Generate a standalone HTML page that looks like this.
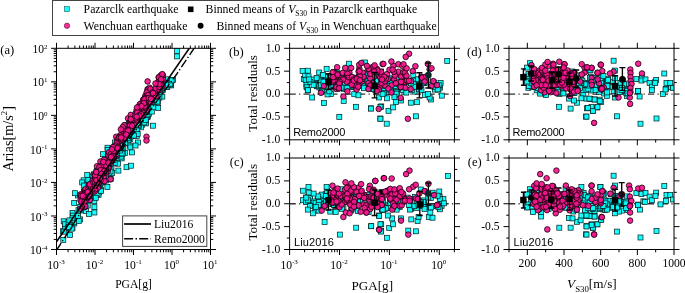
<!DOCTYPE html><html><head><meta charset="utf-8"><style>html,body{margin:0;padding:0;background:#fff}svg{display:block;will-change:transform}</style></head><body>
<svg width="685" height="293" viewBox="0 0 685 293">
<rect width="685" height="293" fill="#fff"/>
<rect x="52.5" y="0.5" width="386" height="35" fill="#fff" stroke="#444" stroke-width="1"/>
<rect x="64.5" y="6.7" width="4.9" height="4.9" fill="#19FFFF" stroke="#003b3b" stroke-width="0.5"/>
<circle cx="67.0" cy="25.8" r="2.7" fill="#FF2B9D" stroke="#30001a" stroke-width="0.5"/>
<text x="83.6" y="13.2" font-size="11.75" text-anchor="start" style="font-family:'Liberation Serif',serif;" >Pazarclk earthquake</text>
<text x="83.6" y="29.6" font-size="11.75" text-anchor="start" style="font-family:'Liberation Serif',serif;" >Wenchuan earthquake</text>
<rect x="187.9" y="6.5" width="5.6" height="5.6" fill="#000"/>
<circle cx="200.6" cy="25.8" r="2.95" fill="#000"/>
<text x="205.6" y="13.2" font-size="11.75" style="font-family:'Liberation Serif',serif;">Binned means of <tspan font-style="italic">V</tspan><tspan dy="3" font-size="7.6">S30</tspan><tspan dy="-3"> in Pazarclk earthquake</tspan></text>
<text x="216.5" y="29.6" font-size="11.75" style="font-family:'Liberation Serif',serif;">Binned means of <tspan font-style="italic">V</tspan><tspan dy="3" font-size="7.6">S30</tspan><tspan dy="-3"> in Wenchuan earthquake</tspan></text>
<clipPath id="ca"><rect x="56.5" y="48.3" width="154" height="201.2"/></clipPath>
<g clip-path="url(#ca)" fill="#00FFFF" fill-opacity="0.9" stroke="#001a1a" stroke-width="0.7"><rect x="61.2" y="218.8" width="5.0" height="5.0"/><rect x="70.0" y="225.6" width="5.0" height="5.0"/><rect x="88.6" y="180.2" width="5.0" height="5.0"/><rect x="83.5" y="208.4" width="5.0" height="5.0"/><rect x="62.8" y="224.8" width="5.0" height="5.0"/><rect x="76.0" y="207.7" width="5.0" height="5.0"/><rect x="75.4" y="193.0" width="5.0" height="5.0"/><rect x="67.6" y="232.4" width="5.0" height="5.0"/><rect x="86.0" y="183.3" width="5.0" height="5.0"/><rect x="64.0" y="226.1" width="5.0" height="5.0"/><rect x="75.6" y="215.6" width="5.0" height="5.0"/><rect x="79.0" y="202.0" width="5.0" height="5.0"/><rect x="72.5" y="190.7" width="5.0" height="5.0"/><rect x="80.8" y="193.8" width="5.0" height="5.0"/><rect x="87.6" y="190.7" width="5.0" height="5.0"/><rect x="94.0" y="169.2" width="5.0" height="5.0"/><rect x="71.0" y="218.9" width="5.0" height="5.0"/><rect x="83.0" y="189.8" width="5.0" height="5.0"/><rect x="83.4" y="179.8" width="5.0" height="5.0"/><rect x="71.8" y="220.9" width="5.0" height="5.0"/><rect x="60.8" y="237.4" width="5.0" height="5.0"/><rect x="98.4" y="187.0" width="5.0" height="5.0"/><rect x="70.0" y="210.6" width="5.0" height="5.0"/><rect x="71.7" y="215.3" width="5.0" height="5.0"/><rect x="94.4" y="187.0" width="5.0" height="5.0"/><rect x="81.9" y="199.7" width="5.0" height="5.0"/><rect x="78.0" y="208.0" width="5.0" height="5.0"/><rect x="88.1" y="184.3" width="5.0" height="5.0"/><rect x="60.5" y="228.7" width="5.0" height="5.0"/><rect x="85.7" y="188.8" width="5.0" height="5.0"/><rect x="71.7" y="200.5" width="5.0" height="5.0"/><rect x="62.8" y="225.3" width="5.0" height="5.0"/><rect x="82.8" y="185.9" width="5.0" height="5.0"/><rect x="93.4" y="172.0" width="5.0" height="5.0"/><rect x="67.6" y="220.8" width="5.0" height="5.0"/><rect x="86.4" y="211.4" width="5.0" height="5.0"/><rect x="70.5" y="213.1" width="5.0" height="5.0"/><rect x="88.6" y="194.6" width="5.0" height="5.0"/><rect x="87.2" y="192.8" width="5.0" height="5.0"/><rect x="69.2" y="226.2" width="5.0" height="5.0"/><rect x="89.8" y="178.9" width="5.0" height="5.0"/><rect x="81.1" y="177.8" width="5.0" height="5.0"/><rect x="86.4" y="198.0" width="5.0" height="5.0"/><rect x="89.6" y="180.5" width="5.0" height="5.0"/><rect x="77.7" y="216.9" width="5.0" height="5.0"/><rect x="87.2" y="183.7" width="5.0" height="5.0"/><rect x="91.0" y="173.3" width="5.0" height="5.0"/><rect x="62.6" y="221.7" width="5.0" height="5.0"/><rect x="91.9" y="184.6" width="5.0" height="5.0"/><rect x="76.3" y="218.6" width="5.0" height="5.0"/><rect x="77.7" y="204.5" width="5.0" height="5.0"/><rect x="65.5" y="225.2" width="5.0" height="5.0"/><rect x="87.0" y="197.5" width="5.0" height="5.0"/><rect x="71.5" y="219.7" width="5.0" height="5.0"/><rect x="93.2" y="186.1" width="5.0" height="5.0"/><rect x="69.9" y="215.8" width="5.0" height="5.0"/><rect x="79.4" y="192.8" width="5.0" height="5.0"/><rect x="75.5" y="213.3" width="5.0" height="5.0"/><rect x="82.0" y="193.5" width="5.0" height="5.0"/><rect x="67.4" y="222.5" width="5.0" height="5.0"/><rect x="66.0" y="219.5" width="5.0" height="5.0"/><rect x="87.6" y="188.3" width="5.0" height="5.0"/><rect x="84.7" y="172.6" width="5.0" height="5.0"/><rect x="79.6" y="192.6" width="5.0" height="5.0"/><rect x="96.5" y="190.0" width="5.0" height="5.0"/><rect x="66.9" y="217.9" width="5.0" height="5.0"/><rect x="89.9" y="174.6" width="5.0" height="5.0"/><rect x="66.4" y="224.3" width="5.0" height="5.0"/><rect x="94.3" y="168.5" width="5.0" height="5.0"/><rect x="83.9" y="200.4" width="5.0" height="5.0"/><rect x="82.7" y="198.5" width="5.0" height="5.0"/><rect x="97.2" y="181.8" width="5.0" height="5.0"/><rect x="88.3" y="182.2" width="5.0" height="5.0"/><rect x="91.8" y="198.7" width="5.0" height="5.0"/><rect x="61.7" y="229.2" width="5.0" height="5.0"/><rect x="105.6" y="158.1" width="5.0" height="5.0"/><rect x="87.5" y="187.0" width="5.0" height="5.0"/><rect x="96.1" y="184.4" width="5.0" height="5.0"/><rect x="95.8" y="174.6" width="5.0" height="5.0"/><rect x="139.5" y="122.5" width="5.0" height="5.0"/><rect x="91.4" y="188.8" width="5.0" height="5.0"/><rect x="103.5" y="178.0" width="5.0" height="5.0"/><rect x="115.5" y="155.7" width="5.0" height="5.0"/><rect x="138.2" y="119.5" width="5.0" height="5.0"/><rect x="144.4" y="102.3" width="5.0" height="5.0"/><rect x="128.7" y="131.7" width="5.0" height="5.0"/><rect x="97.3" y="182.0" width="5.0" height="5.0"/><rect x="118.0" y="146.2" width="5.0" height="5.0"/><rect x="129.0" y="133.7" width="5.0" height="5.0"/><rect x="85.0" y="188.5" width="5.0" height="5.0"/><rect x="126.0" y="129.7" width="5.0" height="5.0"/><rect x="104.9" y="155.2" width="5.0" height="5.0"/><rect x="122.5" y="150.4" width="5.0" height="5.0"/><rect x="126.0" y="134.4" width="5.0" height="5.0"/><rect x="125.1" y="129.9" width="5.0" height="5.0"/><rect x="114.4" y="137.9" width="5.0" height="5.0"/><rect x="118.1" y="143.1" width="5.0" height="5.0"/><rect x="97.2" y="188.1" width="5.0" height="5.0"/><rect x="115.1" y="153.1" width="5.0" height="5.0"/><rect x="89.4" y="179.8" width="5.0" height="5.0"/><rect x="115.5" y="161.2" width="5.0" height="5.0"/><rect x="119.2" y="155.9" width="5.0" height="5.0"/><rect x="134.0" y="130.2" width="5.0" height="5.0"/><rect x="109.0" y="165.0" width="5.0" height="5.0"/><rect x="85.2" y="203.0" width="5.0" height="5.0"/><rect x="117.4" y="150.5" width="5.0" height="5.0"/><rect x="96.7" y="182.7" width="5.0" height="5.0"/><rect x="129.4" y="121.0" width="5.0" height="5.0"/><rect x="109.7" y="170.4" width="5.0" height="5.0"/><rect x="107.4" y="162.3" width="5.0" height="5.0"/><rect x="143.5" y="120.9" width="5.0" height="5.0"/><rect x="105.0" y="145.2" width="5.0" height="5.0"/><rect x="106.0" y="168.6" width="5.0" height="5.0"/><rect x="106.3" y="170.6" width="5.0" height="5.0"/><rect x="113.1" y="148.8" width="5.0" height="5.0"/><rect x="89.0" y="191.1" width="5.0" height="5.0"/><rect x="118.9" y="150.2" width="5.0" height="5.0"/><rect x="143.3" y="114.9" width="5.0" height="5.0"/><rect x="118.1" y="139.6" width="5.0" height="5.0"/><rect x="130.5" y="125.3" width="5.0" height="5.0"/><rect x="145.3" y="114.0" width="5.0" height="5.0"/><rect x="138.6" y="124.8" width="5.0" height="5.0"/><rect x="130.8" y="126.9" width="5.0" height="5.0"/><rect x="135.9" y="123.4" width="5.0" height="5.0"/><rect x="136.4" y="123.2" width="5.0" height="5.0"/><rect x="100.2" y="180.0" width="5.0" height="5.0"/><rect x="112.2" y="143.7" width="5.0" height="5.0"/><rect x="102.7" y="155.0" width="5.0" height="5.0"/><rect x="99.5" y="172.8" width="5.0" height="5.0"/><rect x="117.9" y="134.8" width="5.0" height="5.0"/><rect x="102.1" y="162.5" width="5.0" height="5.0"/><rect x="122.6" y="138.7" width="5.0" height="5.0"/><rect x="120.8" y="144.9" width="5.0" height="5.0"/><rect x="87.6" y="179.3" width="5.0" height="5.0"/><rect x="112.2" y="160.4" width="5.0" height="5.0"/><rect x="105.2" y="147.4" width="5.0" height="5.0"/><rect x="129.0" y="133.6" width="5.0" height="5.0"/><rect x="85.8" y="177.4" width="5.0" height="5.0"/><rect x="91.5" y="171.8" width="5.0" height="5.0"/><rect x="116.5" y="152.7" width="5.0" height="5.0"/><rect x="108.0" y="155.6" width="5.0" height="5.0"/><rect x="124.4" y="128.1" width="5.0" height="5.0"/><rect x="103.3" y="162.1" width="5.0" height="5.0"/><rect x="95.8" y="181.3" width="5.0" height="5.0"/><rect x="143.5" y="111.8" width="5.0" height="5.0"/><rect x="98.1" y="173.4" width="5.0" height="5.0"/><rect x="93.3" y="190.2" width="5.0" height="5.0"/><rect x="99.5" y="165.2" width="5.0" height="5.0"/><rect x="103.7" y="161.2" width="5.0" height="5.0"/><rect x="96.2" y="171.8" width="5.0" height="5.0"/><rect x="118.8" y="154.1" width="5.0" height="5.0"/><rect x="144.6" y="114.8" width="5.0" height="5.0"/><rect x="92.3" y="193.8" width="5.0" height="5.0"/><rect x="109.2" y="157.2" width="5.0" height="5.0"/><rect x="125.5" y="132.3" width="5.0" height="5.0"/><rect x="141.1" y="119.3" width="5.0" height="5.0"/><rect x="147.7" y="104.2" width="5.0" height="5.0"/><rect x="92.8" y="188.9" width="5.0" height="5.0"/><rect x="118.2" y="150.9" width="5.0" height="5.0"/><rect x="139.8" y="114.4" width="5.0" height="5.0"/><rect x="85.6" y="191.1" width="5.0" height="5.0"/><rect x="120.4" y="140.2" width="5.0" height="5.0"/><rect x="96.0" y="192.4" width="5.0" height="5.0"/><rect x="135.4" y="140.0" width="5.0" height="5.0"/><rect x="143.9" y="111.0" width="5.0" height="5.0"/><rect x="117.3" y="145.8" width="5.0" height="5.0"/><rect x="79.7" y="179.9" width="5.0" height="5.0"/><rect x="86.8" y="192.1" width="5.0" height="5.0"/><rect x="109.3" y="157.3" width="5.0" height="5.0"/><rect x="137.3" y="116.3" width="5.0" height="5.0"/><rect x="98.8" y="179.8" width="5.0" height="5.0"/><rect x="123.6" y="122.4" width="5.0" height="5.0"/><rect x="108.3" y="156.8" width="5.0" height="5.0"/><rect x="99.7" y="172.6" width="5.0" height="5.0"/><rect x="126.3" y="121.3" width="5.0" height="5.0"/><rect x="103.5" y="173.5" width="5.0" height="5.0"/><rect x="108.0" y="168.9" width="5.0" height="5.0"/><rect x="130.1" y="114.5" width="5.0" height="5.0"/><rect x="112.5" y="140.0" width="5.0" height="5.0"/><rect x="134.4" y="128.0" width="5.0" height="5.0"/><rect x="115.8" y="147.6" width="5.0" height="5.0"/><rect x="91.0" y="173.1" width="5.0" height="5.0"/><rect x="110.7" y="152.6" width="5.0" height="5.0"/><rect x="139.7" y="117.2" width="5.0" height="5.0"/><rect x="118.8" y="142.2" width="5.0" height="5.0"/><rect x="146.3" y="111.6" width="5.0" height="5.0"/><rect x="82.9" y="199.3" width="5.0" height="5.0"/><rect x="106.9" y="176.9" width="5.0" height="5.0"/><rect x="134.2" y="133.5" width="5.0" height="5.0"/><rect x="127.8" y="136.5" width="5.0" height="5.0"/><rect x="120.3" y="151.1" width="5.0" height="5.0"/><rect x="127.3" y="143.1" width="5.0" height="5.0"/><rect x="140.4" y="119.6" width="5.0" height="5.0"/><rect x="125.0" y="123.4" width="5.0" height="5.0"/><rect x="119.1" y="150.9" width="5.0" height="5.0"/><rect x="119.0" y="143.9" width="5.0" height="5.0"/><rect x="127.9" y="144.9" width="5.0" height="5.0"/><rect x="103.5" y="166.7" width="5.0" height="5.0"/><rect x="126.5" y="137.0" width="5.0" height="5.0"/><rect x="122.7" y="140.8" width="5.0" height="5.0"/><rect x="135.2" y="131.5" width="5.0" height="5.0"/><rect x="113.8" y="152.5" width="5.0" height="5.0"/><rect x="83.7" y="192.3" width="5.0" height="5.0"/><rect x="117.6" y="148.0" width="5.0" height="5.0"/><rect x="138.5" y="117.5" width="5.0" height="5.0"/><rect x="124.1" y="137.2" width="5.0" height="5.0"/><rect x="124.1" y="135.7" width="5.0" height="5.0"/><rect x="108.1" y="161.6" width="5.0" height="5.0"/><rect x="108.2" y="176.4" width="5.0" height="5.0"/><rect x="128.5" y="125.8" width="5.0" height="5.0"/><rect x="87.4" y="189.6" width="5.0" height="5.0"/><rect x="139.2" y="117.5" width="5.0" height="5.0"/><rect x="140.4" y="119.5" width="5.0" height="5.0"/><rect x="144.8" y="105.0" width="5.0" height="5.0"/><rect x="90.1" y="179.0" width="5.0" height="5.0"/><rect x="89.7" y="185.5" width="5.0" height="5.0"/><rect x="141.5" y="117.4" width="5.0" height="5.0"/><rect x="108.3" y="158.4" width="5.0" height="5.0"/><rect x="99.2" y="167.6" width="5.0" height="5.0"/><rect x="105.9" y="154.5" width="5.0" height="5.0"/><rect x="125.9" y="137.8" width="5.0" height="5.0"/><rect x="94.8" y="191.5" width="5.0" height="5.0"/><rect x="114.4" y="152.8" width="5.0" height="5.0"/><rect x="125.5" y="135.5" width="5.0" height="5.0"/><rect x="129.8" y="131.5" width="5.0" height="5.0"/><rect x="81.8" y="189.0" width="5.0" height="5.0"/><rect x="135.5" y="122.3" width="5.0" height="5.0"/><rect x="110.1" y="153.7" width="5.0" height="5.0"/><rect x="111.0" y="157.5" width="5.0" height="5.0"/><rect x="118.8" y="143.2" width="5.0" height="5.0"/><rect x="98.8" y="161.7" width="5.0" height="5.0"/><rect x="141.4" y="120.0" width="5.0" height="5.0"/><rect x="98.5" y="188.5" width="5.0" height="5.0"/><rect x="117.2" y="143.5" width="5.0" height="5.0"/><rect x="93.8" y="183.6" width="5.0" height="5.0"/><rect x="122.7" y="140.2" width="5.0" height="5.0"/><rect x="142.2" y="117.4" width="5.0" height="5.0"/><rect x="139.4" y="111.6" width="5.0" height="5.0"/><rect x="93.3" y="195.3" width="5.0" height="5.0"/><rect x="122.3" y="134.3" width="5.0" height="5.0"/><rect x="141.9" y="120.0" width="5.0" height="5.0"/><rect x="95.4" y="178.3" width="5.0" height="5.0"/><rect x="108.7" y="154.7" width="5.0" height="5.0"/><rect x="128.5" y="128.2" width="5.0" height="5.0"/><rect x="131.5" y="133.1" width="5.0" height="5.0"/><rect x="151.9" y="96.1" width="5.0" height="5.0"/><rect x="158.2" y="89.0" width="5.0" height="5.0"/><rect x="159.1" y="87.2" width="5.0" height="5.0"/><rect x="148.1" y="97.7" width="5.0" height="5.0"/><rect x="159.8" y="94.1" width="5.0" height="5.0"/><rect x="156.9" y="95.1" width="5.0" height="5.0"/><rect x="160.3" y="87.4" width="5.0" height="5.0"/><rect x="155.2" y="100.1" width="5.0" height="5.0"/><rect x="148.1" y="101.1" width="5.0" height="5.0"/><rect x="151.9" y="99.5" width="5.0" height="5.0"/><rect x="168.7" y="82.9" width="5.0" height="5.0"/><rect x="144.7" y="114.6" width="5.0" height="5.0"/><rect x="141.2" y="105.6" width="5.0" height="5.0"/><rect x="136.1" y="108.2" width="5.0" height="5.0"/><rect x="164.6" y="76.8" width="5.0" height="5.0"/><rect x="170.4" y="77.5" width="5.0" height="5.0"/><rect x="145.2" y="107.4" width="5.0" height="5.0"/><rect x="146.4" y="106.9" width="5.0" height="5.0"/><rect x="144.8" y="112.9" width="5.0" height="5.0"/><rect x="156.6" y="89.0" width="5.0" height="5.0"/><rect x="153.7" y="98.1" width="5.0" height="5.0"/><rect x="164.8" y="84.5" width="5.0" height="5.0"/><rect x="145.0" y="111.9" width="5.0" height="5.0"/><rect x="166.4" y="80.4" width="5.0" height="5.0"/><rect x="152.4" y="96.4" width="5.0" height="5.0"/><rect x="164.2" y="84.1" width="5.0" height="5.0"/><rect x="163.4" y="81.2" width="5.0" height="5.0"/><rect x="168.0" y="82.0" width="5.0" height="5.0"/><rect x="155.7" y="105.5" width="5.0" height="5.0"/><rect x="157.0" y="89.1" width="5.0" height="5.0"/><rect x="154.5" y="86.5" width="5.0" height="5.0"/><rect x="143.8" y="109.7" width="5.0" height="5.0"/><rect x="154.3" y="97.9" width="5.0" height="5.0"/><rect x="168.4" y="80.4" width="5.0" height="5.0"/><rect x="167.8" y="81.3" width="5.0" height="5.0"/><rect x="138.2" y="116.4" width="5.0" height="5.0"/><rect x="158.7" y="86.4" width="5.0" height="5.0"/><rect x="149.3" y="109.1" width="5.0" height="5.0"/><rect x="141.6" y="110.0" width="5.0" height="5.0"/><rect x="143.2" y="117.3" width="5.0" height="5.0"/><rect x="163.3" y="82.2" width="5.0" height="5.0"/><rect x="169.2" y="77.9" width="5.0" height="5.0"/><rect x="155.1" y="98.2" width="5.0" height="5.0"/><rect x="150.8" y="104.8" width="5.0" height="5.0"/><rect x="154.9" y="99.1" width="5.0" height="5.0"/><rect x="81.5" y="183.1" width="5.0" height="5.0"/><rect x="81.5" y="189.5" width="5.0" height="5.0"/><rect x="115.9" y="168.1" width="5.0" height="5.0"/><rect x="104.9" y="184.5" width="5.0" height="5.0"/><rect x="124.0" y="164.7" width="5.0" height="5.0"/><rect x="128.4" y="163.2" width="5.0" height="5.0"/><rect x="150.5" y="123.2" width="5.0" height="5.0"/><rect x="129.4" y="149.9" width="5.0" height="5.0"/><rect x="133.0" y="143.0" width="5.0" height="5.0"/><rect x="174.5" y="48.4" width="5.0" height="5.0"/><rect x="174.5" y="53.9" width="5.0" height="5.0"/><rect x="91.9" y="204.7" width="5.0" height="5.0"/><rect x="91.9" y="210.0" width="5.0" height="5.0"/><rect x="100.5" y="151.7" width="5.0" height="5.0"/></g><g clip-path="url(#ca)" fill="#F8148F" fill-opacity="0.92" stroke="#120008" stroke-width="0.8"><circle cx="94.3" cy="188.5" r="2.8"/><circle cx="85.4" cy="189.2" r="2.8"/><circle cx="80.0" cy="195.7" r="2.8"/><circle cx="92.7" cy="188.5" r="2.8"/><circle cx="92.8" cy="180.8" r="2.8"/><circle cx="96.2" cy="183.0" r="2.8"/><circle cx="83.7" cy="192.8" r="2.8"/><circle cx="94.9" cy="191.4" r="2.8"/><circle cx="89.0" cy="191.2" r="2.8"/><circle cx="82.4" cy="194.3" r="2.8"/><circle cx="92.3" cy="187.3" r="2.8"/><circle cx="100.0" cy="180.0" r="2.8"/><circle cx="89.1" cy="186.7" r="2.8"/><circle cx="101.4" cy="176.0" r="2.8"/><circle cx="103.7" cy="181.3" r="2.8"/><circle cx="80.4" cy="208.6" r="2.8"/><circle cx="86.5" cy="194.8" r="2.8"/><circle cx="88.5" cy="188.7" r="2.8"/><circle cx="97.8" cy="181.7" r="2.8"/><circle cx="94.6" cy="174.5" r="2.8"/><circle cx="97.0" cy="166.3" r="2.8"/><circle cx="82.2" cy="197.4" r="2.8"/><circle cx="88.6" cy="185.7" r="2.8"/><circle cx="84.8" cy="207.1" r="2.8"/><circle cx="102.4" cy="172.5" r="2.8"/><circle cx="100.5" cy="168.9" r="2.8"/><circle cx="89.1" cy="184.5" r="2.8"/><circle cx="106.3" cy="168.3" r="2.8"/><circle cx="84.1" cy="193.8" r="2.8"/><circle cx="80.5" cy="200.3" r="2.8"/><circle cx="91.2" cy="187.5" r="2.8"/><circle cx="100.1" cy="175.6" r="2.8"/><circle cx="108.4" cy="162.1" r="2.8"/><circle cx="95.3" cy="182.8" r="2.8"/><circle cx="84.1" cy="205.7" r="2.8"/><circle cx="97.9" cy="187.8" r="2.8"/><circle cx="80.5" cy="194.4" r="2.8"/><circle cx="104.5" cy="181.1" r="2.8"/><circle cx="89.7" cy="191.0" r="2.8"/><circle cx="83.1" cy="206.9" r="2.8"/><circle cx="84.5" cy="193.8" r="2.8"/><circle cx="104.9" cy="170.0" r="2.8"/><circle cx="107.2" cy="165.1" r="2.8"/><circle cx="85.5" cy="197.0" r="2.8"/><circle cx="109.9" cy="163.2" r="2.8"/><circle cx="105.8" cy="170.0" r="2.8"/><circle cx="89.9" cy="184.4" r="2.8"/><circle cx="81.5" cy="201.6" r="2.8"/><circle cx="84.5" cy="201.9" r="2.8"/><circle cx="93.1" cy="189.2" r="2.8"/><circle cx="86.2" cy="193.6" r="2.8"/><circle cx="85.5" cy="194.9" r="2.8"/><circle cx="88.2" cy="191.7" r="2.8"/><circle cx="106.3" cy="159.5" r="2.8"/><circle cx="81.1" cy="195.7" r="2.8"/><circle cx="107.7" cy="171.4" r="2.8"/><circle cx="93.5" cy="182.6" r="2.8"/><circle cx="102.1" cy="172.7" r="2.8"/><circle cx="95.4" cy="177.9" r="2.8"/><circle cx="108.4" cy="168.6" r="2.8"/><circle cx="85.4" cy="206.3" r="2.8"/><circle cx="87.7" cy="192.1" r="2.8"/><circle cx="95.2" cy="185.1" r="2.8"/><circle cx="95.2" cy="178.0" r="2.8"/><circle cx="89.9" cy="199.9" r="2.8"/><circle cx="89.2" cy="196.3" r="2.8"/><circle cx="82.7" cy="195.9" r="2.8"/><circle cx="95.1" cy="189.5" r="2.8"/><circle cx="104.9" cy="170.1" r="2.8"/><circle cx="106.0" cy="168.4" r="2.8"/><circle cx="117.8" cy="145.7" r="2.8"/><circle cx="148.9" cy="92.7" r="2.8"/><circle cx="148.2" cy="94.5" r="2.8"/><circle cx="112.6" cy="156.9" r="2.8"/><circle cx="101.4" cy="173.0" r="2.8"/><circle cx="141.0" cy="104.3" r="2.8"/><circle cx="146.7" cy="110.0" r="2.8"/><circle cx="130.7" cy="123.5" r="2.8"/><circle cx="148.0" cy="94.7" r="2.8"/><circle cx="121.3" cy="135.2" r="2.8"/><circle cx="123.8" cy="137.4" r="2.8"/><circle cx="99.1" cy="182.1" r="2.8"/><circle cx="115.3" cy="149.8" r="2.8"/><circle cx="145.9" cy="105.4" r="2.8"/><circle cx="100.7" cy="165.9" r="2.8"/><circle cx="102.6" cy="169.4" r="2.8"/><circle cx="96.8" cy="177.3" r="2.8"/><circle cx="122.3" cy="136.7" r="2.8"/><circle cx="128.2" cy="130.1" r="2.8"/><circle cx="124.3" cy="125.2" r="2.8"/><circle cx="143.3" cy="115.8" r="2.8"/><circle cx="132.4" cy="118.2" r="2.8"/><circle cx="130.0" cy="126.8" r="2.8"/><circle cx="128.1" cy="131.6" r="2.8"/><circle cx="122.8" cy="139.4" r="2.8"/><circle cx="99.1" cy="177.9" r="2.8"/><circle cx="100.4" cy="161.5" r="2.8"/><circle cx="130.4" cy="120.2" r="2.8"/><circle cx="106.7" cy="169.0" r="2.8"/><circle cx="117.8" cy="139.9" r="2.8"/><circle cx="130.6" cy="120.0" r="2.8"/><circle cx="128.0" cy="118.4" r="2.8"/><circle cx="108.4" cy="167.9" r="2.8"/><circle cx="109.7" cy="161.7" r="2.8"/><circle cx="102.7" cy="166.1" r="2.8"/><circle cx="131.4" cy="122.7" r="2.8"/><circle cx="134.6" cy="118.2" r="2.8"/><circle cx="102.3" cy="165.5" r="2.8"/><circle cx="109.9" cy="157.3" r="2.8"/><circle cx="103.2" cy="171.9" r="2.8"/><circle cx="128.7" cy="129.5" r="2.8"/><circle cx="111.3" cy="162.4" r="2.8"/><circle cx="142.8" cy="105.7" r="2.8"/><circle cx="109.6" cy="156.7" r="2.8"/><circle cx="130.4" cy="126.3" r="2.8"/><circle cx="130.0" cy="122.6" r="2.8"/><circle cx="146.8" cy="92.9" r="2.8"/><circle cx="134.8" cy="123.1" r="2.8"/><circle cx="146.3" cy="98.1" r="2.8"/><circle cx="127.1" cy="129.9" r="2.8"/><circle cx="95.2" cy="185.6" r="2.8"/><circle cx="113.0" cy="147.5" r="2.8"/><circle cx="135.7" cy="119.5" r="2.8"/><circle cx="113.8" cy="153.4" r="2.8"/><circle cx="131.2" cy="123.1" r="2.8"/><circle cx="101.5" cy="175.1" r="2.8"/><circle cx="130.6" cy="121.2" r="2.8"/><circle cx="116.2" cy="136.8" r="2.8"/><circle cx="147.0" cy="97.4" r="2.8"/><circle cx="98.9" cy="171.4" r="2.8"/><circle cx="114.8" cy="153.5" r="2.8"/><circle cx="137.2" cy="115.6" r="2.8"/><circle cx="116.6" cy="143.8" r="2.8"/><circle cx="120.4" cy="139.4" r="2.8"/><circle cx="113.4" cy="158.6" r="2.8"/><circle cx="100.4" cy="180.8" r="2.8"/><circle cx="112.6" cy="155.3" r="2.8"/><circle cx="143.2" cy="107.0" r="2.8"/><circle cx="137.2" cy="113.2" r="2.8"/><circle cx="112.0" cy="154.0" r="2.8"/><circle cx="131.8" cy="125.1" r="2.8"/><circle cx="138.7" cy="111.6" r="2.8"/><circle cx="138.8" cy="113.2" r="2.8"/><circle cx="98.0" cy="171.6" r="2.8"/><circle cx="104.0" cy="159.8" r="2.8"/><circle cx="147.6" cy="89.2" r="2.8"/><circle cx="110.4" cy="155.4" r="2.8"/><circle cx="137.8" cy="119.3" r="2.8"/><circle cx="129.7" cy="130.7" r="2.8"/><circle cx="143.0" cy="100.5" r="2.8"/><circle cx="99.3" cy="167.3" r="2.8"/><circle cx="146.4" cy="104.0" r="2.8"/><circle cx="143.2" cy="107.2" r="2.8"/><circle cx="108.1" cy="154.6" r="2.8"/><circle cx="134.1" cy="123.7" r="2.8"/><circle cx="95.3" cy="182.8" r="2.8"/><circle cx="142.6" cy="112.2" r="2.8"/><circle cx="117.8" cy="145.4" r="2.8"/><circle cx="135.7" cy="120.6" r="2.8"/><circle cx="138.7" cy="113.5" r="2.8"/><circle cx="96.5" cy="174.8" r="2.8"/><circle cx="143.5" cy="103.3" r="2.8"/><circle cx="100.8" cy="170.0" r="2.8"/><circle cx="103.5" cy="174.5" r="2.8"/><circle cx="120.1" cy="135.4" r="2.8"/><circle cx="108.9" cy="152.3" r="2.8"/><circle cx="130.6" cy="127.1" r="2.8"/><circle cx="105.5" cy="173.1" r="2.8"/><circle cx="129.3" cy="132.3" r="2.8"/><circle cx="136.9" cy="119.7" r="2.8"/><circle cx="148.0" cy="89.5" r="2.8"/><circle cx="117.0" cy="142.3" r="2.8"/><circle cx="110.7" cy="154.2" r="2.8"/><circle cx="126.8" cy="129.8" r="2.8"/><circle cx="130.8" cy="114.9" r="2.8"/><circle cx="145.8" cy="100.8" r="2.8"/><circle cx="127.2" cy="130.4" r="2.8"/><circle cx="119.1" cy="137.3" r="2.8"/><circle cx="111.4" cy="156.4" r="2.8"/><circle cx="134.9" cy="123.1" r="2.8"/><circle cx="130.1" cy="125.3" r="2.8"/><circle cx="98.9" cy="182.4" r="2.8"/><circle cx="111.5" cy="160.7" r="2.8"/><circle cx="104.2" cy="171.1" r="2.8"/><circle cx="122.2" cy="138.1" r="2.8"/><circle cx="116.0" cy="145.6" r="2.8"/><circle cx="103.7" cy="176.4" r="2.8"/><circle cx="124.1" cy="131.7" r="2.8"/><circle cx="131.3" cy="120.4" r="2.8"/><circle cx="113.8" cy="154.7" r="2.8"/><circle cx="140.9" cy="105.2" r="2.8"/><circle cx="100.6" cy="176.5" r="2.8"/><circle cx="98.2" cy="183.5" r="2.8"/><circle cx="133.9" cy="119.8" r="2.8"/><circle cx="126.0" cy="131.5" r="2.8"/><circle cx="136.3" cy="119.7" r="2.8"/><circle cx="146.4" cy="103.7" r="2.8"/><circle cx="123.1" cy="128.8" r="2.8"/><circle cx="139.9" cy="104.1" r="2.8"/><circle cx="130.6" cy="129.9" r="2.8"/><circle cx="123.3" cy="136.6" r="2.8"/><circle cx="122.7" cy="127.1" r="2.8"/><circle cx="149.6" cy="87.7" r="2.8"/><circle cx="114.0" cy="151.0" r="2.8"/><circle cx="118.4" cy="138.6" r="2.8"/><circle cx="121.1" cy="140.2" r="2.8"/><circle cx="130.2" cy="125.3" r="2.8"/><circle cx="98.4" cy="180.1" r="2.8"/><circle cx="130.8" cy="119.1" r="2.8"/><circle cx="97.1" cy="182.7" r="2.8"/><circle cx="115.9" cy="156.5" r="2.8"/><circle cx="119.3" cy="137.7" r="2.8"/><circle cx="126.1" cy="136.4" r="2.8"/><circle cx="126.4" cy="134.5" r="2.8"/><circle cx="128.2" cy="130.6" r="2.8"/><circle cx="96.3" cy="180.0" r="2.8"/><circle cx="113.1" cy="147.1" r="2.8"/><circle cx="135.6" cy="113.3" r="2.8"/><circle cx="117.9" cy="147.0" r="2.8"/><circle cx="140.4" cy="113.9" r="2.8"/><circle cx="124.9" cy="137.8" r="2.8"/><circle cx="126.3" cy="134.6" r="2.8"/><circle cx="132.2" cy="125.8" r="2.8"/><circle cx="149.1" cy="93.4" r="2.8"/><circle cx="95.2" cy="175.2" r="2.8"/><circle cx="101.5" cy="173.9" r="2.8"/><circle cx="99.9" cy="178.0" r="2.8"/><circle cx="106.3" cy="165.7" r="2.8"/><circle cx="96.1" cy="172.1" r="2.8"/><circle cx="149.3" cy="92.5" r="2.8"/><circle cx="103.3" cy="162.0" r="2.8"/><circle cx="121.1" cy="138.9" r="2.8"/><circle cx="143.5" cy="99.4" r="2.8"/><circle cx="121.1" cy="137.5" r="2.8"/><circle cx="108.6" cy="162.8" r="2.8"/><circle cx="111.1" cy="157.1" r="2.8"/><circle cx="118.2" cy="149.1" r="2.8"/><circle cx="111.9" cy="149.4" r="2.8"/><circle cx="120.9" cy="129.4" r="2.8"/><circle cx="117.7" cy="148.2" r="2.8"/><circle cx="137.3" cy="120.5" r="2.8"/><circle cx="159.5" cy="88.0" r="2.8"/><circle cx="162.1" cy="76.9" r="2.8"/><circle cx="150.8" cy="96.0" r="2.8"/><circle cx="137.6" cy="114.3" r="2.8"/><circle cx="160.4" cy="80.3" r="2.8"/><circle cx="145.2" cy="104.4" r="2.8"/><circle cx="145.7" cy="98.2" r="2.8"/><circle cx="142.2" cy="115.8" r="2.8"/><circle cx="161.0" cy="75.2" r="2.8"/><circle cx="154.4" cy="93.7" r="2.8"/><circle cx="143.4" cy="101.7" r="2.8"/><circle cx="145.3" cy="95.9" r="2.8"/><circle cx="146.8" cy="92.3" r="2.8"/><circle cx="145.7" cy="97.5" r="2.8"/><circle cx="153.8" cy="96.8" r="2.8"/><circle cx="161.6" cy="78.5" r="2.8"/><circle cx="136.2" cy="118.3" r="2.8"/><circle cx="158.7" cy="77.3" r="2.8"/><circle cx="158.8" cy="85.5" r="2.8"/><circle cx="141.1" cy="108.8" r="2.8"/><circle cx="162.4" cy="85.1" r="2.8"/><circle cx="159.5" cy="80.5" r="2.8"/><circle cx="155.2" cy="92.8" r="2.8"/><circle cx="138.0" cy="113.0" r="2.8"/><circle cx="147.5" cy="100.8" r="2.8"/><circle cx="156.2" cy="96.3" r="2.8"/><circle cx="150.5" cy="89.1" r="2.8"/><circle cx="136.6" cy="110.0" r="2.8"/><circle cx="156.4" cy="90.0" r="2.8"/><circle cx="146.5" cy="102.1" r="2.8"/><circle cx="141.2" cy="107.8" r="2.8"/><circle cx="144.7" cy="103.9" r="2.8"/><circle cx="137.9" cy="111.9" r="2.8"/><circle cx="145.1" cy="104.6" r="2.8"/><circle cx="135.4" cy="115.9" r="2.8"/><circle cx="163.0" cy="78.9" r="2.8"/><circle cx="138.8" cy="106.7" r="2.8"/><circle cx="144.5" cy="99.0" r="2.8"/><circle cx="143.4" cy="105.2" r="2.8"/><circle cx="147.9" cy="95.2" r="2.8"/><circle cx="144.5" cy="106.4" r="2.8"/><circle cx="159.8" cy="78.5" r="2.8"/><circle cx="140.2" cy="107.2" r="2.8"/><circle cx="162.9" cy="75.2" r="2.8"/><circle cx="146.0" cy="98.0" r="2.8"/><circle cx="162.5" cy="85.7" r="2.8"/><circle cx="144.4" cy="99.2" r="2.8"/><circle cx="137.3" cy="112.4" r="2.8"/><circle cx="158.3" cy="81.7" r="2.8"/><circle cx="139.4" cy="115.1" r="2.8"/><circle cx="155.8" cy="88.4" r="2.8"/><circle cx="159.7" cy="90.0" r="2.8"/><circle cx="141.1" cy="114.4" r="2.8"/><circle cx="143.9" cy="103.1" r="2.8"/><circle cx="150.8" cy="102.1" r="2.8"/><circle cx="159.3" cy="86.8" r="2.8"/><circle cx="158.9" cy="77.4" r="2.8"/><circle cx="148.6" cy="98.2" r="2.8"/><circle cx="150.9" cy="98.9" r="2.8"/><circle cx="157.5" cy="83.9" r="2.8"/><circle cx="139.3" cy="115.8" r="2.8"/><circle cx="161.1" cy="79.3" r="2.8"/><circle cx="159.2" cy="84.1" r="2.8"/><circle cx="141.5" cy="106.2" r="2.8"/><circle cx="152.6" cy="92.3" r="2.8"/><circle cx="155.5" cy="83.5" r="2.8"/><circle cx="153.1" cy="93.2" r="2.8"/><circle cx="137.0" cy="107.5" r="2.8"/><circle cx="136.7" cy="116.8" r="2.8"/><circle cx="110.6" cy="179.2" r="2.8"/><circle cx="146.5" cy="136.7" r="2.8"/><circle cx="146.5" cy="140.5" r="2.8"/><circle cx="162.3" cy="74.1" r="2.8"/><circle cx="147.6" cy="81.4" r="2.8"/></g>
<g clip-path="url(#ca)">
<line x1="56.50" y1="241.80" x2="189.80" y2="47.50" stroke="#000" stroke-width="1.6" />
<polyline fill="none" stroke="#000" stroke-width="1.4" stroke-dasharray="8.8 2.3 1.4 2.3" stroke-dashoffset="1.2" points="57.0,249.5 68.3,232 77.8,217 101.7,180 124.1,146 151.9,108 176.8,74 194.6,47.5"/>
</g>
<rect x="122.6" y="215.9" width="84.2" height="30.5" fill="#fff" stroke="#444" stroke-width="1"/>
<line x1="124.10" y1="224.00" x2="151.00" y2="224.00" stroke="#000" stroke-width="1.7" />
<line x1="124.10" y1="238.80" x2="151.00" y2="238.80" stroke="#000" stroke-width="1.4" stroke-dasharray="9 2.4 1.5 2.2"/>
<text x="154.0" y="227.8" font-size="11.6" text-anchor="start" style="font-family:'Liberation Serif',serif;" >Liu2016</text>
<text x="154.0" y="242.8" font-size="11.6" text-anchor="start" style="font-family:'Liberation Serif',serif;" >Remo2000</text>
<rect x="56.5" y="48.3" width="154.0" height="201.2" fill="none" stroke="#000" stroke-width="1"/>
<line x1="56.50" y1="48.30" x2="56.50" y2="42.80" stroke="#000" stroke-width="1" />
<line x1="56.50" y1="249.50" x2="56.50" y2="255.00" stroke="#000" stroke-width="1" />
<line x1="68.09" y1="48.30" x2="68.09" y2="45.50" stroke="#000" stroke-width="1" />
<line x1="68.09" y1="249.50" x2="68.09" y2="252.30" stroke="#000" stroke-width="1" />
<line x1="74.87" y1="48.30" x2="74.87" y2="45.50" stroke="#000" stroke-width="1" />
<line x1="74.87" y1="249.50" x2="74.87" y2="252.30" stroke="#000" stroke-width="1" />
<line x1="79.68" y1="48.30" x2="79.68" y2="45.50" stroke="#000" stroke-width="1" />
<line x1="79.68" y1="249.50" x2="79.68" y2="252.30" stroke="#000" stroke-width="1" />
<line x1="83.41" y1="48.30" x2="83.41" y2="45.50" stroke="#000" stroke-width="1" />
<line x1="83.41" y1="249.50" x2="83.41" y2="252.30" stroke="#000" stroke-width="1" />
<line x1="86.46" y1="48.30" x2="86.46" y2="45.50" stroke="#000" stroke-width="1" />
<line x1="86.46" y1="249.50" x2="86.46" y2="252.30" stroke="#000" stroke-width="1" />
<line x1="89.04" y1="48.30" x2="89.04" y2="45.50" stroke="#000" stroke-width="1" />
<line x1="89.04" y1="249.50" x2="89.04" y2="252.30" stroke="#000" stroke-width="1" />
<line x1="91.27" y1="48.30" x2="91.27" y2="45.50" stroke="#000" stroke-width="1" />
<line x1="91.27" y1="249.50" x2="91.27" y2="252.30" stroke="#000" stroke-width="1" />
<line x1="93.24" y1="48.30" x2="93.24" y2="45.50" stroke="#000" stroke-width="1" />
<line x1="93.24" y1="249.50" x2="93.24" y2="252.30" stroke="#000" stroke-width="1" />
<line x1="95.00" y1="48.30" x2="95.00" y2="42.80" stroke="#000" stroke-width="1" />
<line x1="95.00" y1="249.50" x2="95.00" y2="255.00" stroke="#000" stroke-width="1" />
<line x1="106.59" y1="48.30" x2="106.59" y2="45.50" stroke="#000" stroke-width="1" />
<line x1="106.59" y1="249.50" x2="106.59" y2="252.30" stroke="#000" stroke-width="1" />
<line x1="113.37" y1="48.30" x2="113.37" y2="45.50" stroke="#000" stroke-width="1" />
<line x1="113.37" y1="249.50" x2="113.37" y2="252.30" stroke="#000" stroke-width="1" />
<line x1="118.18" y1="48.30" x2="118.18" y2="45.50" stroke="#000" stroke-width="1" />
<line x1="118.18" y1="249.50" x2="118.18" y2="252.30" stroke="#000" stroke-width="1" />
<line x1="121.91" y1="48.30" x2="121.91" y2="45.50" stroke="#000" stroke-width="1" />
<line x1="121.91" y1="249.50" x2="121.91" y2="252.30" stroke="#000" stroke-width="1" />
<line x1="124.96" y1="48.30" x2="124.96" y2="45.50" stroke="#000" stroke-width="1" />
<line x1="124.96" y1="249.50" x2="124.96" y2="252.30" stroke="#000" stroke-width="1" />
<line x1="127.54" y1="48.30" x2="127.54" y2="45.50" stroke="#000" stroke-width="1" />
<line x1="127.54" y1="249.50" x2="127.54" y2="252.30" stroke="#000" stroke-width="1" />
<line x1="129.77" y1="48.30" x2="129.77" y2="45.50" stroke="#000" stroke-width="1" />
<line x1="129.77" y1="249.50" x2="129.77" y2="252.30" stroke="#000" stroke-width="1" />
<line x1="131.74" y1="48.30" x2="131.74" y2="45.50" stroke="#000" stroke-width="1" />
<line x1="131.74" y1="249.50" x2="131.74" y2="252.30" stroke="#000" stroke-width="1" />
<line x1="133.50" y1="48.30" x2="133.50" y2="42.80" stroke="#000" stroke-width="1" />
<line x1="133.50" y1="249.50" x2="133.50" y2="255.00" stroke="#000" stroke-width="1" />
<line x1="145.09" y1="48.30" x2="145.09" y2="45.50" stroke="#000" stroke-width="1" />
<line x1="145.09" y1="249.50" x2="145.09" y2="252.30" stroke="#000" stroke-width="1" />
<line x1="151.87" y1="48.30" x2="151.87" y2="45.50" stroke="#000" stroke-width="1" />
<line x1="151.87" y1="249.50" x2="151.87" y2="252.30" stroke="#000" stroke-width="1" />
<line x1="156.68" y1="48.30" x2="156.68" y2="45.50" stroke="#000" stroke-width="1" />
<line x1="156.68" y1="249.50" x2="156.68" y2="252.30" stroke="#000" stroke-width="1" />
<line x1="160.41" y1="48.30" x2="160.41" y2="45.50" stroke="#000" stroke-width="1" />
<line x1="160.41" y1="249.50" x2="160.41" y2="252.30" stroke="#000" stroke-width="1" />
<line x1="163.46" y1="48.30" x2="163.46" y2="45.50" stroke="#000" stroke-width="1" />
<line x1="163.46" y1="249.50" x2="163.46" y2="252.30" stroke="#000" stroke-width="1" />
<line x1="166.04" y1="48.30" x2="166.04" y2="45.50" stroke="#000" stroke-width="1" />
<line x1="166.04" y1="249.50" x2="166.04" y2="252.30" stroke="#000" stroke-width="1" />
<line x1="168.27" y1="48.30" x2="168.27" y2="45.50" stroke="#000" stroke-width="1" />
<line x1="168.27" y1="249.50" x2="168.27" y2="252.30" stroke="#000" stroke-width="1" />
<line x1="170.24" y1="48.30" x2="170.24" y2="45.50" stroke="#000" stroke-width="1" />
<line x1="170.24" y1="249.50" x2="170.24" y2="252.30" stroke="#000" stroke-width="1" />
<line x1="172.00" y1="48.30" x2="172.00" y2="42.80" stroke="#000" stroke-width="1" />
<line x1="172.00" y1="249.50" x2="172.00" y2="255.00" stroke="#000" stroke-width="1" />
<line x1="183.59" y1="48.30" x2="183.59" y2="45.50" stroke="#000" stroke-width="1" />
<line x1="183.59" y1="249.50" x2="183.59" y2="252.30" stroke="#000" stroke-width="1" />
<line x1="190.37" y1="48.30" x2="190.37" y2="45.50" stroke="#000" stroke-width="1" />
<line x1="190.37" y1="249.50" x2="190.37" y2="252.30" stroke="#000" stroke-width="1" />
<line x1="195.18" y1="48.30" x2="195.18" y2="45.50" stroke="#000" stroke-width="1" />
<line x1="195.18" y1="249.50" x2="195.18" y2="252.30" stroke="#000" stroke-width="1" />
<line x1="198.91" y1="48.30" x2="198.91" y2="45.50" stroke="#000" stroke-width="1" />
<line x1="198.91" y1="249.50" x2="198.91" y2="252.30" stroke="#000" stroke-width="1" />
<line x1="201.96" y1="48.30" x2="201.96" y2="45.50" stroke="#000" stroke-width="1" />
<line x1="201.96" y1="249.50" x2="201.96" y2="252.30" stroke="#000" stroke-width="1" />
<line x1="204.54" y1="48.30" x2="204.54" y2="45.50" stroke="#000" stroke-width="1" />
<line x1="204.54" y1="249.50" x2="204.54" y2="252.30" stroke="#000" stroke-width="1" />
<line x1="206.77" y1="48.30" x2="206.77" y2="45.50" stroke="#000" stroke-width="1" />
<line x1="206.77" y1="249.50" x2="206.77" y2="252.30" stroke="#000" stroke-width="1" />
<line x1="208.74" y1="48.30" x2="208.74" y2="45.50" stroke="#000" stroke-width="1" />
<line x1="208.74" y1="249.50" x2="208.74" y2="252.30" stroke="#000" stroke-width="1" />
<line x1="210.50" y1="48.30" x2="210.50" y2="42.80" stroke="#000" stroke-width="1" />
<line x1="210.50" y1="249.50" x2="210.50" y2="255.00" stroke="#000" stroke-width="1" />
<line x1="56.50" y1="249.50" x2="51.00" y2="249.50" stroke="#000" stroke-width="1" />
<line x1="210.50" y1="249.50" x2="216.00" y2="249.50" stroke="#000" stroke-width="1" />
<line x1="56.50" y1="239.41" x2="53.70" y2="239.41" stroke="#000" stroke-width="1" />
<line x1="210.50" y1="239.41" x2="213.30" y2="239.41" stroke="#000" stroke-width="1" />
<line x1="56.50" y1="233.50" x2="53.70" y2="233.50" stroke="#000" stroke-width="1" />
<line x1="210.50" y1="233.50" x2="213.30" y2="233.50" stroke="#000" stroke-width="1" />
<line x1="56.50" y1="229.31" x2="53.70" y2="229.31" stroke="#000" stroke-width="1" />
<line x1="210.50" y1="229.31" x2="213.30" y2="229.31" stroke="#000" stroke-width="1" />
<line x1="56.50" y1="226.06" x2="53.70" y2="226.06" stroke="#000" stroke-width="1" />
<line x1="210.50" y1="226.06" x2="213.30" y2="226.06" stroke="#000" stroke-width="1" />
<line x1="56.50" y1="223.41" x2="53.70" y2="223.41" stroke="#000" stroke-width="1" />
<line x1="210.50" y1="223.41" x2="213.30" y2="223.41" stroke="#000" stroke-width="1" />
<line x1="56.50" y1="221.16" x2="53.70" y2="221.16" stroke="#000" stroke-width="1" />
<line x1="210.50" y1="221.16" x2="213.30" y2="221.16" stroke="#000" stroke-width="1" />
<line x1="56.50" y1="219.22" x2="53.70" y2="219.22" stroke="#000" stroke-width="1" />
<line x1="210.50" y1="219.22" x2="213.30" y2="219.22" stroke="#000" stroke-width="1" />
<line x1="56.50" y1="217.50" x2="53.70" y2="217.50" stroke="#000" stroke-width="1" />
<line x1="210.50" y1="217.50" x2="213.30" y2="217.50" stroke="#000" stroke-width="1" />
<line x1="56.50" y1="215.97" x2="51.00" y2="215.97" stroke="#000" stroke-width="1" />
<line x1="210.50" y1="215.97" x2="216.00" y2="215.97" stroke="#000" stroke-width="1" />
<line x1="56.50" y1="205.87" x2="53.70" y2="205.87" stroke="#000" stroke-width="1" />
<line x1="210.50" y1="205.87" x2="213.30" y2="205.87" stroke="#000" stroke-width="1" />
<line x1="56.50" y1="199.97" x2="53.70" y2="199.97" stroke="#000" stroke-width="1" />
<line x1="210.50" y1="199.97" x2="213.30" y2="199.97" stroke="#000" stroke-width="1" />
<line x1="56.50" y1="195.78" x2="53.70" y2="195.78" stroke="#000" stroke-width="1" />
<line x1="210.50" y1="195.78" x2="213.30" y2="195.78" stroke="#000" stroke-width="1" />
<line x1="56.50" y1="192.53" x2="53.70" y2="192.53" stroke="#000" stroke-width="1" />
<line x1="210.50" y1="192.53" x2="213.30" y2="192.53" stroke="#000" stroke-width="1" />
<line x1="56.50" y1="189.87" x2="53.70" y2="189.87" stroke="#000" stroke-width="1" />
<line x1="210.50" y1="189.87" x2="213.30" y2="189.87" stroke="#000" stroke-width="1" />
<line x1="56.50" y1="187.63" x2="53.70" y2="187.63" stroke="#000" stroke-width="1" />
<line x1="210.50" y1="187.63" x2="213.30" y2="187.63" stroke="#000" stroke-width="1" />
<line x1="56.50" y1="185.68" x2="53.70" y2="185.68" stroke="#000" stroke-width="1" />
<line x1="210.50" y1="185.68" x2="213.30" y2="185.68" stroke="#000" stroke-width="1" />
<line x1="56.50" y1="183.97" x2="53.70" y2="183.97" stroke="#000" stroke-width="1" />
<line x1="210.50" y1="183.97" x2="213.30" y2="183.97" stroke="#000" stroke-width="1" />
<line x1="56.50" y1="182.43" x2="51.00" y2="182.43" stroke="#000" stroke-width="1" />
<line x1="210.50" y1="182.43" x2="216.00" y2="182.43" stroke="#000" stroke-width="1" />
<line x1="56.50" y1="172.34" x2="53.70" y2="172.34" stroke="#000" stroke-width="1" />
<line x1="210.50" y1="172.34" x2="213.30" y2="172.34" stroke="#000" stroke-width="1" />
<line x1="56.50" y1="166.43" x2="53.70" y2="166.43" stroke="#000" stroke-width="1" />
<line x1="210.50" y1="166.43" x2="213.30" y2="166.43" stroke="#000" stroke-width="1" />
<line x1="56.50" y1="162.24" x2="53.70" y2="162.24" stroke="#000" stroke-width="1" />
<line x1="210.50" y1="162.24" x2="213.30" y2="162.24" stroke="#000" stroke-width="1" />
<line x1="56.50" y1="158.99" x2="53.70" y2="158.99" stroke="#000" stroke-width="1" />
<line x1="210.50" y1="158.99" x2="213.30" y2="158.99" stroke="#000" stroke-width="1" />
<line x1="56.50" y1="156.34" x2="53.70" y2="156.34" stroke="#000" stroke-width="1" />
<line x1="210.50" y1="156.34" x2="213.30" y2="156.34" stroke="#000" stroke-width="1" />
<line x1="56.50" y1="154.09" x2="53.70" y2="154.09" stroke="#000" stroke-width="1" />
<line x1="210.50" y1="154.09" x2="213.30" y2="154.09" stroke="#000" stroke-width="1" />
<line x1="56.50" y1="152.15" x2="53.70" y2="152.15" stroke="#000" stroke-width="1" />
<line x1="210.50" y1="152.15" x2="213.30" y2="152.15" stroke="#000" stroke-width="1" />
<line x1="56.50" y1="150.43" x2="53.70" y2="150.43" stroke="#000" stroke-width="1" />
<line x1="210.50" y1="150.43" x2="213.30" y2="150.43" stroke="#000" stroke-width="1" />
<line x1="56.50" y1="148.90" x2="51.00" y2="148.90" stroke="#000" stroke-width="1" />
<line x1="210.50" y1="148.90" x2="216.00" y2="148.90" stroke="#000" stroke-width="1" />
<line x1="56.50" y1="138.81" x2="53.70" y2="138.81" stroke="#000" stroke-width="1" />
<line x1="210.50" y1="138.81" x2="213.30" y2="138.81" stroke="#000" stroke-width="1" />
<line x1="56.50" y1="132.90" x2="53.70" y2="132.90" stroke="#000" stroke-width="1" />
<line x1="210.50" y1="132.90" x2="213.30" y2="132.90" stroke="#000" stroke-width="1" />
<line x1="56.50" y1="128.71" x2="53.70" y2="128.71" stroke="#000" stroke-width="1" />
<line x1="210.50" y1="128.71" x2="213.30" y2="128.71" stroke="#000" stroke-width="1" />
<line x1="56.50" y1="125.46" x2="53.70" y2="125.46" stroke="#000" stroke-width="1" />
<line x1="210.50" y1="125.46" x2="213.30" y2="125.46" stroke="#000" stroke-width="1" />
<line x1="56.50" y1="122.81" x2="53.70" y2="122.81" stroke="#000" stroke-width="1" />
<line x1="210.50" y1="122.81" x2="213.30" y2="122.81" stroke="#000" stroke-width="1" />
<line x1="56.50" y1="120.56" x2="53.70" y2="120.56" stroke="#000" stroke-width="1" />
<line x1="210.50" y1="120.56" x2="213.30" y2="120.56" stroke="#000" stroke-width="1" />
<line x1="56.50" y1="118.62" x2="53.70" y2="118.62" stroke="#000" stroke-width="1" />
<line x1="210.50" y1="118.62" x2="213.30" y2="118.62" stroke="#000" stroke-width="1" />
<line x1="56.50" y1="116.90" x2="53.70" y2="116.90" stroke="#000" stroke-width="1" />
<line x1="210.50" y1="116.90" x2="213.30" y2="116.90" stroke="#000" stroke-width="1" />
<line x1="56.50" y1="115.37" x2="51.00" y2="115.37" stroke="#000" stroke-width="1" />
<line x1="210.50" y1="115.37" x2="216.00" y2="115.37" stroke="#000" stroke-width="1" />
<line x1="56.50" y1="105.27" x2="53.70" y2="105.27" stroke="#000" stroke-width="1" />
<line x1="210.50" y1="105.27" x2="213.30" y2="105.27" stroke="#000" stroke-width="1" />
<line x1="56.50" y1="99.37" x2="53.70" y2="99.37" stroke="#000" stroke-width="1" />
<line x1="210.50" y1="99.37" x2="213.30" y2="99.37" stroke="#000" stroke-width="1" />
<line x1="56.50" y1="95.18" x2="53.70" y2="95.18" stroke="#000" stroke-width="1" />
<line x1="210.50" y1="95.18" x2="213.30" y2="95.18" stroke="#000" stroke-width="1" />
<line x1="56.50" y1="91.93" x2="53.70" y2="91.93" stroke="#000" stroke-width="1" />
<line x1="210.50" y1="91.93" x2="213.30" y2="91.93" stroke="#000" stroke-width="1" />
<line x1="56.50" y1="89.27" x2="53.70" y2="89.27" stroke="#000" stroke-width="1" />
<line x1="210.50" y1="89.27" x2="213.30" y2="89.27" stroke="#000" stroke-width="1" />
<line x1="56.50" y1="87.03" x2="53.70" y2="87.03" stroke="#000" stroke-width="1" />
<line x1="210.50" y1="87.03" x2="213.30" y2="87.03" stroke="#000" stroke-width="1" />
<line x1="56.50" y1="85.08" x2="53.70" y2="85.08" stroke="#000" stroke-width="1" />
<line x1="210.50" y1="85.08" x2="213.30" y2="85.08" stroke="#000" stroke-width="1" />
<line x1="56.50" y1="83.37" x2="53.70" y2="83.37" stroke="#000" stroke-width="1" />
<line x1="210.50" y1="83.37" x2="213.30" y2="83.37" stroke="#000" stroke-width="1" />
<line x1="56.50" y1="81.83" x2="51.00" y2="81.83" stroke="#000" stroke-width="1" />
<line x1="210.50" y1="81.83" x2="216.00" y2="81.83" stroke="#000" stroke-width="1" />
<line x1="56.50" y1="71.74" x2="53.70" y2="71.74" stroke="#000" stroke-width="1" />
<line x1="210.50" y1="71.74" x2="213.30" y2="71.74" stroke="#000" stroke-width="1" />
<line x1="56.50" y1="65.83" x2="53.70" y2="65.83" stroke="#000" stroke-width="1" />
<line x1="210.50" y1="65.83" x2="213.30" y2="65.83" stroke="#000" stroke-width="1" />
<line x1="56.50" y1="61.64" x2="53.70" y2="61.64" stroke="#000" stroke-width="1" />
<line x1="210.50" y1="61.64" x2="213.30" y2="61.64" stroke="#000" stroke-width="1" />
<line x1="56.50" y1="58.39" x2="53.70" y2="58.39" stroke="#000" stroke-width="1" />
<line x1="210.50" y1="58.39" x2="213.30" y2="58.39" stroke="#000" stroke-width="1" />
<line x1="56.50" y1="55.74" x2="53.70" y2="55.74" stroke="#000" stroke-width="1" />
<line x1="210.50" y1="55.74" x2="213.30" y2="55.74" stroke="#000" stroke-width="1" />
<line x1="56.50" y1="53.49" x2="53.70" y2="53.49" stroke="#000" stroke-width="1" />
<line x1="210.50" y1="53.49" x2="213.30" y2="53.49" stroke="#000" stroke-width="1" />
<line x1="56.50" y1="51.55" x2="53.70" y2="51.55" stroke="#000" stroke-width="1" />
<line x1="210.50" y1="51.55" x2="213.30" y2="51.55" stroke="#000" stroke-width="1" />
<line x1="56.50" y1="49.83" x2="53.70" y2="49.83" stroke="#000" stroke-width="1" />
<line x1="210.50" y1="49.83" x2="213.30" y2="49.83" stroke="#000" stroke-width="1" />
<line x1="56.50" y1="48.30" x2="51.00" y2="48.30" stroke="#000" stroke-width="1" />
<line x1="210.50" y1="48.30" x2="216.00" y2="48.30" stroke="#000" stroke-width="1" />
<text x="47.5" y="254.1" font-size="11.6" text-anchor="end" style="font-family:'Liberation Serif',serif;">10<tspan dy="-4.4" font-size="7.0">-4</tspan></text>
<text x="47.5" y="220.6" font-size="11.6" text-anchor="end" style="font-family:'Liberation Serif',serif;">10<tspan dy="-4.4" font-size="7.0">-3</tspan></text>
<text x="47.5" y="187.0" font-size="11.6" text-anchor="end" style="font-family:'Liberation Serif',serif;">10<tspan dy="-4.4" font-size="7.0">-2</tspan></text>
<text x="47.5" y="153.5" font-size="11.6" text-anchor="end" style="font-family:'Liberation Serif',serif;">10<tspan dy="-4.4" font-size="7.0">-1</tspan></text>
<text x="47.5" y="120.0" font-size="11.6" text-anchor="end" style="font-family:'Liberation Serif',serif;">10<tspan dy="-4.4" font-size="7.0">0</tspan></text>
<text x="47.5" y="86.4" font-size="11.6" text-anchor="end" style="font-family:'Liberation Serif',serif;">10<tspan dy="-4.4" font-size="7.0">1</tspan></text>
<text x="47.5" y="52.9" font-size="11.6" text-anchor="end" style="font-family:'Liberation Serif',serif;">10<tspan dy="-4.4" font-size="7.0">2</tspan></text>
<text x="56.0" y="268.7" font-size="11.6" text-anchor="middle" style="font-family:'Liberation Serif',serif;">10<tspan dy="-4.4" font-size="7.0">-3</tspan></text>
<text x="94.5" y="268.7" font-size="11.6" text-anchor="middle" style="font-family:'Liberation Serif',serif;">10<tspan dy="-4.4" font-size="7.0">-2</tspan></text>
<text x="133.0" y="268.7" font-size="11.6" text-anchor="middle" style="font-family:'Liberation Serif',serif;">10<tspan dy="-4.4" font-size="7.0">-1</tspan></text>
<text x="171.5" y="268.7" font-size="11.6" text-anchor="middle" style="font-family:'Liberation Serif',serif;">10<tspan dy="-4.4" font-size="7.0">0</tspan></text>
<text x="210.0" y="268.7" font-size="11.6" text-anchor="middle" style="font-family:'Liberation Serif',serif;">10<tspan dy="-4.4" font-size="7.0">1</tspan></text>
<text x="133.5" y="287.7" font-size="11.6" text-anchor="middle" style="font-family:'Liberation Serif',serif;" >PGA[g]</text>
<text transform="translate(12.6,138.8) rotate(-90)" font-size="14.3" text-anchor="middle" style="font-family:'Liberation Serif',serif;">Arias[m/s<tspan dy="-6" font-size="8.6">2</tspan><tspan dy="6">]</tspan></text>
<text x="0.2" y="54.1" font-size="12.6" text-anchor="start" style="font-family:'Liberation Serif',serif;" >(a)</text>
<clipPath id="cb"><rect x="289.6" y="48.3" width="164.89999999999998" height="91.50000000000001"/></clipPath>
<line x1="289.60" y1="94.05" x2="454.50" y2="94.05" stroke="#333" stroke-width="1.3" stroke-dasharray="6.2 3.3 1.2 3.2"/>
<g clip-path="url(#cb)" fill="#00FFFF" fill-opacity="0.9" stroke="#001a1a" stroke-width="0.7"><rect x="304.0" y="83.9" width="5.0" height="5.0"/><rect x="314.0" y="77.5" width="5.0" height="5.0"/><rect x="316.7" y="70.0" width="5.0" height="5.0"/><rect x="301.3" y="76.6" width="5.0" height="5.0"/><rect x="304.5" y="78.7" width="5.0" height="5.0"/><rect x="325.6" y="74.3" width="5.0" height="5.0"/><rect x="302.4" y="72.5" width="5.0" height="5.0"/><rect x="304.0" y="81.7" width="5.0" height="5.0"/><rect x="326.1" y="86.9" width="5.0" height="5.0"/><rect x="317.3" y="80.1" width="5.0" height="5.0"/><rect x="310.5" y="77.0" width="5.0" height="5.0"/><rect x="314.3" y="83.8" width="5.0" height="5.0"/><rect x="318.4" y="85.8" width="5.0" height="5.0"/><rect x="307.9" y="79.7" width="5.0" height="5.0"/><rect x="304.2" y="84.8" width="5.0" height="5.0"/><rect x="321.8" y="87.8" width="5.0" height="5.0"/><rect x="318.6" y="80.3" width="5.0" height="5.0"/><rect x="314.3" y="76.6" width="5.0" height="5.0"/><rect x="322.6" y="83.6" width="5.0" height="5.0"/><rect x="315.3" y="83.0" width="5.0" height="5.0"/><rect x="327.0" y="88.1" width="5.0" height="5.0"/><rect x="306.0" y="73.8" width="5.0" height="5.0"/><rect x="389.8" y="76.6" width="5.0" height="5.0"/><rect x="372.7" y="83.8" width="5.0" height="5.0"/><rect x="343.3" y="84.2" width="5.0" height="5.0"/><rect x="316.9" y="84.9" width="5.0" height="5.0"/><rect x="328.6" y="84.8" width="5.0" height="5.0"/><rect x="397.2" y="82.7" width="5.0" height="5.0"/><rect x="353.2" y="82.5" width="5.0" height="5.0"/><rect x="372.2" y="72.5" width="5.0" height="5.0"/><rect x="320.0" y="80.5" width="5.0" height="5.0"/><rect x="318.3" y="77.0" width="5.0" height="5.0"/><rect x="384.9" y="82.3" width="5.0" height="5.0"/><rect x="363.7" y="78.7" width="5.0" height="5.0"/><rect x="340.8" y="85.2" width="5.0" height="5.0"/><rect x="341.5" y="86.4" width="5.0" height="5.0"/><rect x="322.8" y="83.4" width="5.0" height="5.0"/><rect x="329.7" y="83.4" width="5.0" height="5.0"/><rect x="317.5" y="82.1" width="5.0" height="5.0"/><rect x="384.3" y="78.8" width="5.0" height="5.0"/><rect x="353.7" y="80.5" width="5.0" height="5.0"/><rect x="325.9" y="78.5" width="5.0" height="5.0"/><rect x="376.1" y="83.8" width="5.0" height="5.0"/><rect x="331.5" y="81.6" width="5.0" height="5.0"/><rect x="320.6" y="85.0" width="5.0" height="5.0"/><rect x="364.6" y="73.5" width="5.0" height="5.0"/><rect x="389.0" y="86.8" width="5.0" height="5.0"/><rect x="317.7" y="76.9" width="5.0" height="5.0"/><rect x="381.5" y="77.1" width="5.0" height="5.0"/><rect x="331.1" y="80.3" width="5.0" height="5.0"/><rect x="323.1" y="78.1" width="5.0" height="5.0"/><rect x="317.0" y="83.2" width="5.0" height="5.0"/><rect x="339.5" y="78.1" width="5.0" height="5.0"/><rect x="375.1" y="75.1" width="5.0" height="5.0"/><rect x="355.9" y="76.4" width="5.0" height="5.0"/><rect x="385.4" y="89.4" width="5.0" height="5.0"/><rect x="333.3" y="81.8" width="5.0" height="5.0"/><rect x="341.3" y="74.5" width="5.0" height="5.0"/><rect x="336.7" y="81.6" width="5.0" height="5.0"/><rect x="395.7" y="72.2" width="5.0" height="5.0"/><rect x="392.7" y="92.2" width="5.0" height="5.0"/><rect x="343.4" y="72.4" width="5.0" height="5.0"/><rect x="351.3" y="84.4" width="5.0" height="5.0"/><rect x="341.3" y="84.8" width="5.0" height="5.0"/><rect x="376.7" y="72.8" width="5.0" height="5.0"/><rect x="318.8" y="83.3" width="5.0" height="5.0"/><rect x="321.0" y="87.5" width="5.0" height="5.0"/><rect x="348.6" y="84.3" width="5.0" height="5.0"/><rect x="335.6" y="83.1" width="5.0" height="5.0"/><rect x="384.8" y="87.2" width="5.0" height="5.0"/><rect x="376.3" y="82.5" width="5.0" height="5.0"/><rect x="360.3" y="83.5" width="5.0" height="5.0"/><rect x="369.7" y="80.7" width="5.0" height="5.0"/><rect x="372.3" y="85.3" width="5.0" height="5.0"/><rect x="379.5" y="75.9" width="5.0" height="5.0"/><rect x="391.6" y="86.3" width="5.0" height="5.0"/><rect x="327.8" y="78.5" width="5.0" height="5.0"/><rect x="366.8" y="75.0" width="5.0" height="5.0"/><rect x="327.3" y="83.7" width="5.0" height="5.0"/><rect x="351.8" y="91.7" width="5.0" height="5.0"/><rect x="380.0" y="87.3" width="5.0" height="5.0"/><rect x="388.9" y="78.4" width="5.0" height="5.0"/><rect x="377.8" y="85.7" width="5.0" height="5.0"/><rect x="318.4" y="78.8" width="5.0" height="5.0"/><rect x="345.0" y="80.8" width="5.0" height="5.0"/><rect x="328.9" y="82.0" width="5.0" height="5.0"/><rect x="397.4" y="82.6" width="5.0" height="5.0"/><rect x="327.3" y="75.3" width="5.0" height="5.0"/><rect x="335.5" y="77.3" width="5.0" height="5.0"/><rect x="344.8" y="72.7" width="5.0" height="5.0"/><rect x="320.5" y="72.4" width="5.0" height="5.0"/><rect x="386.9" y="75.8" width="5.0" height="5.0"/><rect x="367.7" y="86.5" width="5.0" height="5.0"/><rect x="328.6" y="91.5" width="5.0" height="5.0"/><rect x="356.4" y="81.3" width="5.0" height="5.0"/><rect x="322.0" y="88.1" width="5.0" height="5.0"/><rect x="365.6" y="79.9" width="5.0" height="5.0"/><rect x="334.5" y="70.0" width="5.0" height="5.0"/><rect x="318.7" y="82.4" width="5.0" height="5.0"/><rect x="324.9" y="84.2" width="5.0" height="5.0"/><rect x="361.0" y="78.9" width="5.0" height="5.0"/><rect x="367.7" y="83.3" width="5.0" height="5.0"/><rect x="342.1" y="84.9" width="5.0" height="5.0"/><rect x="368.3" y="76.3" width="5.0" height="5.0"/><rect x="344.4" y="72.6" width="5.0" height="5.0"/><rect x="326.2" y="80.2" width="5.0" height="5.0"/><rect x="341.3" y="80.2" width="5.0" height="5.0"/><rect x="347.9" y="79.4" width="5.0" height="5.0"/><rect x="390.3" y="87.4" width="5.0" height="5.0"/><rect x="325.0" y="91.9" width="5.0" height="5.0"/><rect x="322.6" y="79.0" width="5.0" height="5.0"/><rect x="361.5" y="85.7" width="5.0" height="5.0"/><rect x="394.5" y="87.1" width="5.0" height="5.0"/><rect x="389.9" y="85.8" width="5.0" height="5.0"/><rect x="372.9" y="87.8" width="5.0" height="5.0"/><rect x="321.0" y="79.2" width="5.0" height="5.0"/><rect x="381.6" y="85.9" width="5.0" height="5.0"/><rect x="371.5" y="86.3" width="5.0" height="5.0"/><rect x="327.3" y="77.8" width="5.0" height="5.0"/><rect x="353.6" y="85.1" width="5.0" height="5.0"/><rect x="319.5" y="89.1" width="5.0" height="5.0"/><rect x="381.3" y="83.7" width="5.0" height="5.0"/><rect x="374.4" y="78.1" width="5.0" height="5.0"/><rect x="381.5" y="90.8" width="5.0" height="5.0"/><rect x="377.9" y="74.0" width="5.0" height="5.0"/><rect x="337.4" y="84.5" width="5.0" height="5.0"/><rect x="380.3" y="81.4" width="5.0" height="5.0"/><rect x="335.9" y="74.3" width="5.0" height="5.0"/><rect x="326.8" y="88.8" width="5.0" height="5.0"/><rect x="347.5" y="83.6" width="5.0" height="5.0"/><rect x="356.3" y="74.5" width="5.0" height="5.0"/><rect x="338.9" y="85.1" width="5.0" height="5.0"/><rect x="365.2" y="78.9" width="5.0" height="5.0"/><rect x="364.9" y="70.1" width="5.0" height="5.0"/><rect x="335.2" y="77.4" width="5.0" height="5.0"/><rect x="366.6" y="83.1" width="5.0" height="5.0"/><rect x="344.8" y="85.3" width="5.0" height="5.0"/><rect x="412.4" y="82.3" width="5.0" height="5.0"/><rect x="398.9" y="77.0" width="5.0" height="5.0"/><rect x="394.1" y="82.8" width="5.0" height="5.0"/><rect x="412.1" y="89.1" width="5.0" height="5.0"/><rect x="421.7" y="80.6" width="5.0" height="5.0"/><rect x="418.4" y="76.2" width="5.0" height="5.0"/><rect x="437.5" y="85.2" width="5.0" height="5.0"/><rect x="438.1" y="80.5" width="5.0" height="5.0"/><rect x="439.3" y="93.1" width="5.0" height="5.0"/><rect x="432.5" y="87.1" width="5.0" height="5.0"/><rect x="416.4" y="86.8" width="5.0" height="5.0"/><rect x="418.7" y="82.6" width="5.0" height="5.0"/><rect x="412.4" y="81.3" width="5.0" height="5.0"/><rect x="412.5" y="83.5" width="5.0" height="5.0"/><rect x="394.6" y="89.3" width="5.0" height="5.0"/><rect x="432.4" y="84.7" width="5.0" height="5.0"/><rect x="404.8" y="79.4" width="5.0" height="5.0"/><rect x="394.0" y="89.2" width="5.0" height="5.0"/><rect x="415.8" y="82.7" width="5.0" height="5.0"/><rect x="428.4" y="81.0" width="5.0" height="5.0"/><rect x="414.3" y="76.8" width="5.0" height="5.0"/><rect x="410.7" y="78.1" width="5.0" height="5.0"/><rect x="425.4" y="77.7" width="5.0" height="5.0"/><rect x="400.6" y="87.6" width="5.0" height="5.0"/><rect x="393.1" y="84.9" width="5.0" height="5.0"/><rect x="422.1" y="80.2" width="5.0" height="5.0"/><rect x="419.0" y="87.8" width="5.0" height="5.0"/><rect x="435.8" y="84.1" width="5.0" height="5.0"/><rect x="413.3" y="83.7" width="5.0" height="5.0"/><rect x="431.8" y="80.1" width="5.0" height="5.0"/><rect x="393.4" y="84.7" width="5.0" height="5.0"/><rect x="393.9" y="91.2" width="5.0" height="5.0"/><rect x="422.4" y="92.5" width="5.0" height="5.0"/><rect x="403.8" y="90.1" width="5.0" height="5.0"/><rect x="395.9" y="74.5" width="5.0" height="5.0"/><rect x="398.9" y="84.9" width="5.0" height="5.0"/><rect x="411.2" y="81.7" width="5.0" height="5.0"/><rect x="409.4" y="87.3" width="5.0" height="5.0"/><rect x="420.7" y="80.7" width="5.0" height="5.0"/><rect x="436.9" y="82.8" width="5.0" height="5.0"/><rect x="410.8" y="72.5" width="5.0" height="5.0"/><rect x="401.7" y="84.2" width="5.0" height="5.0"/><rect x="421.4" y="78.8" width="5.0" height="5.0"/><rect x="392.6" y="83.6" width="5.0" height="5.0"/><rect x="411.7" y="84.3" width="5.0" height="5.0"/><rect x="408.4" y="80.8" width="5.0" height="5.0"/><rect x="300.1" y="68.5" width="5.0" height="5.0"/><rect x="305.6" y="68.2" width="5.0" height="5.0"/><rect x="324.1" y="66.6" width="5.0" height="5.0"/><rect x="346.4" y="61.2" width="5.0" height="5.0"/><rect x="362.5" y="60.0" width="5.0" height="5.0"/><rect x="303.1" y="77.3" width="5.0" height="5.0"/><rect x="306.7" y="76.9" width="5.0" height="5.0"/><rect x="314.1" y="75.4" width="5.0" height="5.0"/><rect x="311.1" y="82.7" width="5.0" height="5.0"/><rect x="305.3" y="87.9" width="5.0" height="5.0"/><rect x="309.7" y="95.0" width="5.0" height="5.0"/><rect x="321.4" y="100.6" width="5.0" height="5.0"/><rect x="341.2" y="98.4" width="5.0" height="5.0"/><rect x="336.8" y="114.4" width="5.0" height="5.0"/><rect x="353.4" y="104.3" width="5.0" height="5.0"/><rect x="368.4" y="105.8" width="5.0" height="5.0"/><rect x="377.9" y="116.0" width="5.0" height="5.0"/><rect x="376.5" y="95.0" width="5.0" height="5.0"/><rect x="355.9" y="92.8" width="5.0" height="5.0"/><rect x="305.3" y="87.7" width="5.0" height="5.0"/><rect x="378.7" y="103.9" width="5.0" height="5.0"/><rect x="368.4" y="106.1" width="5.0" height="5.0"/><rect x="377.9" y="116.3" width="5.0" height="5.0"/><rect x="384.2" y="121.2" width="5.0" height="5.0"/><rect x="386.0" y="108.3" width="5.0" height="5.0"/><rect x="390.4" y="104.9" width="5.0" height="5.0"/><rect x="393.3" y="99.5" width="5.0" height="5.0"/><rect x="398.5" y="98.0" width="5.0" height="5.0"/><rect x="384.5" y="95.8" width="5.0" height="5.0"/><rect x="380.1" y="91.7" width="5.0" height="5.0"/><rect x="408.3" y="100.2" width="5.0" height="5.0"/><rect x="414.6" y="99.7" width="5.0" height="5.0"/><rect x="413.5" y="113.8" width="5.0" height="5.0"/><rect x="428.6" y="97.0" width="5.0" height="5.0"/><rect x="427.1" y="95.0" width="5.0" height="5.0"/><rect x="425.6" y="91.4" width="5.0" height="5.0"/><rect x="435.9" y="87.0" width="5.0" height="5.0"/><rect x="391.9" y="94.3" width="5.0" height="5.0"/><rect x="377.9" y="104.6" width="5.0" height="5.0"/><rect x="444.7" y="58.5" width="5.0" height="5.0"/><rect x="435.2" y="86.9" width="5.0" height="5.0"/></g><path d="M334.0 70.0V88.0M331.0 70.0h6M331.0 88.0h6" stroke="#000" stroke-width="1.35" fill="none"/><path d="M381.0 69.5V86.0M378.0 69.5h6M378.0 86.0h6" stroke="#000" stroke-width="1.35" fill="none"/><circle cx="334.0" cy="79.0" r="3.3" fill="#000"/><circle cx="381.0" cy="77.0" r="3.3" fill="#000"/><g clip-path="url(#cb)" fill="#F8148F" fill-opacity="0.92" stroke="#120008" stroke-width="0.8"><circle cx="331.4" cy="82.2" r="2.8"/><circle cx="337.7" cy="74.0" r="2.8"/><circle cx="338.9" cy="77.4" r="2.8"/><circle cx="336.2" cy="88.9" r="2.8"/><circle cx="329.7" cy="81.0" r="2.8"/><circle cx="338.4" cy="80.9" r="2.8"/><circle cx="337.6" cy="74.7" r="2.8"/><circle cx="340.4" cy="80.5" r="2.8"/><circle cx="338.7" cy="88.6" r="2.8"/><circle cx="333.3" cy="80.4" r="2.8"/><circle cx="329.0" cy="80.9" r="2.8"/><circle cx="340.4" cy="80.5" r="2.8"/><circle cx="342.7" cy="72.9" r="2.8"/><circle cx="368.5" cy="83.0" r="2.8"/><circle cx="373.2" cy="83.3" r="2.8"/><circle cx="394.2" cy="79.2" r="2.8"/><circle cx="399.2" cy="85.1" r="2.8"/><circle cx="347.0" cy="76.0" r="2.8"/><circle cx="380.4" cy="77.2" r="2.8"/><circle cx="381.3" cy="81.2" r="2.8"/><circle cx="346.9" cy="77.8" r="2.8"/><circle cx="396.0" cy="83.4" r="2.8"/><circle cx="375.8" cy="69.5" r="2.8"/><circle cx="405.2" cy="87.7" r="2.8"/><circle cx="349.4" cy="72.7" r="2.8"/><circle cx="373.8" cy="76.9" r="2.8"/><circle cx="359.3" cy="68.6" r="2.8"/><circle cx="382.3" cy="82.1" r="2.8"/><circle cx="379.8" cy="86.7" r="2.8"/><circle cx="372.9" cy="85.3" r="2.8"/><circle cx="359.4" cy="83.7" r="2.8"/><circle cx="372.3" cy="67.4" r="2.8"/><circle cx="362.8" cy="72.7" r="2.8"/><circle cx="400.1" cy="74.9" r="2.8"/><circle cx="369.2" cy="71.6" r="2.8"/><circle cx="370.2" cy="85.6" r="2.8"/><circle cx="354.6" cy="79.3" r="2.8"/><circle cx="354.3" cy="77.8" r="2.8"/><circle cx="404.7" cy="81.3" r="2.8"/><circle cx="358.6" cy="71.5" r="2.8"/><circle cx="398.5" cy="71.8" r="2.8"/><circle cx="378.8" cy="72.0" r="2.8"/><circle cx="406.6" cy="81.4" r="2.8"/><circle cx="347.8" cy="80.3" r="2.8"/><circle cx="403.8" cy="81.9" r="2.8"/><circle cx="391.6" cy="85.3" r="2.8"/><circle cx="376.9" cy="68.8" r="2.8"/><circle cx="387.0" cy="74.2" r="2.8"/><circle cx="388.0" cy="79.0" r="2.8"/><circle cx="368.3" cy="68.8" r="2.8"/><circle cx="381.7" cy="74.4" r="2.8"/><circle cx="352.5" cy="84.9" r="2.8"/><circle cx="337.5" cy="85.5" r="2.8"/><circle cx="384.7" cy="85.3" r="2.8"/><circle cx="370.2" cy="78.3" r="2.8"/><circle cx="401.2" cy="76.6" r="2.8"/><circle cx="355.0" cy="85.3" r="2.8"/><circle cx="394.9" cy="75.5" r="2.8"/><circle cx="407.0" cy="80.3" r="2.8"/><circle cx="400.7" cy="87.0" r="2.8"/><circle cx="405.4" cy="75.5" r="2.8"/><circle cx="347.5" cy="73.8" r="2.8"/><circle cx="347.9" cy="77.9" r="2.8"/><circle cx="352.4" cy="82.1" r="2.8"/><circle cx="362.0" cy="81.3" r="2.8"/><circle cx="344.3" cy="79.1" r="2.8"/><circle cx="346.8" cy="81.8" r="2.8"/><circle cx="403.2" cy="72.2" r="2.8"/><circle cx="362.0" cy="79.1" r="2.8"/><circle cx="381.1" cy="71.7" r="2.8"/><circle cx="368.7" cy="68.9" r="2.8"/><circle cx="389.5" cy="69.8" r="2.8"/><circle cx="394.0" cy="71.8" r="2.8"/><circle cx="363.6" cy="76.8" r="2.8"/><circle cx="374.5" cy="71.0" r="2.8"/><circle cx="343.0" cy="79.6" r="2.8"/><circle cx="356.6" cy="89.5" r="2.8"/><circle cx="352.0" cy="77.0" r="2.8"/><circle cx="358.2" cy="86.7" r="2.8"/><circle cx="359.4" cy="80.0" r="2.8"/><circle cx="377.4" cy="70.4" r="2.8"/><circle cx="360.0" cy="76.3" r="2.8"/><circle cx="359.5" cy="71.3" r="2.8"/><circle cx="395.9" cy="83.2" r="2.8"/><circle cx="336.4" cy="87.0" r="2.8"/><circle cx="340.1" cy="81.9" r="2.8"/><circle cx="398.3" cy="64.2" r="2.8"/><circle cx="381.6" cy="83.3" r="2.8"/><circle cx="388.4" cy="88.6" r="2.8"/><circle cx="405.0" cy="72.6" r="2.8"/><circle cx="351.7" cy="84.7" r="2.8"/><circle cx="402.2" cy="65.8" r="2.8"/><circle cx="353.5" cy="79.7" r="2.8"/><circle cx="373.4" cy="66.7" r="2.8"/><circle cx="385.0" cy="81.3" r="2.8"/><circle cx="393.4" cy="65.8" r="2.8"/><circle cx="353.9" cy="80.7" r="2.8"/><circle cx="370.3" cy="73.9" r="2.8"/><circle cx="339.3" cy="83.6" r="2.8"/><circle cx="356.7" cy="78.8" r="2.8"/><circle cx="406.6" cy="75.8" r="2.8"/><circle cx="401.2" cy="82.2" r="2.8"/><circle cx="377.9" cy="89.2" r="2.8"/><circle cx="392.6" cy="69.6" r="2.8"/><circle cx="401.0" cy="81.8" r="2.8"/><circle cx="359.9" cy="80.3" r="2.8"/><circle cx="406.6" cy="68.3" r="2.8"/><circle cx="368.3" cy="89.0" r="2.8"/><circle cx="347.4" cy="91.3" r="2.8"/><circle cx="374.2" cy="71.5" r="2.8"/><circle cx="378.7" cy="89.8" r="2.8"/><circle cx="385.9" cy="78.4" r="2.8"/><circle cx="384.3" cy="76.9" r="2.8"/><circle cx="339.0" cy="88.2" r="2.8"/><circle cx="382.0" cy="79.5" r="2.8"/><circle cx="429.6" cy="69.3" r="2.8"/><circle cx="410.7" cy="89.1" r="2.8"/><circle cx="412.7" cy="71.1" r="2.8"/><circle cx="421.6" cy="77.2" r="2.8"/><circle cx="421.6" cy="76.7" r="2.8"/><circle cx="431.5" cy="86.2" r="2.8"/><circle cx="431.5" cy="68.3" r="2.8"/><circle cx="422.1" cy="77.8" r="2.8"/><circle cx="426.2" cy="76.6" r="2.8"/><circle cx="424.7" cy="81.6" r="2.8"/><circle cx="411.2" cy="81.2" r="2.8"/><circle cx="337.1" cy="67.2" r="2.8"/><circle cx="345.2" cy="67.9" r="2.8"/><circle cx="351.1" cy="67.9" r="2.8"/><circle cx="359.2" cy="64.7" r="2.8"/><circle cx="361.4" cy="62.9" r="2.8"/><circle cx="366.9" cy="65.9" r="2.8"/><circle cx="374.6" cy="65.4" r="2.8"/><circle cx="382.6" cy="64.0" r="2.8"/><circle cx="332.7" cy="72.3" r="2.8"/><circle cx="333.0" cy="77.2" r="2.8"/><circle cx="323.9" cy="86.0" r="2.8"/><circle cx="409.1" cy="53.7" r="2.8"/><circle cx="405.7" cy="56.9" r="2.8"/><circle cx="427.8" cy="63.9" r="2.8"/><circle cx="391.4" cy="61.5" r="2.8"/><circle cx="383.4" cy="63.9" r="2.8"/><circle cx="403.5" cy="64.2" r="2.8"/><circle cx="415.4" cy="66.2" r="2.8"/><circle cx="433.3" cy="81.1" r="2.8"/><circle cx="437.0" cy="85.2" r="2.8"/><circle cx="409.0" cy="80.8" r="2.8"/><circle cx="321.0" cy="92.8" r="2.8"/><circle cx="343.4" cy="96.5" r="2.8"/><circle cx="378.7" cy="108.9" r="2.8"/><circle cx="400.7" cy="98.0" r="2.8"/><circle cx="407.9" cy="118.8" r="2.8"/><circle cx="391.4" cy="92.4" r="2.8"/><circle cx="376.7" cy="91.0" r="2.8"/></g><path d="M328.4 73.7V89.6M325.4 73.7h6M325.4 89.6h6" stroke="#000" stroke-width="1.35" fill="none"/><path d="M374.6 72.5V97.8M371.6 72.5h6M371.6 97.8h6" stroke="#000" stroke-width="1.35" fill="none"/><path d="M419.4 72.7V97.8M416.4 72.7h6M416.4 97.8h6" stroke="#000" stroke-width="1.35" fill="none"/><path d="M428.4 63.0V88.0M425.4 63.0h6M425.4 88.0h6" stroke="#000" stroke-width="1.35" fill="none"/><rect x="325.2" y="78.8" width="6.4" height="6.4" fill="#000"/><rect x="371.4" y="82.8" width="6.4" height="6.4" fill="#000"/><rect x="416.2" y="83.3" width="6.4" height="6.4" fill="#000"/><circle cx="428.4" cy="75.0" r="3.3" fill="#062a2a"/>
<rect x="289.6" y="48.3" width="164.89999999999998" height="91.50000000000001" fill="none" stroke="#000" stroke-width="1"/>
<line x1="289.60" y1="48.30" x2="284.10" y2="48.30" stroke="#000" stroke-width="1" />
<line x1="454.50" y1="48.30" x2="460.00" y2="48.30" stroke="#000" stroke-width="1" />
<line x1="289.60" y1="59.74" x2="286.80" y2="59.74" stroke="#000" stroke-width="1" />
<line x1="454.50" y1="59.74" x2="457.30" y2="59.74" stroke="#000" stroke-width="1" />
<line x1="289.60" y1="71.17" x2="284.10" y2="71.17" stroke="#000" stroke-width="1" />
<line x1="454.50" y1="71.17" x2="460.00" y2="71.17" stroke="#000" stroke-width="1" />
<line x1="289.60" y1="82.61" x2="286.80" y2="82.61" stroke="#000" stroke-width="1" />
<line x1="454.50" y1="82.61" x2="457.30" y2="82.61" stroke="#000" stroke-width="1" />
<line x1="289.60" y1="94.05" x2="284.10" y2="94.05" stroke="#000" stroke-width="1" />
<line x1="454.50" y1="94.05" x2="460.00" y2="94.05" stroke="#000" stroke-width="1" />
<line x1="289.60" y1="105.49" x2="286.80" y2="105.49" stroke="#000" stroke-width="1" />
<line x1="454.50" y1="105.49" x2="457.30" y2="105.49" stroke="#000" stroke-width="1" />
<line x1="289.60" y1="116.93" x2="284.10" y2="116.93" stroke="#000" stroke-width="1" />
<line x1="454.50" y1="116.93" x2="460.00" y2="116.93" stroke="#000" stroke-width="1" />
<line x1="289.60" y1="128.36" x2="286.80" y2="128.36" stroke="#000" stroke-width="1" />
<line x1="454.50" y1="128.36" x2="457.30" y2="128.36" stroke="#000" stroke-width="1" />
<line x1="289.60" y1="139.80" x2="284.10" y2="139.80" stroke="#000" stroke-width="1" />
<line x1="454.50" y1="139.80" x2="460.00" y2="139.80" stroke="#000" stroke-width="1" />
<line x1="289.60" y1="48.30" x2="289.60" y2="42.80" stroke="#000" stroke-width="1" />
<line x1="289.60" y1="139.80" x2="289.60" y2="145.30" stroke="#000" stroke-width="1" />
<line x1="304.62" y1="48.30" x2="304.62" y2="45.50" stroke="#000" stroke-width="1" />
<line x1="304.62" y1="139.80" x2="304.62" y2="142.60" stroke="#000" stroke-width="1" />
<line x1="313.41" y1="48.30" x2="313.41" y2="45.50" stroke="#000" stroke-width="1" />
<line x1="313.41" y1="139.80" x2="313.41" y2="142.60" stroke="#000" stroke-width="1" />
<line x1="319.64" y1="48.30" x2="319.64" y2="45.50" stroke="#000" stroke-width="1" />
<line x1="319.64" y1="139.80" x2="319.64" y2="142.60" stroke="#000" stroke-width="1" />
<line x1="324.48" y1="48.30" x2="324.48" y2="45.50" stroke="#000" stroke-width="1" />
<line x1="324.48" y1="139.80" x2="324.48" y2="142.60" stroke="#000" stroke-width="1" />
<line x1="328.43" y1="48.30" x2="328.43" y2="45.50" stroke="#000" stroke-width="1" />
<line x1="328.43" y1="139.80" x2="328.43" y2="142.60" stroke="#000" stroke-width="1" />
<line x1="331.77" y1="48.30" x2="331.77" y2="45.50" stroke="#000" stroke-width="1" />
<line x1="331.77" y1="139.80" x2="331.77" y2="142.60" stroke="#000" stroke-width="1" />
<line x1="334.66" y1="48.30" x2="334.66" y2="45.50" stroke="#000" stroke-width="1" />
<line x1="334.66" y1="139.80" x2="334.66" y2="142.60" stroke="#000" stroke-width="1" />
<line x1="337.22" y1="48.30" x2="337.22" y2="45.50" stroke="#000" stroke-width="1" />
<line x1="337.22" y1="139.80" x2="337.22" y2="142.60" stroke="#000" stroke-width="1" />
<line x1="339.50" y1="48.30" x2="339.50" y2="42.80" stroke="#000" stroke-width="1" />
<line x1="339.50" y1="139.80" x2="339.50" y2="145.30" stroke="#000" stroke-width="1" />
<line x1="354.52" y1="48.30" x2="354.52" y2="45.50" stroke="#000" stroke-width="1" />
<line x1="354.52" y1="139.80" x2="354.52" y2="142.60" stroke="#000" stroke-width="1" />
<line x1="363.31" y1="48.30" x2="363.31" y2="45.50" stroke="#000" stroke-width="1" />
<line x1="363.31" y1="139.80" x2="363.31" y2="142.60" stroke="#000" stroke-width="1" />
<line x1="369.54" y1="48.30" x2="369.54" y2="45.50" stroke="#000" stroke-width="1" />
<line x1="369.54" y1="139.80" x2="369.54" y2="142.60" stroke="#000" stroke-width="1" />
<line x1="374.38" y1="48.30" x2="374.38" y2="45.50" stroke="#000" stroke-width="1" />
<line x1="374.38" y1="139.80" x2="374.38" y2="142.60" stroke="#000" stroke-width="1" />
<line x1="378.33" y1="48.30" x2="378.33" y2="45.50" stroke="#000" stroke-width="1" />
<line x1="378.33" y1="139.80" x2="378.33" y2="142.60" stroke="#000" stroke-width="1" />
<line x1="381.67" y1="48.30" x2="381.67" y2="45.50" stroke="#000" stroke-width="1" />
<line x1="381.67" y1="139.80" x2="381.67" y2="142.60" stroke="#000" stroke-width="1" />
<line x1="384.56" y1="48.30" x2="384.56" y2="45.50" stroke="#000" stroke-width="1" />
<line x1="384.56" y1="139.80" x2="384.56" y2="142.60" stroke="#000" stroke-width="1" />
<line x1="387.12" y1="48.30" x2="387.12" y2="45.50" stroke="#000" stroke-width="1" />
<line x1="387.12" y1="139.80" x2="387.12" y2="142.60" stroke="#000" stroke-width="1" />
<line x1="389.40" y1="48.30" x2="389.40" y2="42.80" stroke="#000" stroke-width="1" />
<line x1="389.40" y1="139.80" x2="389.40" y2="145.30" stroke="#000" stroke-width="1" />
<line x1="404.42" y1="48.30" x2="404.42" y2="45.50" stroke="#000" stroke-width="1" />
<line x1="404.42" y1="139.80" x2="404.42" y2="142.60" stroke="#000" stroke-width="1" />
<line x1="413.21" y1="48.30" x2="413.21" y2="45.50" stroke="#000" stroke-width="1" />
<line x1="413.21" y1="139.80" x2="413.21" y2="142.60" stroke="#000" stroke-width="1" />
<line x1="419.44" y1="48.30" x2="419.44" y2="45.50" stroke="#000" stroke-width="1" />
<line x1="419.44" y1="139.80" x2="419.44" y2="142.60" stroke="#000" stroke-width="1" />
<line x1="424.28" y1="48.30" x2="424.28" y2="45.50" stroke="#000" stroke-width="1" />
<line x1="424.28" y1="139.80" x2="424.28" y2="142.60" stroke="#000" stroke-width="1" />
<line x1="428.23" y1="48.30" x2="428.23" y2="45.50" stroke="#000" stroke-width="1" />
<line x1="428.23" y1="139.80" x2="428.23" y2="142.60" stroke="#000" stroke-width="1" />
<line x1="431.57" y1="48.30" x2="431.57" y2="45.50" stroke="#000" stroke-width="1" />
<line x1="431.57" y1="139.80" x2="431.57" y2="142.60" stroke="#000" stroke-width="1" />
<line x1="434.46" y1="48.30" x2="434.46" y2="45.50" stroke="#000" stroke-width="1" />
<line x1="434.46" y1="139.80" x2="434.46" y2="142.60" stroke="#000" stroke-width="1" />
<line x1="437.02" y1="48.30" x2="437.02" y2="45.50" stroke="#000" stroke-width="1" />
<line x1="437.02" y1="139.80" x2="437.02" y2="142.60" stroke="#000" stroke-width="1" />
<line x1="439.30" y1="48.30" x2="439.30" y2="42.80" stroke="#000" stroke-width="1" />
<line x1="439.30" y1="139.80" x2="439.30" y2="145.30" stroke="#000" stroke-width="1" />
<line x1="454.32" y1="48.30" x2="454.32" y2="45.50" stroke="#000" stroke-width="1" />
<line x1="454.32" y1="139.80" x2="454.32" y2="142.60" stroke="#000" stroke-width="1" />
<text x="293.2" y="135.9" font-size="11.0" text-anchor="start" style="font-family:'Liberation Sans',sans-serif;" letter-spacing="-0.24">Remo2000</text>
<text x="243.8" y="56.0" font-size="12.6" text-anchor="end" style="font-family:'Liberation Serif',serif;" >(b)</text>
<text x="280.2" y="51.6" font-size="11.6" text-anchor="end" style="font-family:'Liberation Serif',serif;" >1.0</text>
<text x="280.2" y="74.5" font-size="11.6" text-anchor="end" style="font-family:'Liberation Serif',serif;" >0.5</text>
<text x="280.2" y="97.4" font-size="11.6" text-anchor="end" style="font-family:'Liberation Serif',serif;" >0.0</text>
<text x="280.2" y="120.2" font-size="11.6" text-anchor="end" style="font-family:'Liberation Serif',serif;" >-0.5</text>
<text x="280.2" y="143.1" font-size="11.6" text-anchor="end" style="font-family:'Liberation Serif',serif;" >-1.0</text>
<clipPath id="cc"><rect x="289.6" y="158.0" width="164.89999999999998" height="91.5"/></clipPath>
<line x1="289.60" y1="203.75" x2="454.50" y2="203.75" stroke="#333" stroke-width="1.3" stroke-dasharray="6.2 3.3 1.2 3.2"/>
<g clip-path="url(#cc)" fill="#00FFFF" fill-opacity="0.9" stroke="#001a1a" stroke-width="0.7"><rect x="307.3" y="195.4" width="5.0" height="5.0"/><rect x="326.1" y="195.4" width="5.0" height="5.0"/><rect x="305.6" y="197.0" width="5.0" height="5.0"/><rect x="305.3" y="194.7" width="5.0" height="5.0"/><rect x="309.9" y="202.5" width="5.0" height="5.0"/><rect x="306.7" y="190.2" width="5.0" height="5.0"/><rect x="318.6" y="202.8" width="5.0" height="5.0"/><rect x="303.6" y="195.2" width="5.0" height="5.0"/><rect x="324.7" y="195.7" width="5.0" height="5.0"/><rect x="323.7" y="191.5" width="5.0" height="5.0"/><rect x="300.6" y="197.7" width="5.0" height="5.0"/><rect x="315.1" y="197.2" width="5.0" height="5.0"/><rect x="303.4" y="199.5" width="5.0" height="5.0"/><rect x="307.5" y="195.7" width="5.0" height="5.0"/><rect x="311.8" y="199.0" width="5.0" height="5.0"/><rect x="312.7" y="208.0" width="5.0" height="5.0"/><rect x="313.1" y="200.6" width="5.0" height="5.0"/><rect x="325.5" y="195.5" width="5.0" height="5.0"/><rect x="307.5" y="203.5" width="5.0" height="5.0"/><rect x="305.6" y="197.8" width="5.0" height="5.0"/><rect x="318.6" y="201.6" width="5.0" height="5.0"/><rect x="326.1" y="201.7" width="5.0" height="5.0"/><rect x="325.4" y="196.5" width="5.0" height="5.0"/><rect x="324.3" y="188.5" width="5.0" height="5.0"/><rect x="359.5" y="193.2" width="5.0" height="5.0"/><rect x="361.3" y="199.0" width="5.0" height="5.0"/><rect x="389.8" y="200.1" width="5.0" height="5.0"/><rect x="338.7" y="200.1" width="5.0" height="5.0"/><rect x="333.7" y="191.0" width="5.0" height="5.0"/><rect x="393.2" y="197.0" width="5.0" height="5.0"/><rect x="392.8" y="200.3" width="5.0" height="5.0"/><rect x="354.5" y="203.4" width="5.0" height="5.0"/><rect x="381.2" y="202.0" width="5.0" height="5.0"/><rect x="376.4" y="202.8" width="5.0" height="5.0"/><rect x="393.3" y="204.2" width="5.0" height="5.0"/><rect x="322.2" y="202.8" width="5.0" height="5.0"/><rect x="389.1" y="194.3" width="5.0" height="5.0"/><rect x="356.5" y="198.8" width="5.0" height="5.0"/><rect x="352.3" y="194.8" width="5.0" height="5.0"/><rect x="371.8" y="189.8" width="5.0" height="5.0"/><rect x="366.1" y="209.4" width="5.0" height="5.0"/><rect x="351.3" y="192.7" width="5.0" height="5.0"/><rect x="339.4" y="186.8" width="5.0" height="5.0"/><rect x="390.8" y="195.5" width="5.0" height="5.0"/><rect x="382.6" y="206.4" width="5.0" height="5.0"/><rect x="323.9" y="198.3" width="5.0" height="5.0"/><rect x="348.7" y="200.6" width="5.0" height="5.0"/><rect x="378.1" y="197.1" width="5.0" height="5.0"/><rect x="387.6" y="198.1" width="5.0" height="5.0"/><rect x="394.4" y="205.1" width="5.0" height="5.0"/><rect x="335.2" y="202.6" width="5.0" height="5.0"/><rect x="388.6" y="198.1" width="5.0" height="5.0"/><rect x="372.5" y="203.1" width="5.0" height="5.0"/><rect x="321.1" y="204.1" width="5.0" height="5.0"/><rect x="332.8" y="197.4" width="5.0" height="5.0"/><rect x="331.0" y="199.9" width="5.0" height="5.0"/><rect x="321.8" y="199.8" width="5.0" height="5.0"/><rect x="371.9" y="195.0" width="5.0" height="5.0"/><rect x="340.9" y="204.5" width="5.0" height="5.0"/><rect x="372.2" y="197.6" width="5.0" height="5.0"/><rect x="322.2" y="195.3" width="5.0" height="5.0"/><rect x="386.9" y="189.8" width="5.0" height="5.0"/><rect x="372.5" y="191.9" width="5.0" height="5.0"/><rect x="379.6" y="206.4" width="5.0" height="5.0"/><rect x="365.2" y="192.6" width="5.0" height="5.0"/><rect x="353.0" y="200.7" width="5.0" height="5.0"/><rect x="331.3" y="196.6" width="5.0" height="5.0"/><rect x="392.8" y="201.2" width="5.0" height="5.0"/><rect x="327.4" y="201.6" width="5.0" height="5.0"/><rect x="358.3" y="194.5" width="5.0" height="5.0"/><rect x="325.5" y="197.0" width="5.0" height="5.0"/><rect x="324.4" y="199.0" width="5.0" height="5.0"/><rect x="372.6" y="199.1" width="5.0" height="5.0"/><rect x="388.4" y="198.4" width="5.0" height="5.0"/><rect x="353.3" y="196.9" width="5.0" height="5.0"/><rect x="380.7" y="201.8" width="5.0" height="5.0"/><rect x="386.0" y="205.3" width="5.0" height="5.0"/><rect x="359.4" y="201.3" width="5.0" height="5.0"/><rect x="379.1" y="194.7" width="5.0" height="5.0"/><rect x="339.5" y="200.6" width="5.0" height="5.0"/><rect x="327.8" y="198.8" width="5.0" height="5.0"/><rect x="331.0" y="200.9" width="5.0" height="5.0"/><rect x="316.1" y="208.1" width="5.0" height="5.0"/><rect x="321.3" y="197.4" width="5.0" height="5.0"/><rect x="377.1" y="198.4" width="5.0" height="5.0"/><rect x="389.6" y="193.9" width="5.0" height="5.0"/><rect x="320.2" y="197.0" width="5.0" height="5.0"/><rect x="374.6" y="195.5" width="5.0" height="5.0"/><rect x="379.3" y="206.8" width="5.0" height="5.0"/><rect x="371.4" y="200.1" width="5.0" height="5.0"/><rect x="356.4" y="195.5" width="5.0" height="5.0"/><rect x="355.3" y="208.5" width="5.0" height="5.0"/><rect x="372.5" y="191.6" width="5.0" height="5.0"/><rect x="335.6" y="203.0" width="5.0" height="5.0"/><rect x="377.2" y="203.8" width="5.0" height="5.0"/><rect x="331.3" y="201.5" width="5.0" height="5.0"/><rect x="318.4" y="197.1" width="5.0" height="5.0"/><rect x="392.1" y="197.8" width="5.0" height="5.0"/><rect x="322.9" y="196.7" width="5.0" height="5.0"/><rect x="331.6" y="202.6" width="5.0" height="5.0"/><rect x="320.1" y="195.8" width="5.0" height="5.0"/><rect x="316.3" y="199.3" width="5.0" height="5.0"/><rect x="325.7" y="195.5" width="5.0" height="5.0"/><rect x="391.1" y="189.0" width="5.0" height="5.0"/><rect x="372.5" y="197.2" width="5.0" height="5.0"/><rect x="348.7" y="194.6" width="5.0" height="5.0"/><rect x="316.0" y="202.7" width="5.0" height="5.0"/><rect x="383.4" y="205.8" width="5.0" height="5.0"/><rect x="355.3" y="198.9" width="5.0" height="5.0"/><rect x="385.5" y="188.4" width="5.0" height="5.0"/><rect x="356.8" y="197.5" width="5.0" height="5.0"/><rect x="321.9" y="193.7" width="5.0" height="5.0"/><rect x="321.5" y="202.0" width="5.0" height="5.0"/><rect x="380.3" y="207.3" width="5.0" height="5.0"/><rect x="333.7" y="200.2" width="5.0" height="5.0"/><rect x="327.8" y="209.1" width="5.0" height="5.0"/><rect x="349.1" y="206.4" width="5.0" height="5.0"/><rect x="336.9" y="202.1" width="5.0" height="5.0"/><rect x="338.2" y="194.0" width="5.0" height="5.0"/><rect x="380.6" y="199.6" width="5.0" height="5.0"/><rect x="354.0" y="191.5" width="5.0" height="5.0"/><rect x="397.2" y="204.5" width="5.0" height="5.0"/><rect x="323.6" y="199.7" width="5.0" height="5.0"/><rect x="339.6" y="206.3" width="5.0" height="5.0"/><rect x="387.8" y="200.7" width="5.0" height="5.0"/><rect x="351.2" y="189.1" width="5.0" height="5.0"/><rect x="378.6" y="202.6" width="5.0" height="5.0"/><rect x="351.0" y="204.1" width="5.0" height="5.0"/><rect x="348.8" y="207.9" width="5.0" height="5.0"/><rect x="388.2" y="194.2" width="5.0" height="5.0"/><rect x="341.2" y="194.5" width="5.0" height="5.0"/><rect x="360.3" y="199.6" width="5.0" height="5.0"/><rect x="361.8" y="193.8" width="5.0" height="5.0"/><rect x="319.1" y="192.1" width="5.0" height="5.0"/><rect x="323.6" y="193.5" width="5.0" height="5.0"/><rect x="334.9" y="195.9" width="5.0" height="5.0"/><rect x="315.7" y="193.9" width="5.0" height="5.0"/><rect x="371.5" y="196.8" width="5.0" height="5.0"/><rect x="362.9" y="199.1" width="5.0" height="5.0"/><rect x="423.7" y="203.5" width="5.0" height="5.0"/><rect x="428.3" y="195.6" width="5.0" height="5.0"/><rect x="419.7" y="203.3" width="5.0" height="5.0"/><rect x="436.9" y="205.0" width="5.0" height="5.0"/><rect x="437.1" y="194.5" width="5.0" height="5.0"/><rect x="438.0" y="203.0" width="5.0" height="5.0"/><rect x="422.1" y="202.9" width="5.0" height="5.0"/><rect x="405.0" y="195.1" width="5.0" height="5.0"/><rect x="394.8" y="196.0" width="5.0" height="5.0"/><rect x="421.5" y="199.3" width="5.0" height="5.0"/><rect x="418.3" y="187.0" width="5.0" height="5.0"/><rect x="392.6" y="196.3" width="5.0" height="5.0"/><rect x="399.6" y="199.6" width="5.0" height="5.0"/><rect x="440.9" y="196.3" width="5.0" height="5.0"/><rect x="430.1" y="190.2" width="5.0" height="5.0"/><rect x="437.7" y="196.5" width="5.0" height="5.0"/><rect x="408.7" y="206.4" width="5.0" height="5.0"/><rect x="414.1" y="205.4" width="5.0" height="5.0"/><rect x="421.7" y="197.9" width="5.0" height="5.0"/><rect x="412.6" y="194.4" width="5.0" height="5.0"/><rect x="394.1" y="198.5" width="5.0" height="5.0"/><rect x="416.0" y="198.6" width="5.0" height="5.0"/><rect x="425.8" y="195.0" width="5.0" height="5.0"/><rect x="410.4" y="196.8" width="5.0" height="5.0"/><rect x="438.7" y="201.8" width="5.0" height="5.0"/><rect x="439.1" y="203.4" width="5.0" height="5.0"/><rect x="393.9" y="203.6" width="5.0" height="5.0"/><rect x="413.3" y="199.2" width="5.0" height="5.0"/><rect x="422.7" y="204.5" width="5.0" height="5.0"/><rect x="412.9" y="198.4" width="5.0" height="5.0"/><rect x="441.4" y="200.8" width="5.0" height="5.0"/><rect x="407.6" y="207.1" width="5.0" height="5.0"/><rect x="437.4" y="206.8" width="5.0" height="5.0"/><rect x="409.7" y="199.5" width="5.0" height="5.0"/><rect x="436.8" y="189.0" width="5.0" height="5.0"/><rect x="397.5" y="200.1" width="5.0" height="5.0"/><rect x="435.1" y="193.2" width="5.0" height="5.0"/><rect x="434.6" y="203.7" width="5.0" height="5.0"/><rect x="420.7" y="199.6" width="5.0" height="5.0"/><rect x="407.7" y="197.8" width="5.0" height="5.0"/><rect x="412.0" y="203.7" width="5.0" height="5.0"/><rect x="398.9" y="199.5" width="5.0" height="5.0"/><rect x="406.5" y="202.4" width="5.0" height="5.0"/><rect x="418.3" y="202.8" width="5.0" height="5.0"/><rect x="418.6" y="200.2" width="5.0" height="5.0"/><rect x="416.0" y="202.6" width="5.0" height="5.0"/><rect x="306.0" y="184.5" width="5.0" height="5.0"/><rect x="324.1" y="184.5" width="5.0" height="5.0"/><rect x="300.4" y="188.2" width="5.0" height="5.0"/><rect x="303.8" y="195.1" width="5.0" height="5.0"/><rect x="311.1" y="191.1" width="5.0" height="5.0"/><rect x="305.3" y="207.1" width="5.0" height="5.0"/><rect x="310.4" y="210.8" width="5.0" height="5.0"/><rect x="322.1" y="219.6" width="5.0" height="5.0"/><rect x="337.3" y="232.1" width="5.0" height="5.0"/><rect x="353.7" y="225.2" width="5.0" height="5.0"/><rect x="368.7" y="223.7" width="5.0" height="5.0"/><rect x="378.7" y="221.8" width="5.0" height="5.0"/><rect x="378.7" y="228.4" width="5.0" height="5.0"/><rect x="376.5" y="213.0" width="5.0" height="5.0"/><rect x="380.1" y="207.1" width="5.0" height="5.0"/><rect x="333.2" y="209.6" width="5.0" height="5.0"/><rect x="313.3" y="204.6" width="5.0" height="5.0"/><rect x="368.7" y="223.7" width="5.0" height="5.0"/><rect x="377.9" y="221.8" width="5.0" height="5.0"/><rect x="378.4" y="229.1" width="5.0" height="5.0"/><rect x="384.5" y="235.3" width="5.0" height="5.0"/><rect x="386.7" y="225.5" width="5.0" height="5.0"/><rect x="390.4" y="221.8" width="5.0" height="5.0"/><rect x="389.7" y="215.9" width="5.0" height="5.0"/><rect x="385.3" y="213.0" width="5.0" height="5.0"/><rect x="376.7" y="213.4" width="5.0" height="5.0"/><rect x="380.1" y="207.1" width="5.0" height="5.0"/><rect x="398.5" y="215.9" width="5.0" height="5.0"/><rect x="408.8" y="216.9" width="5.0" height="5.0"/><rect x="415.1" y="218.4" width="5.0" height="5.0"/><rect x="405.8" y="228.1" width="5.0" height="5.0"/><rect x="413.5" y="228.8" width="5.0" height="5.0"/><rect x="426.4" y="214.5" width="5.0" height="5.0"/><rect x="430.0" y="215.2" width="5.0" height="5.0"/><rect x="427.8" y="210.0" width="5.0" height="5.0"/><rect x="422.0" y="206.4" width="5.0" height="5.0"/><rect x="428.6" y="204.9" width="5.0" height="5.0"/><rect x="435.9" y="204.6" width="5.0" height="5.0"/><rect x="416.1" y="214.5" width="5.0" height="5.0"/><rect x="394.1" y="207.1" width="5.0" height="5.0"/><rect x="445.5" y="173.5" width="5.0" height="5.0"/></g><path d="M335.5 189.0V208.0M332.5 189.0h6M332.5 208.0h6" stroke="#000" stroke-width="1.35" fill="none"/><path d="M381.5 190.0V203.0M378.5 190.0h6M378.5 203.0h6" stroke="#000" stroke-width="1.35" fill="none"/><circle cx="335.5" cy="199.0" r="3.3" fill="#000"/><circle cx="381.5" cy="193.0" r="3.3" fill="#000"/><g clip-path="url(#cc)" fill="#F8148F" fill-opacity="0.92" stroke="#120008" stroke-width="0.8"><circle cx="330.4" cy="193.0" r="2.8"/><circle cx="332.5" cy="185.7" r="2.8"/><circle cx="331.7" cy="198.5" r="2.8"/><circle cx="337.7" cy="202.2" r="2.8"/><circle cx="331.9" cy="203.0" r="2.8"/><circle cx="335.5" cy="190.2" r="2.8"/><circle cx="333.9" cy="195.4" r="2.8"/><circle cx="339.5" cy="207.2" r="2.8"/><circle cx="333.5" cy="195.9" r="2.8"/><circle cx="332.8" cy="198.5" r="2.8"/><circle cx="333.5" cy="195.6" r="2.8"/><circle cx="332.3" cy="202.3" r="2.8"/><circle cx="337.9" cy="202.1" r="2.8"/><circle cx="336.3" cy="199.4" r="2.8"/><circle cx="355.3" cy="199.0" r="2.8"/><circle cx="343.7" cy="194.2" r="2.8"/><circle cx="363.6" cy="194.7" r="2.8"/><circle cx="364.6" cy="195.1" r="2.8"/><circle cx="363.5" cy="204.4" r="2.8"/><circle cx="402.4" cy="197.4" r="2.8"/><circle cx="352.9" cy="202.6" r="2.8"/><circle cx="340.0" cy="195.4" r="2.8"/><circle cx="337.0" cy="194.9" r="2.8"/><circle cx="369.8" cy="185.8" r="2.8"/><circle cx="354.8" cy="201.8" r="2.8"/><circle cx="370.2" cy="209.0" r="2.8"/><circle cx="384.5" cy="195.7" r="2.8"/><circle cx="358.6" cy="205.4" r="2.8"/><circle cx="345.0" cy="202.0" r="2.8"/><circle cx="399.9" cy="193.1" r="2.8"/><circle cx="349.0" cy="201.5" r="2.8"/><circle cx="357.8" cy="191.9" r="2.8"/><circle cx="337.6" cy="195.3" r="2.8"/><circle cx="378.8" cy="204.1" r="2.8"/><circle cx="352.7" cy="198.0" r="2.8"/><circle cx="388.3" cy="190.3" r="2.8"/><circle cx="366.0" cy="205.3" r="2.8"/><circle cx="393.9" cy="190.7" r="2.8"/><circle cx="359.5" cy="196.1" r="2.8"/><circle cx="390.6" cy="195.1" r="2.8"/><circle cx="341.0" cy="196.1" r="2.8"/><circle cx="360.8" cy="192.1" r="2.8"/><circle cx="358.5" cy="187.6" r="2.8"/><circle cx="364.6" cy="207.8" r="2.8"/><circle cx="351.2" cy="191.6" r="2.8"/><circle cx="356.5" cy="191.9" r="2.8"/><circle cx="404.1" cy="197.6" r="2.8"/><circle cx="341.7" cy="204.5" r="2.8"/><circle cx="370.7" cy="205.2" r="2.8"/><circle cx="399.4" cy="205.8" r="2.8"/><circle cx="368.4" cy="199.5" r="2.8"/><circle cx="367.2" cy="197.3" r="2.8"/><circle cx="372.5" cy="205.4" r="2.8"/><circle cx="345.4" cy="196.9" r="2.8"/><circle cx="350.0" cy="198.3" r="2.8"/><circle cx="385.1" cy="191.6" r="2.8"/><circle cx="377.9" cy="197.7" r="2.8"/><circle cx="352.0" cy="208.6" r="2.8"/><circle cx="369.7" cy="196.7" r="2.8"/><circle cx="405.0" cy="199.4" r="2.8"/><circle cx="350.3" cy="204.9" r="2.8"/><circle cx="392.0" cy="199.3" r="2.8"/><circle cx="401.7" cy="205.3" r="2.8"/><circle cx="373.9" cy="198.5" r="2.8"/><circle cx="347.3" cy="192.1" r="2.8"/><circle cx="369.1" cy="189.1" r="2.8"/><circle cx="390.9" cy="199.9" r="2.8"/><circle cx="382.2" cy="196.8" r="2.8"/><circle cx="395.0" cy="191.3" r="2.8"/><circle cx="371.2" cy="196.5" r="2.8"/><circle cx="336.5" cy="193.2" r="2.8"/><circle cx="338.3" cy="201.0" r="2.8"/><circle cx="391.9" cy="194.4" r="2.8"/><circle cx="373.6" cy="189.7" r="2.8"/><circle cx="399.7" cy="196.2" r="2.8"/><circle cx="395.2" cy="193.4" r="2.8"/><circle cx="381.0" cy="205.2" r="2.8"/><circle cx="377.5" cy="193.9" r="2.8"/><circle cx="390.3" cy="188.9" r="2.8"/><circle cx="348.0" cy="196.2" r="2.8"/><circle cx="361.9" cy="195.0" r="2.8"/><circle cx="380.9" cy="198.0" r="2.8"/><circle cx="372.6" cy="197.7" r="2.8"/><circle cx="347.6" cy="190.4" r="2.8"/><circle cx="358.7" cy="196.0" r="2.8"/><circle cx="345.5" cy="195.7" r="2.8"/><circle cx="394.5" cy="189.4" r="2.8"/><circle cx="348.7" cy="193.0" r="2.8"/><circle cx="381.4" cy="197.4" r="2.8"/><circle cx="347.8" cy="187.0" r="2.8"/><circle cx="344.9" cy="189.9" r="2.8"/><circle cx="338.9" cy="193.5" r="2.8"/><circle cx="361.2" cy="195.6" r="2.8"/><circle cx="394.6" cy="199.1" r="2.8"/><circle cx="399.7" cy="188.2" r="2.8"/><circle cx="373.6" cy="197.8" r="2.8"/><circle cx="396.5" cy="199.7" r="2.8"/><circle cx="381.8" cy="205.0" r="2.8"/><circle cx="403.1" cy="193.6" r="2.8"/><circle cx="350.6" cy="190.7" r="2.8"/><circle cx="353.9" cy="187.1" r="2.8"/><circle cx="354.9" cy="199.2" r="2.8"/><circle cx="393.3" cy="203.5" r="2.8"/><circle cx="401.5" cy="192.0" r="2.8"/><circle cx="390.3" cy="198.6" r="2.8"/><circle cx="403.3" cy="201.1" r="2.8"/><circle cx="336.5" cy="201.6" r="2.8"/><circle cx="347.3" cy="193.8" r="2.8"/><circle cx="346.7" cy="200.0" r="2.8"/><circle cx="359.1" cy="196.0" r="2.8"/><circle cx="361.7" cy="190.9" r="2.8"/><circle cx="364.1" cy="197.9" r="2.8"/><circle cx="347.0" cy="198.5" r="2.8"/><circle cx="372.7" cy="190.9" r="2.8"/><circle cx="382.0" cy="199.1" r="2.8"/><circle cx="393.0" cy="208.1" r="2.8"/><circle cx="346.6" cy="187.9" r="2.8"/><circle cx="405.0" cy="200.7" r="2.8"/><circle cx="354.1" cy="201.9" r="2.8"/><circle cx="415.9" cy="198.4" r="2.8"/><circle cx="409.8" cy="198.6" r="2.8"/><circle cx="413.2" cy="186.7" r="2.8"/><circle cx="425.3" cy="191.4" r="2.8"/><circle cx="417.9" cy="199.1" r="2.8"/><circle cx="419.3" cy="193.5" r="2.8"/><circle cx="409.1" cy="189.3" r="2.8"/><circle cx="345.5" cy="182.3" r="2.8"/><circle cx="351.4" cy="183.4" r="2.8"/><circle cx="361.1" cy="184.1" r="2.8"/><circle cx="375.3" cy="180.9" r="2.8"/><circle cx="383.7" cy="178.2" r="2.8"/><circle cx="337.6" cy="188.5" r="2.8"/><circle cx="333.5" cy="192.6" r="2.8"/><circle cx="409.5" cy="170.6" r="2.8"/><circle cx="406.1" cy="174.1" r="2.8"/><circle cx="384.1" cy="178.2" r="2.8"/><circle cx="391.7" cy="178.5" r="2.8"/><circle cx="375.3" cy="180.9" r="2.8"/><circle cx="428.4" cy="183.8" r="2.8"/><circle cx="415.7" cy="184.8" r="2.8"/><circle cx="434.0" cy="195.1" r="2.8"/><circle cx="424.5" cy="191.1" r="2.8"/><circle cx="437.7" cy="204.6" r="2.8"/><circle cx="409.8" cy="201.0" r="2.8"/><circle cx="321.7" cy="210.6" r="2.8"/><circle cx="343.4" cy="217.0" r="2.8"/><circle cx="345.9" cy="212.5" r="2.8"/><circle cx="349.6" cy="213.3" r="2.8"/><circle cx="360.6" cy="211.8" r="2.8"/><circle cx="366.2" cy="212.5" r="2.8"/><circle cx="379.0" cy="229.4" r="2.8"/><circle cx="324.6" cy="205.9" r="2.8"/><circle cx="354.0" cy="206.7" r="2.8"/><circle cx="366.5" cy="212.5" r="2.8"/><circle cx="379.2" cy="229.9" r="2.8"/><circle cx="401.0" cy="220.6" r="2.8"/><circle cx="408.3" cy="234.6" r="2.8"/><circle cx="392.2" cy="209.6" r="2.8"/><circle cx="394.4" cy="205.9" r="2.8"/><circle cx="437.0" cy="205.2" r="2.8"/><circle cx="371.6" cy="206.7" r="2.8"/><circle cx="377.5" cy="207.1" r="2.8"/></g><path d="M328.4 190.0V210.0M325.4 190.0h6M325.4 210.0h6" stroke="#000" stroke-width="1.35" fill="none"/><path d="M374.6 190.0V215.5M371.6 190.0h6M371.6 215.5h6" stroke="#000" stroke-width="1.35" fill="none"/><path d="M419.8 191.5V215.5M416.8 191.5h6M416.8 215.5h6" stroke="#000" stroke-width="1.35" fill="none"/><path d="M428.4 183.0V205.0M425.4 183.0h6M425.4 205.0h6" stroke="#000" stroke-width="1.35" fill="none"/><rect x="325.2" y="197.0" width="6.4" height="6.4" fill="#000"/><rect x="371.6" y="199.5" width="6.4" height="6.4" fill="#000"/><rect x="416.8" y="201.2" width="6.4" height="6.4" fill="#000"/><circle cx="428.2" cy="193.6" r="3.3" fill="#062a2a"/>
<rect x="289.6" y="158.0" width="164.89999999999998" height="91.5" fill="none" stroke="#000" stroke-width="1"/>
<line x1="289.60" y1="158.00" x2="284.10" y2="158.00" stroke="#000" stroke-width="1" />
<line x1="454.50" y1="158.00" x2="460.00" y2="158.00" stroke="#000" stroke-width="1" />
<line x1="289.60" y1="169.44" x2="286.80" y2="169.44" stroke="#000" stroke-width="1" />
<line x1="454.50" y1="169.44" x2="457.30" y2="169.44" stroke="#000" stroke-width="1" />
<line x1="289.60" y1="180.88" x2="284.10" y2="180.88" stroke="#000" stroke-width="1" />
<line x1="454.50" y1="180.88" x2="460.00" y2="180.88" stroke="#000" stroke-width="1" />
<line x1="289.60" y1="192.31" x2="286.80" y2="192.31" stroke="#000" stroke-width="1" />
<line x1="454.50" y1="192.31" x2="457.30" y2="192.31" stroke="#000" stroke-width="1" />
<line x1="289.60" y1="203.75" x2="284.10" y2="203.75" stroke="#000" stroke-width="1" />
<line x1="454.50" y1="203.75" x2="460.00" y2="203.75" stroke="#000" stroke-width="1" />
<line x1="289.60" y1="215.19" x2="286.80" y2="215.19" stroke="#000" stroke-width="1" />
<line x1="454.50" y1="215.19" x2="457.30" y2="215.19" stroke="#000" stroke-width="1" />
<line x1="289.60" y1="226.62" x2="284.10" y2="226.62" stroke="#000" stroke-width="1" />
<line x1="454.50" y1="226.62" x2="460.00" y2="226.62" stroke="#000" stroke-width="1" />
<line x1="289.60" y1="238.06" x2="286.80" y2="238.06" stroke="#000" stroke-width="1" />
<line x1="454.50" y1="238.06" x2="457.30" y2="238.06" stroke="#000" stroke-width="1" />
<line x1="289.60" y1="249.50" x2="284.10" y2="249.50" stroke="#000" stroke-width="1" />
<line x1="454.50" y1="249.50" x2="460.00" y2="249.50" stroke="#000" stroke-width="1" />
<line x1="289.60" y1="158.00" x2="289.60" y2="152.50" stroke="#000" stroke-width="1" />
<line x1="289.60" y1="249.50" x2="289.60" y2="255.00" stroke="#000" stroke-width="1" />
<line x1="304.62" y1="158.00" x2="304.62" y2="155.20" stroke="#000" stroke-width="1" />
<line x1="304.62" y1="249.50" x2="304.62" y2="252.30" stroke="#000" stroke-width="1" />
<line x1="313.41" y1="158.00" x2="313.41" y2="155.20" stroke="#000" stroke-width="1" />
<line x1="313.41" y1="249.50" x2="313.41" y2="252.30" stroke="#000" stroke-width="1" />
<line x1="319.64" y1="158.00" x2="319.64" y2="155.20" stroke="#000" stroke-width="1" />
<line x1="319.64" y1="249.50" x2="319.64" y2="252.30" stroke="#000" stroke-width="1" />
<line x1="324.48" y1="158.00" x2="324.48" y2="155.20" stroke="#000" stroke-width="1" />
<line x1="324.48" y1="249.50" x2="324.48" y2="252.30" stroke="#000" stroke-width="1" />
<line x1="328.43" y1="158.00" x2="328.43" y2="155.20" stroke="#000" stroke-width="1" />
<line x1="328.43" y1="249.50" x2="328.43" y2="252.30" stroke="#000" stroke-width="1" />
<line x1="331.77" y1="158.00" x2="331.77" y2="155.20" stroke="#000" stroke-width="1" />
<line x1="331.77" y1="249.50" x2="331.77" y2="252.30" stroke="#000" stroke-width="1" />
<line x1="334.66" y1="158.00" x2="334.66" y2="155.20" stroke="#000" stroke-width="1" />
<line x1="334.66" y1="249.50" x2="334.66" y2="252.30" stroke="#000" stroke-width="1" />
<line x1="337.22" y1="158.00" x2="337.22" y2="155.20" stroke="#000" stroke-width="1" />
<line x1="337.22" y1="249.50" x2="337.22" y2="252.30" stroke="#000" stroke-width="1" />
<line x1="339.50" y1="158.00" x2="339.50" y2="152.50" stroke="#000" stroke-width="1" />
<line x1="339.50" y1="249.50" x2="339.50" y2="255.00" stroke="#000" stroke-width="1" />
<line x1="354.52" y1="158.00" x2="354.52" y2="155.20" stroke="#000" stroke-width="1" />
<line x1="354.52" y1="249.50" x2="354.52" y2="252.30" stroke="#000" stroke-width="1" />
<line x1="363.31" y1="158.00" x2="363.31" y2="155.20" stroke="#000" stroke-width="1" />
<line x1="363.31" y1="249.50" x2="363.31" y2="252.30" stroke="#000" stroke-width="1" />
<line x1="369.54" y1="158.00" x2="369.54" y2="155.20" stroke="#000" stroke-width="1" />
<line x1="369.54" y1="249.50" x2="369.54" y2="252.30" stroke="#000" stroke-width="1" />
<line x1="374.38" y1="158.00" x2="374.38" y2="155.20" stroke="#000" stroke-width="1" />
<line x1="374.38" y1="249.50" x2="374.38" y2="252.30" stroke="#000" stroke-width="1" />
<line x1="378.33" y1="158.00" x2="378.33" y2="155.20" stroke="#000" stroke-width="1" />
<line x1="378.33" y1="249.50" x2="378.33" y2="252.30" stroke="#000" stroke-width="1" />
<line x1="381.67" y1="158.00" x2="381.67" y2="155.20" stroke="#000" stroke-width="1" />
<line x1="381.67" y1="249.50" x2="381.67" y2="252.30" stroke="#000" stroke-width="1" />
<line x1="384.56" y1="158.00" x2="384.56" y2="155.20" stroke="#000" stroke-width="1" />
<line x1="384.56" y1="249.50" x2="384.56" y2="252.30" stroke="#000" stroke-width="1" />
<line x1="387.12" y1="158.00" x2="387.12" y2="155.20" stroke="#000" stroke-width="1" />
<line x1="387.12" y1="249.50" x2="387.12" y2="252.30" stroke="#000" stroke-width="1" />
<line x1="389.40" y1="158.00" x2="389.40" y2="152.50" stroke="#000" stroke-width="1" />
<line x1="389.40" y1="249.50" x2="389.40" y2="255.00" stroke="#000" stroke-width="1" />
<line x1="404.42" y1="158.00" x2="404.42" y2="155.20" stroke="#000" stroke-width="1" />
<line x1="404.42" y1="249.50" x2="404.42" y2="252.30" stroke="#000" stroke-width="1" />
<line x1="413.21" y1="158.00" x2="413.21" y2="155.20" stroke="#000" stroke-width="1" />
<line x1="413.21" y1="249.50" x2="413.21" y2="252.30" stroke="#000" stroke-width="1" />
<line x1="419.44" y1="158.00" x2="419.44" y2="155.20" stroke="#000" stroke-width="1" />
<line x1="419.44" y1="249.50" x2="419.44" y2="252.30" stroke="#000" stroke-width="1" />
<line x1="424.28" y1="158.00" x2="424.28" y2="155.20" stroke="#000" stroke-width="1" />
<line x1="424.28" y1="249.50" x2="424.28" y2="252.30" stroke="#000" stroke-width="1" />
<line x1="428.23" y1="158.00" x2="428.23" y2="155.20" stroke="#000" stroke-width="1" />
<line x1="428.23" y1="249.50" x2="428.23" y2="252.30" stroke="#000" stroke-width="1" />
<line x1="431.57" y1="158.00" x2="431.57" y2="155.20" stroke="#000" stroke-width="1" />
<line x1="431.57" y1="249.50" x2="431.57" y2="252.30" stroke="#000" stroke-width="1" />
<line x1="434.46" y1="158.00" x2="434.46" y2="155.20" stroke="#000" stroke-width="1" />
<line x1="434.46" y1="249.50" x2="434.46" y2="252.30" stroke="#000" stroke-width="1" />
<line x1="437.02" y1="158.00" x2="437.02" y2="155.20" stroke="#000" stroke-width="1" />
<line x1="437.02" y1="249.50" x2="437.02" y2="252.30" stroke="#000" stroke-width="1" />
<line x1="439.30" y1="158.00" x2="439.30" y2="152.50" stroke="#000" stroke-width="1" />
<line x1="439.30" y1="249.50" x2="439.30" y2="255.00" stroke="#000" stroke-width="1" />
<line x1="454.32" y1="158.00" x2="454.32" y2="155.20" stroke="#000" stroke-width="1" />
<line x1="454.32" y1="249.50" x2="454.32" y2="252.30" stroke="#000" stroke-width="1" />
<text x="294.0" y="245.6" font-size="11.0" text-anchor="start" style="font-family:'Liberation Sans',sans-serif;" letter-spacing="0.14">Liu2016</text>
<text x="243.8" y="165.7" font-size="12.6" text-anchor="end" style="font-family:'Liberation Serif',serif;" >(c)</text>
<text x="280.2" y="161.3" font-size="11.6" text-anchor="end" style="font-family:'Liberation Serif',serif;" >1.0</text>
<text x="280.2" y="184.2" font-size="11.6" text-anchor="end" style="font-family:'Liberation Serif',serif;" >0.5</text>
<text x="280.2" y="207.1" font-size="11.6" text-anchor="end" style="font-family:'Liberation Serif',serif;" >0.0</text>
<text x="280.2" y="229.9" font-size="11.6" text-anchor="end" style="font-family:'Liberation Serif',serif;" >-0.5</text>
<text x="280.2" y="252.8" font-size="11.6" text-anchor="end" style="font-family:'Liberation Serif',serif;" >-1.0</text>
<clipPath id="cd"><rect x="509.0" y="48.3" width="165.0" height="91.50000000000001"/></clipPath>
<line x1="509.00" y1="94.05" x2="674.00" y2="94.05" stroke="#333" stroke-width="1.3" stroke-dasharray="6.2 3.3 1.2 3.2"/>
<g clip-path="url(#cd)" fill="#00FFFF" fill-opacity="0.9" stroke="#001a1a" stroke-width="0.7"><rect x="540.1" y="73.9" width="5.0" height="5.0"/><rect x="539.9" y="87.2" width="5.0" height="5.0"/><rect x="539.1" y="70.7" width="5.0" height="5.0"/><rect x="529.2" y="81.1" width="5.0" height="5.0"/><rect x="525.9" y="85.3" width="5.0" height="5.0"/><rect x="541.5" y="81.0" width="5.0" height="5.0"/><rect x="535.5" y="77.2" width="5.0" height="5.0"/><rect x="524.5" y="74.0" width="5.0" height="5.0"/><rect x="540.9" y="77.6" width="5.0" height="5.0"/><rect x="542.2" y="86.0" width="5.0" height="5.0"/><rect x="529.7" y="84.5" width="5.0" height="5.0"/><rect x="539.1" y="78.0" width="5.0" height="5.0"/><rect x="526.0" y="71.4" width="5.0" height="5.0"/><rect x="532.4" y="83.3" width="5.0" height="5.0"/><rect x="539.2" y="70.9" width="5.0" height="5.0"/><rect x="531.9" y="76.0" width="5.0" height="5.0"/><rect x="533.8" y="74.9" width="5.0" height="5.0"/><rect x="526.6" y="83.4" width="5.0" height="5.0"/><rect x="539.2" y="81.0" width="5.0" height="5.0"/><rect x="533.5" y="82.1" width="5.0" height="5.0"/><rect x="529.0" y="80.7" width="5.0" height="5.0"/><rect x="538.5" y="75.5" width="5.0" height="5.0"/><rect x="542.1" y="82.9" width="5.0" height="5.0"/><rect x="534.2" y="87.8" width="5.0" height="5.0"/><rect x="537.8" y="79.3" width="5.0" height="5.0"/><rect x="542.4" y="83.5" width="5.0" height="5.0"/><rect x="525.0" y="78.1" width="5.0" height="5.0"/><rect x="535.3" y="85.6" width="5.0" height="5.0"/><rect x="541.0" y="79.7" width="5.0" height="5.0"/><rect x="597.9" y="83.5" width="5.0" height="5.0"/><rect x="596.5" y="75.6" width="5.0" height="5.0"/><rect x="576.5" y="83.1" width="5.0" height="5.0"/><rect x="549.7" y="86.0" width="5.0" height="5.0"/><rect x="588.9" y="87.6" width="5.0" height="5.0"/><rect x="548.0" y="86.5" width="5.0" height="5.0"/><rect x="558.3" y="84.9" width="5.0" height="5.0"/><rect x="580.8" y="91.6" width="5.0" height="5.0"/><rect x="565.1" y="82.3" width="5.0" height="5.0"/><rect x="567.5" y="73.3" width="5.0" height="5.0"/><rect x="557.2" y="88.1" width="5.0" height="5.0"/><rect x="539.9" y="83.0" width="5.0" height="5.0"/><rect x="560.9" y="85.8" width="5.0" height="5.0"/><rect x="591.2" y="80.2" width="5.0" height="5.0"/><rect x="591.5" y="84.3" width="5.0" height="5.0"/><rect x="542.8" y="91.1" width="5.0" height="5.0"/><rect x="573.4" y="83.3" width="5.0" height="5.0"/><rect x="560.5" y="74.0" width="5.0" height="5.0"/><rect x="563.4" y="78.2" width="5.0" height="5.0"/><rect x="601.7" y="91.0" width="5.0" height="5.0"/><rect x="590.1" y="75.6" width="5.0" height="5.0"/><rect x="570.5" y="73.1" width="5.0" height="5.0"/><rect x="570.5" y="85.9" width="5.0" height="5.0"/><rect x="597.1" y="83.0" width="5.0" height="5.0"/><rect x="561.9" y="76.2" width="5.0" height="5.0"/><rect x="588.3" y="74.3" width="5.0" height="5.0"/><rect x="584.9" y="81.2" width="5.0" height="5.0"/><rect x="585.4" y="80.9" width="5.0" height="5.0"/><rect x="567.1" y="77.6" width="5.0" height="5.0"/><rect x="582.0" y="80.3" width="5.0" height="5.0"/><rect x="591.9" y="77.6" width="5.0" height="5.0"/><rect x="556.7" y="91.3" width="5.0" height="5.0"/><rect x="587.1" y="67.8" width="5.0" height="5.0"/><rect x="568.8" y="81.8" width="5.0" height="5.0"/><rect x="572.2" y="75.2" width="5.0" height="5.0"/><rect x="567.7" y="85.2" width="5.0" height="5.0"/><rect x="561.9" y="79.3" width="5.0" height="5.0"/><rect x="586.4" y="84.1" width="5.0" height="5.0"/><rect x="563.0" y="84.0" width="5.0" height="5.0"/><rect x="549.3" y="81.3" width="5.0" height="5.0"/><rect x="588.7" y="88.0" width="5.0" height="5.0"/><rect x="563.5" y="72.5" width="5.0" height="5.0"/><rect x="575.1" y="87.1" width="5.0" height="5.0"/><rect x="601.4" y="81.4" width="5.0" height="5.0"/><rect x="579.6" y="83.9" width="5.0" height="5.0"/><rect x="571.6" y="90.5" width="5.0" height="5.0"/><rect x="555.9" y="87.2" width="5.0" height="5.0"/><rect x="583.6" y="68.3" width="5.0" height="5.0"/><rect x="599.9" y="76.9" width="5.0" height="5.0"/><rect x="583.5" y="87.6" width="5.0" height="5.0"/><rect x="587.5" y="75.2" width="5.0" height="5.0"/><rect x="558.2" y="79.4" width="5.0" height="5.0"/><rect x="557.9" y="90.8" width="5.0" height="5.0"/><rect x="560.7" y="85.9" width="5.0" height="5.0"/><rect x="568.6" y="75.3" width="5.0" height="5.0"/><rect x="595.6" y="85.1" width="5.0" height="5.0"/><rect x="567.8" y="84.9" width="5.0" height="5.0"/><rect x="549.0" y="80.5" width="5.0" height="5.0"/><rect x="572.2" y="80.6" width="5.0" height="5.0"/><rect x="554.4" y="81.2" width="5.0" height="5.0"/><rect x="578.8" y="72.6" width="5.0" height="5.0"/><rect x="559.5" y="81.4" width="5.0" height="5.0"/><rect x="599.3" y="76.8" width="5.0" height="5.0"/><rect x="565.9" y="83.3" width="5.0" height="5.0"/><rect x="575.4" y="84.0" width="5.0" height="5.0"/><rect x="575.5" y="76.0" width="5.0" height="5.0"/><rect x="564.4" y="84.5" width="5.0" height="5.0"/><rect x="601.1" y="84.8" width="5.0" height="5.0"/><rect x="540.3" y="79.4" width="5.0" height="5.0"/><rect x="585.8" y="86.3" width="5.0" height="5.0"/><rect x="554.7" y="78.5" width="5.0" height="5.0"/><rect x="541.5" y="78.0" width="5.0" height="5.0"/><rect x="549.2" y="80.6" width="5.0" height="5.0"/><rect x="586.3" y="81.6" width="5.0" height="5.0"/><rect x="596.6" y="89.3" width="5.0" height="5.0"/><rect x="587.9" y="67.8" width="5.0" height="5.0"/><rect x="556.0" y="78.6" width="5.0" height="5.0"/><rect x="569.8" y="69.0" width="5.0" height="5.0"/><rect x="545.2" y="76.7" width="5.0" height="5.0"/><rect x="564.8" y="82.3" width="5.0" height="5.0"/><rect x="554.3" y="80.2" width="5.0" height="5.0"/><rect x="539.6" y="85.2" width="5.0" height="5.0"/><rect x="556.4" y="82.2" width="5.0" height="5.0"/><rect x="597.8" y="75.6" width="5.0" height="5.0"/><rect x="572.0" y="90.3" width="5.0" height="5.0"/><rect x="555.3" y="89.5" width="5.0" height="5.0"/><rect x="544.9" y="80.2" width="5.0" height="5.0"/><rect x="595.9" y="72.8" width="5.0" height="5.0"/><rect x="543.4" y="92.5" width="5.0" height="5.0"/><rect x="540.0" y="81.1" width="5.0" height="5.0"/><rect x="544.8" y="79.2" width="5.0" height="5.0"/><rect x="586.4" y="83.0" width="5.0" height="5.0"/><rect x="598.2" y="75.1" width="5.0" height="5.0"/><rect x="543.7" y="77.0" width="5.0" height="5.0"/><rect x="579.0" y="87.6" width="5.0" height="5.0"/><rect x="579.9" y="78.2" width="5.0" height="5.0"/><rect x="571.7" y="72.4" width="5.0" height="5.0"/><rect x="537.8" y="78.9" width="5.0" height="5.0"/><rect x="582.5" y="81.8" width="5.0" height="5.0"/><rect x="565.5" y="79.6" width="5.0" height="5.0"/><rect x="598.1" y="77.3" width="5.0" height="5.0"/><rect x="602.3" y="85.5" width="5.0" height="5.0"/><rect x="578.9" y="80.3" width="5.0" height="5.0"/><rect x="545.0" y="72.3" width="5.0" height="5.0"/><rect x="558.1" y="81.3" width="5.0" height="5.0"/><rect x="578.4" y="80.8" width="5.0" height="5.0"/><rect x="594.1" y="82.7" width="5.0" height="5.0"/><rect x="564.9" y="70.1" width="5.0" height="5.0"/><rect x="561.0" y="75.5" width="5.0" height="5.0"/><rect x="576.9" y="83.7" width="5.0" height="5.0"/><rect x="593.1" y="87.4" width="5.0" height="5.0"/><rect x="550.2" y="81.7" width="5.0" height="5.0"/><rect x="576.2" y="81.9" width="5.0" height="5.0"/><rect x="577.5" y="85.4" width="5.0" height="5.0"/><rect x="568.4" y="86.6" width="5.0" height="5.0"/><rect x="560.9" y="90.9" width="5.0" height="5.0"/><rect x="599.1" y="85.1" width="5.0" height="5.0"/><rect x="590.6" y="78.4" width="5.0" height="5.0"/><rect x="547.6" y="82.6" width="5.0" height="5.0"/><rect x="600.4" y="82.1" width="5.0" height="5.0"/><rect x="622.1" y="88.5" width="5.0" height="5.0"/><rect x="617.0" y="84.6" width="5.0" height="5.0"/><rect x="604.6" y="79.7" width="5.0" height="5.0"/><rect x="622.8" y="86.4" width="5.0" height="5.0"/><rect x="622.1" y="83.0" width="5.0" height="5.0"/><rect x="610.4" y="79.2" width="5.0" height="5.0"/><rect x="605.3" y="76.7" width="5.0" height="5.0"/><rect x="620.6" y="84.5" width="5.0" height="5.0"/><rect x="597.6" y="83.4" width="5.0" height="5.0"/><rect x="624.1" y="81.1" width="5.0" height="5.0"/><rect x="624.5" y="93.4" width="5.0" height="5.0"/><rect x="599.8" y="84.7" width="5.0" height="5.0"/><rect x="623.9" y="90.9" width="5.0" height="5.0"/><rect x="605.4" y="77.4" width="5.0" height="5.0"/><rect x="620.3" y="78.4" width="5.0" height="5.0"/><rect x="621.7" y="81.8" width="5.0" height="5.0"/><rect x="602.5" y="88.1" width="5.0" height="5.0"/><rect x="607.1" y="84.0" width="5.0" height="5.0"/><rect x="624.3" y="88.3" width="5.0" height="5.0"/><rect x="619.5" y="85.5" width="5.0" height="5.0"/><rect x="617.2" y="89.6" width="5.0" height="5.0"/><rect x="604.1" y="84.0" width="5.0" height="5.0"/><rect x="618.0" y="80.4" width="5.0" height="5.0"/><rect x="598.6" y="85.6" width="5.0" height="5.0"/><rect x="604.9" y="83.4" width="5.0" height="5.0"/><rect x="604.5" y="93.3" width="5.0" height="5.0"/><rect x="599.1" y="81.6" width="5.0" height="5.0"/><rect x="610.6" y="83.8" width="5.0" height="5.0"/><rect x="598.4" y="80.7" width="5.0" height="5.0"/><rect x="625.1" y="90.8" width="5.0" height="5.0"/><rect x="611.2" y="88.4" width="5.0" height="5.0"/><rect x="619.1" y="87.5" width="5.0" height="5.0"/><rect x="612.3" y="75.8" width="5.0" height="5.0"/><rect x="600.9" y="73.6" width="5.0" height="5.0"/><rect x="610.1" y="84.7" width="5.0" height="5.0"/><rect x="639.4" y="74.5" width="5.0" height="5.0"/><rect x="652.8" y="79.5" width="5.0" height="5.0"/><rect x="668.2" y="84.7" width="5.0" height="5.0"/><rect x="660.3" y="91.4" width="5.0" height="5.0"/><rect x="527.5" y="60.7" width="5.0" height="5.0"/><rect x="524.5" y="65.1" width="5.0" height="5.0"/><rect x="524.5" y="79.1" width="5.0" height="5.0"/><rect x="531.1" y="83.5" width="5.0" height="5.0"/><rect x="611.1" y="58.2" width="5.0" height="5.0"/><rect x="661.8" y="71.0" width="5.0" height="5.0"/><rect x="612.6" y="68.1" width="5.0" height="5.0"/><rect x="633.9" y="76.6" width="5.0" height="5.0"/><rect x="639.0" y="78.0" width="5.0" height="5.0"/><rect x="643.0" y="76.9" width="5.0" height="5.0"/><rect x="647.1" y="80.5" width="5.0" height="5.0"/><rect x="649.3" y="84.2" width="5.0" height="5.0"/><rect x="653.7" y="77.6" width="5.0" height="5.0"/><rect x="652.7" y="80.5" width="5.0" height="5.0"/><rect x="663.6" y="86.4" width="5.0" height="5.0"/><rect x="664.0" y="80.5" width="5.0" height="5.0"/><rect x="667.7" y="80.5" width="5.0" height="5.0"/><rect x="670.6" y="85.4" width="5.0" height="5.0"/><rect x="635.7" y="88.3" width="5.0" height="5.0"/><rect x="556.5" y="104.3" width="5.0" height="5.0"/><rect x="568.1" y="106.1" width="5.0" height="5.0"/><rect x="583.6" y="114.1" width="5.0" height="5.0"/><rect x="590.3" y="108.3" width="5.0" height="5.0"/><rect x="584.4" y="105.8" width="5.0" height="5.0"/><rect x="589.1" y="104.6" width="5.0" height="5.0"/><rect x="594.7" y="105.0" width="5.0" height="5.0"/><rect x="574.5" y="100.2" width="5.0" height="5.0"/><rect x="571.5" y="98.0" width="5.0" height="5.0"/><rect x="566.4" y="96.1" width="5.0" height="5.0"/><rect x="578.9" y="95.8" width="5.0" height="5.0"/><rect x="584.0" y="96.1" width="5.0" height="5.0"/><rect x="587.7" y="96.5" width="5.0" height="5.0"/><rect x="592.1" y="97.0" width="5.0" height="5.0"/><rect x="597.2" y="97.2" width="5.0" height="5.0"/><rect x="598.7" y="99.5" width="5.0" height="5.0"/><rect x="537.7" y="91.1" width="5.0" height="5.0"/><rect x="614.5" y="113.8" width="5.0" height="5.0"/><rect x="638.0" y="121.2" width="5.0" height="5.0"/><rect x="654.0" y="116.0" width="5.0" height="5.0"/><rect x="584.0" y="114.1" width="5.0" height="5.0"/><rect x="590.6" y="108.3" width="5.0" height="5.0"/><rect x="595.0" y="104.6" width="5.0" height="5.0"/><rect x="585.4" y="105.3" width="5.0" height="5.0"/><rect x="597.2" y="98.7" width="5.0" height="5.0"/><rect x="592.0" y="97.0" width="5.0" height="5.0"/><rect x="586.9" y="96.1" width="5.0" height="5.0"/><rect x="637.1" y="94.0" width="5.0" height="5.0"/><rect x="635.4" y="88.4" width="5.0" height="5.0"/><rect x="649.3" y="87.7" width="5.0" height="5.0"/><rect x="663.0" y="87.0" width="5.0" height="5.0"/><rect x="612.6" y="95.0" width="5.0" height="5.0"/><rect x="604.5" y="89.9" width="5.0" height="5.0"/></g><g clip-path="url(#cd)" fill="#F8148F" fill-opacity="0.92" stroke="#120008" stroke-width="0.8"><circle cx="535.9" cy="77.2" r="2.8"/><circle cx="533.7" cy="78.4" r="2.8"/><circle cx="536.4" cy="75.1" r="2.8"/><circle cx="538.6" cy="76.5" r="2.8"/><circle cx="534.3" cy="69.2" r="2.8"/><circle cx="544.6" cy="92.3" r="2.8"/><circle cx="538.1" cy="74.1" r="2.8"/><circle cx="539.5" cy="70.5" r="2.8"/><circle cx="536.8" cy="73.4" r="2.8"/><circle cx="543.9" cy="76.4" r="2.8"/><circle cx="543.3" cy="82.5" r="2.8"/><circle cx="538.8" cy="81.0" r="2.8"/><circle cx="533.0" cy="73.3" r="2.8"/><circle cx="540.9" cy="76.3" r="2.8"/><circle cx="537.0" cy="84.4" r="2.8"/><circle cx="534.7" cy="82.7" r="2.8"/><circle cx="538.6" cy="72.9" r="2.8"/><circle cx="541.7" cy="76.9" r="2.8"/><circle cx="540.9" cy="90.2" r="2.8"/><circle cx="534.2" cy="86.8" r="2.8"/><circle cx="544.0" cy="83.4" r="2.8"/><circle cx="538.8" cy="77.6" r="2.8"/><circle cx="543.9" cy="84.1" r="2.8"/><circle cx="538.0" cy="80.2" r="2.8"/><circle cx="543.9" cy="73.8" r="2.8"/><circle cx="543.1" cy="70.7" r="2.8"/><circle cx="533.4" cy="81.1" r="2.8"/><circle cx="543.6" cy="80.1" r="2.8"/><circle cx="541.2" cy="85.7" r="2.8"/><circle cx="540.0" cy="74.2" r="2.8"/><circle cx="567.3" cy="80.4" r="2.8"/><circle cx="561.5" cy="86.5" r="2.8"/><circle cx="562.1" cy="85.3" r="2.8"/><circle cx="560.7" cy="83.0" r="2.8"/><circle cx="556.5" cy="74.6" r="2.8"/><circle cx="561.9" cy="78.6" r="2.8"/><circle cx="559.6" cy="77.3" r="2.8"/><circle cx="550.9" cy="87.1" r="2.8"/><circle cx="572.2" cy="73.1" r="2.8"/><circle cx="553.0" cy="73.8" r="2.8"/><circle cx="543.8" cy="87.7" r="2.8"/><circle cx="563.8" cy="81.5" r="2.8"/><circle cx="572.5" cy="74.5" r="2.8"/><circle cx="544.3" cy="78.6" r="2.8"/><circle cx="541.1" cy="78.5" r="2.8"/><circle cx="552.1" cy="78.8" r="2.8"/><circle cx="550.3" cy="83.0" r="2.8"/><circle cx="545.9" cy="80.0" r="2.8"/><circle cx="550.6" cy="76.3" r="2.8"/><circle cx="556.1" cy="74.1" r="2.8"/><circle cx="548.4" cy="65.8" r="2.8"/><circle cx="560.2" cy="74.6" r="2.8"/><circle cx="555.5" cy="85.3" r="2.8"/><circle cx="555.0" cy="79.1" r="2.8"/><circle cx="544.2" cy="73.1" r="2.8"/><circle cx="568.7" cy="75.9" r="2.8"/><circle cx="563.6" cy="71.7" r="2.8"/><circle cx="561.1" cy="79.5" r="2.8"/><circle cx="551.8" cy="91.2" r="2.8"/><circle cx="577.9" cy="89.9" r="2.8"/><circle cx="567.8" cy="85.7" r="2.8"/><circle cx="571.6" cy="82.9" r="2.8"/><circle cx="561.2" cy="76.0" r="2.8"/><circle cx="563.5" cy="69.1" r="2.8"/><circle cx="566.3" cy="77.6" r="2.8"/><circle cx="550.7" cy="74.5" r="2.8"/><circle cx="549.7" cy="83.2" r="2.8"/><circle cx="569.2" cy="78.7" r="2.8"/><circle cx="552.0" cy="73.7" r="2.8"/><circle cx="541.1" cy="80.7" r="2.8"/><circle cx="557.5" cy="71.4" r="2.8"/><circle cx="572.7" cy="85.3" r="2.8"/><circle cx="556.1" cy="81.6" r="2.8"/><circle cx="561.4" cy="76.9" r="2.8"/><circle cx="574.3" cy="72.4" r="2.8"/><circle cx="545.7" cy="77.7" r="2.8"/><circle cx="547.0" cy="79.1" r="2.8"/><circle cx="540.7" cy="82.8" r="2.8"/><circle cx="553.5" cy="82.4" r="2.8"/><circle cx="544.9" cy="79.8" r="2.8"/><circle cx="561.8" cy="73.0" r="2.8"/><circle cx="552.7" cy="79.7" r="2.8"/><circle cx="543.4" cy="74.4" r="2.8"/><circle cx="567.6" cy="70.5" r="2.8"/><circle cx="568.7" cy="83.7" r="2.8"/><circle cx="574.5" cy="73.1" r="2.8"/><circle cx="553.5" cy="69.5" r="2.8"/><circle cx="560.7" cy="78.2" r="2.8"/><circle cx="564.3" cy="64.4" r="2.8"/><circle cx="573.3" cy="77.1" r="2.8"/><circle cx="575.9" cy="80.6" r="2.8"/><circle cx="552.7" cy="74.7" r="2.8"/><circle cx="548.2" cy="79.2" r="2.8"/><circle cx="550.5" cy="92.2" r="2.8"/><circle cx="550.0" cy="87.3" r="2.8"/><circle cx="569.4" cy="83.9" r="2.8"/><circle cx="563.6" cy="81.6" r="2.8"/><circle cx="544.6" cy="74.0" r="2.8"/><circle cx="563.8" cy="76.6" r="2.8"/><circle cx="565.1" cy="75.6" r="2.8"/><circle cx="558.7" cy="77.7" r="2.8"/><circle cx="568.0" cy="78.3" r="2.8"/><circle cx="542.7" cy="72.0" r="2.8"/><circle cx="566.2" cy="88.5" r="2.8"/><circle cx="542.2" cy="70.4" r="2.8"/><circle cx="572.5" cy="80.0" r="2.8"/><circle cx="560.3" cy="84.6" r="2.8"/><circle cx="572.0" cy="77.3" r="2.8"/><circle cx="545.6" cy="73.0" r="2.8"/><circle cx="547.6" cy="77.7" r="2.8"/><circle cx="571.7" cy="90.7" r="2.8"/><circle cx="543.4" cy="81.8" r="2.8"/><circle cx="552.2" cy="75.5" r="2.8"/><circle cx="569.7" cy="81.5" r="2.8"/><circle cx="572.5" cy="76.2" r="2.8"/><circle cx="545.3" cy="64.7" r="2.8"/><circle cx="542.5" cy="79.2" r="2.8"/><circle cx="563.9" cy="84.6" r="2.8"/><circle cx="548.3" cy="85.4" r="2.8"/><circle cx="551.2" cy="77.1" r="2.8"/><circle cx="542.0" cy="67.9" r="2.8"/><circle cx="553.5" cy="85.7" r="2.8"/><circle cx="570.9" cy="76.4" r="2.8"/><circle cx="561.9" cy="82.5" r="2.8"/><circle cx="541.1" cy="85.2" r="2.8"/><circle cx="542.8" cy="79.8" r="2.8"/><circle cx="573.9" cy="77.1" r="2.8"/><circle cx="564.0" cy="73.2" r="2.8"/><circle cx="546.7" cy="74.5" r="2.8"/><circle cx="563.5" cy="77.7" r="2.8"/><circle cx="570.3" cy="74.3" r="2.8"/><circle cx="571.4" cy="79.9" r="2.8"/><circle cx="564.6" cy="64.2" r="2.8"/><circle cx="545.4" cy="70.6" r="2.8"/><circle cx="572.3" cy="77.2" r="2.8"/><circle cx="565.5" cy="72.7" r="2.8"/><circle cx="571.3" cy="73.8" r="2.8"/><circle cx="558.0" cy="69.7" r="2.8"/><circle cx="573.0" cy="82.0" r="2.8"/><circle cx="570.5" cy="88.5" r="2.8"/><circle cx="552.6" cy="70.6" r="2.8"/><circle cx="545.8" cy="85.2" r="2.8"/><circle cx="563.6" cy="67.5" r="2.8"/><circle cx="547.8" cy="78.3" r="2.8"/><circle cx="553.1" cy="63.8" r="2.8"/><circle cx="548.6" cy="80.7" r="2.8"/><circle cx="584.5" cy="72.6" r="2.8"/><circle cx="581.8" cy="74.5" r="2.8"/><circle cx="603.8" cy="87.4" r="2.8"/><circle cx="599.0" cy="83.3" r="2.8"/><circle cx="597.6" cy="79.3" r="2.8"/><circle cx="580.2" cy="81.6" r="2.8"/><circle cx="584.6" cy="67.5" r="2.8"/><circle cx="531.4" cy="65.1" r="2.8"/><circle cx="547.6" cy="62.0" r="2.8"/><circle cx="559.3" cy="61.7" r="2.8"/><circle cx="553.5" cy="64.7" r="2.8"/><circle cx="581.7" cy="64.2" r="2.8"/><circle cx="586.9" cy="67.6" r="2.8"/><circle cx="591.6" cy="67.9" r="2.8"/><circle cx="600.7" cy="64.7" r="2.8"/><circle cx="597.5" cy="72.8" r="2.8"/><circle cx="601.9" cy="88.5" r="2.8"/><circle cx="536.6" cy="85.2" r="2.8"/><circle cx="600.9" cy="64.7" r="2.8"/><circle cx="638.2" cy="63.7" r="2.8"/><circle cx="642.0" cy="73.5" r="2.8"/><circle cx="591.6" cy="67.9" r="2.8"/><circle cx="587.2" cy="67.3" r="2.8"/><circle cx="602.3" cy="71.0" r="2.8"/><circle cx="613.6" cy="71.7" r="2.8"/><circle cx="610.0" cy="73.5" r="2.8"/><circle cx="597.5" cy="72.8" r="2.8"/><circle cx="601.9" cy="88.5" r="2.8"/><circle cx="630.3" cy="69.5" r="2.8"/><circle cx="630.5" cy="73.0" r="2.8"/><circle cx="630.5" cy="77.0" r="2.8"/><circle cx="630.7" cy="81.0" r="2.8"/><circle cx="631.5" cy="84.0" r="2.8"/><circle cx="630.5" cy="88.0" r="2.8"/><circle cx="630.5" cy="92.0" r="2.8"/><circle cx="591.6" cy="78.0" r="2.8"/><circle cx="591.6" cy="82.0" r="2.8"/><circle cx="591.6" cy="85.0" r="2.8"/><circle cx="594.1" cy="122.9" r="2.8"/><circle cx="570.1" cy="96.1" r="2.8"/><circle cx="556.4" cy="93.1" r="2.8"/><circle cx="549.1" cy="90.9" r="2.8"/><circle cx="574.0" cy="91.7" r="2.8"/><circle cx="577.7" cy="90.9" r="2.8"/><circle cx="601.2" cy="89.5" r="2.8"/><circle cx="630.1" cy="103.9" r="2.8"/><circle cx="629.8" cy="97.5" r="2.8"/><circle cx="629.8" cy="93.1" r="2.8"/><circle cx="618.5" cy="97.5" r="2.8"/><circle cx="601.9" cy="88.7" r="2.8"/></g><path d="M523.4 68.8V85.2M520.9 68.8h5M520.9 85.2h5" stroke="#000" stroke-width="1.35" fill="none"/><path d="M552.0 72.0V88.0M549.0 72.0h6M549.0 88.0h6" stroke="#000" stroke-width="1.35" fill="none"/><path d="M569.6 73.0V96.0M566.6 73.0h6M566.6 96.0h6" stroke="#000" stroke-width="1.35" fill="none"/><path d="M615.1 75.7V96.1M612.1 75.7h6M612.1 96.1h6" stroke="#000" stroke-width="1.35" fill="none"/><path d="M531.1 66.0V81.0M528.1 66.0h6M528.1 81.0h6" stroke="#000" stroke-width="1.35" fill="none"/><path d="M558.6 67.0V82.0M555.6 67.0h6M555.6 82.0h6" stroke="#000" stroke-width="1.35" fill="none"/><path d="M576.2 70.0V87.0M573.2 70.0h6M573.2 87.0h6" stroke="#000" stroke-width="1.35" fill="none"/><path d="M622.4 67.6V90.4M619.4 67.6h6M619.4 90.4h6" stroke="#000" stroke-width="1.35" fill="none"/><rect x="520.2" y="74.0" width="6.4" height="6.4" fill="#000"/><rect x="548.8" y="76.9" width="6.4" height="6.4" fill="#000"/><rect x="566.4" y="78.4" width="6.4" height="6.4" fill="#000"/><rect x="611.9" y="82.8" width="6.4" height="6.4" fill="#000"/><circle cx="531.1" cy="73.5" r="3.3" fill="#000"/><circle cx="558.6" cy="74.2" r="3.3" fill="#000"/><circle cx="576.2" cy="78.6" r="3.3" fill="#000"/><circle cx="622.4" cy="79.4" r="3.3" fill="#000"/>
<rect x="509.0" y="48.3" width="165.0" height="91.50000000000001" fill="none" stroke="#000" stroke-width="1"/>
<line x1="509.00" y1="48.30" x2="503.50" y2="48.30" stroke="#000" stroke-width="1" />
<line x1="674.00" y1="48.30" x2="679.50" y2="48.30" stroke="#000" stroke-width="1" />
<line x1="509.00" y1="59.74" x2="506.20" y2="59.74" stroke="#000" stroke-width="1" />
<line x1="674.00" y1="59.74" x2="676.80" y2="59.74" stroke="#000" stroke-width="1" />
<line x1="509.00" y1="71.17" x2="503.50" y2="71.17" stroke="#000" stroke-width="1" />
<line x1="674.00" y1="71.17" x2="679.50" y2="71.17" stroke="#000" stroke-width="1" />
<line x1="509.00" y1="82.61" x2="506.20" y2="82.61" stroke="#000" stroke-width="1" />
<line x1="674.00" y1="82.61" x2="676.80" y2="82.61" stroke="#000" stroke-width="1" />
<line x1="509.00" y1="94.05" x2="503.50" y2="94.05" stroke="#000" stroke-width="1" />
<line x1="674.00" y1="94.05" x2="679.50" y2="94.05" stroke="#000" stroke-width="1" />
<line x1="509.00" y1="105.49" x2="506.20" y2="105.49" stroke="#000" stroke-width="1" />
<line x1="674.00" y1="105.49" x2="676.80" y2="105.49" stroke="#000" stroke-width="1" />
<line x1="509.00" y1="116.93" x2="503.50" y2="116.93" stroke="#000" stroke-width="1" />
<line x1="674.00" y1="116.93" x2="679.50" y2="116.93" stroke="#000" stroke-width="1" />
<line x1="509.00" y1="128.36" x2="506.20" y2="128.36" stroke="#000" stroke-width="1" />
<line x1="674.00" y1="128.36" x2="676.80" y2="128.36" stroke="#000" stroke-width="1" />
<line x1="509.00" y1="139.80" x2="503.50" y2="139.80" stroke="#000" stroke-width="1" />
<line x1="674.00" y1="139.80" x2="679.50" y2="139.80" stroke="#000" stroke-width="1" />
<line x1="509.00" y1="48.30" x2="509.00" y2="45.50" stroke="#000" stroke-width="1" />
<line x1="509.00" y1="139.80" x2="509.00" y2="142.60" stroke="#000" stroke-width="1" />
<line x1="527.33" y1="48.30" x2="527.33" y2="42.80" stroke="#000" stroke-width="1" />
<line x1="527.33" y1="139.80" x2="527.33" y2="145.30" stroke="#000" stroke-width="1" />
<line x1="545.67" y1="48.30" x2="545.67" y2="45.50" stroke="#000" stroke-width="1" />
<line x1="545.67" y1="139.80" x2="545.67" y2="142.60" stroke="#000" stroke-width="1" />
<line x1="564.00" y1="48.30" x2="564.00" y2="42.80" stroke="#000" stroke-width="1" />
<line x1="564.00" y1="139.80" x2="564.00" y2="145.30" stroke="#000" stroke-width="1" />
<line x1="582.33" y1="48.30" x2="582.33" y2="45.50" stroke="#000" stroke-width="1" />
<line x1="582.33" y1="139.80" x2="582.33" y2="142.60" stroke="#000" stroke-width="1" />
<line x1="600.67" y1="48.30" x2="600.67" y2="42.80" stroke="#000" stroke-width="1" />
<line x1="600.67" y1="139.80" x2="600.67" y2="145.30" stroke="#000" stroke-width="1" />
<line x1="619.00" y1="48.30" x2="619.00" y2="45.50" stroke="#000" stroke-width="1" />
<line x1="619.00" y1="139.80" x2="619.00" y2="142.60" stroke="#000" stroke-width="1" />
<line x1="637.33" y1="48.30" x2="637.33" y2="42.80" stroke="#000" stroke-width="1" />
<line x1="637.33" y1="139.80" x2="637.33" y2="145.30" stroke="#000" stroke-width="1" />
<line x1="655.67" y1="48.30" x2="655.67" y2="45.50" stroke="#000" stroke-width="1" />
<line x1="655.67" y1="139.80" x2="655.67" y2="142.60" stroke="#000" stroke-width="1" />
<line x1="674.00" y1="48.30" x2="674.00" y2="42.80" stroke="#000" stroke-width="1" />
<line x1="674.00" y1="139.80" x2="674.00" y2="145.30" stroke="#000" stroke-width="1" />
<text x="512.6" y="135.9" font-size="11.0" text-anchor="start" style="font-family:'Liberation Sans',sans-serif;" letter-spacing="-0.24">Remo2000</text>
<text x="481.8" y="56.0" font-size="12.6" text-anchor="end" style="font-family:'Liberation Serif',serif;" >(d)</text>
<text x="499.6" y="51.6" font-size="11.6" text-anchor="end" style="font-family:'Liberation Serif',serif;" >1.0</text>
<text x="499.6" y="74.5" font-size="11.6" text-anchor="end" style="font-family:'Liberation Serif',serif;" >0.5</text>
<text x="499.6" y="97.4" font-size="11.6" text-anchor="end" style="font-family:'Liberation Serif',serif;" >0.0</text>
<text x="499.6" y="120.2" font-size="11.6" text-anchor="end" style="font-family:'Liberation Serif',serif;" >-0.5</text>
<text x="499.6" y="143.1" font-size="11.6" text-anchor="end" style="font-family:'Liberation Serif',serif;" >-1.0</text>
<clipPath id="ce"><rect x="509.0" y="158.0" width="165.0" height="91.5"/></clipPath>
<line x1="509.00" y1="203.75" x2="674.00" y2="203.75" stroke="#333" stroke-width="1.3" stroke-dasharray="6.2 3.3 1.2 3.2"/>
<g clip-path="url(#ce)" fill="#00FFFF" fill-opacity="0.9" stroke="#001a1a" stroke-width="0.7"><rect x="539.5" y="199.8" width="5.0" height="5.0"/><rect x="531.0" y="192.5" width="5.0" height="5.0"/><rect x="537.1" y="200.8" width="5.0" height="5.0"/><rect x="540.0" y="196.5" width="5.0" height="5.0"/><rect x="536.0" y="190.9" width="5.0" height="5.0"/><rect x="534.4" y="195.9" width="5.0" height="5.0"/><rect x="538.2" y="191.0" width="5.0" height="5.0"/><rect x="537.4" y="202.1" width="5.0" height="5.0"/><rect x="532.9" y="196.1" width="5.0" height="5.0"/><rect x="534.8" y="201.1" width="5.0" height="5.0"/><rect x="537.9" y="190.4" width="5.0" height="5.0"/><rect x="525.6" y="204.8" width="5.0" height="5.0"/><rect x="536.1" y="194.8" width="5.0" height="5.0"/><rect x="537.7" y="204.0" width="5.0" height="5.0"/><rect x="531.7" y="200.9" width="5.0" height="5.0"/><rect x="533.6" y="190.3" width="5.0" height="5.0"/><rect x="528.6" y="197.8" width="5.0" height="5.0"/><rect x="536.2" y="193.5" width="5.0" height="5.0"/><rect x="542.0" y="199.0" width="5.0" height="5.0"/><rect x="529.9" y="204.0" width="5.0" height="5.0"/><rect x="532.8" y="200.1" width="5.0" height="5.0"/><rect x="540.5" y="202.5" width="5.0" height="5.0"/><rect x="534.4" y="189.9" width="5.0" height="5.0"/><rect x="532.1" y="197.4" width="5.0" height="5.0"/><rect x="536.5" y="198.4" width="5.0" height="5.0"/><rect x="525.1" y="201.9" width="5.0" height="5.0"/><rect x="527.3" y="192.6" width="5.0" height="5.0"/><rect x="540.2" y="199.8" width="5.0" height="5.0"/><rect x="589.1" y="192.0" width="5.0" height="5.0"/><rect x="551.4" y="196.4" width="5.0" height="5.0"/><rect x="599.2" y="202.0" width="5.0" height="5.0"/><rect x="558.5" y="192.5" width="5.0" height="5.0"/><rect x="567.8" y="190.1" width="5.0" height="5.0"/><rect x="575.3" y="188.9" width="5.0" height="5.0"/><rect x="602.4" y="201.0" width="5.0" height="5.0"/><rect x="595.8" y="206.4" width="5.0" height="5.0"/><rect x="546.9" y="203.4" width="5.0" height="5.0"/><rect x="595.6" y="199.6" width="5.0" height="5.0"/><rect x="550.7" y="191.9" width="5.0" height="5.0"/><rect x="589.7" y="197.1" width="5.0" height="5.0"/><rect x="581.1" y="190.4" width="5.0" height="5.0"/><rect x="547.4" y="188.3" width="5.0" height="5.0"/><rect x="541.0" y="202.5" width="5.0" height="5.0"/><rect x="597.9" y="198.0" width="5.0" height="5.0"/><rect x="537.8" y="198.2" width="5.0" height="5.0"/><rect x="547.1" y="195.5" width="5.0" height="5.0"/><rect x="600.8" y="207.0" width="5.0" height="5.0"/><rect x="582.8" y="206.7" width="5.0" height="5.0"/><rect x="574.2" y="194.1" width="5.0" height="5.0"/><rect x="567.0" y="196.0" width="5.0" height="5.0"/><rect x="574.7" y="194.6" width="5.0" height="5.0"/><rect x="567.6" y="205.3" width="5.0" height="5.0"/><rect x="541.8" y="203.6" width="5.0" height="5.0"/><rect x="552.5" y="195.7" width="5.0" height="5.0"/><rect x="557.9" y="197.7" width="5.0" height="5.0"/><rect x="569.8" y="191.4" width="5.0" height="5.0"/><rect x="563.1" y="186.6" width="5.0" height="5.0"/><rect x="584.4" y="198.1" width="5.0" height="5.0"/><rect x="589.7" y="200.9" width="5.0" height="5.0"/><rect x="587.5" y="195.8" width="5.0" height="5.0"/><rect x="567.5" y="200.0" width="5.0" height="5.0"/><rect x="563.0" y="204.3" width="5.0" height="5.0"/><rect x="539.0" y="196.2" width="5.0" height="5.0"/><rect x="560.5" y="202.3" width="5.0" height="5.0"/><rect x="588.7" y="208.2" width="5.0" height="5.0"/><rect x="560.2" y="200.4" width="5.0" height="5.0"/><rect x="556.1" y="194.2" width="5.0" height="5.0"/><rect x="548.1" y="199.4" width="5.0" height="5.0"/><rect x="578.7" y="201.5" width="5.0" height="5.0"/><rect x="570.0" y="195.7" width="5.0" height="5.0"/><rect x="540.5" y="188.1" width="5.0" height="5.0"/><rect x="553.2" y="198.9" width="5.0" height="5.0"/><rect x="542.5" y="198.5" width="5.0" height="5.0"/><rect x="547.5" y="194.7" width="5.0" height="5.0"/><rect x="554.2" y="200.4" width="5.0" height="5.0"/><rect x="542.4" y="198.5" width="5.0" height="5.0"/><rect x="601.8" y="206.4" width="5.0" height="5.0"/><rect x="578.7" y="194.0" width="5.0" height="5.0"/><rect x="545.2" y="193.0" width="5.0" height="5.0"/><rect x="571.7" y="198.1" width="5.0" height="5.0"/><rect x="563.3" y="195.0" width="5.0" height="5.0"/><rect x="550.1" y="204.1" width="5.0" height="5.0"/><rect x="564.3" y="201.0" width="5.0" height="5.0"/><rect x="574.3" y="198.2" width="5.0" height="5.0"/><rect x="544.0" y="205.2" width="5.0" height="5.0"/><rect x="599.6" y="202.4" width="5.0" height="5.0"/><rect x="569.8" y="203.6" width="5.0" height="5.0"/><rect x="542.5" y="201.2" width="5.0" height="5.0"/><rect x="582.1" y="197.9" width="5.0" height="5.0"/><rect x="599.1" y="198.8" width="5.0" height="5.0"/><rect x="538.6" y="196.6" width="5.0" height="5.0"/><rect x="581.8" y="192.7" width="5.0" height="5.0"/><rect x="592.0" y="197.3" width="5.0" height="5.0"/><rect x="566.5" y="202.6" width="5.0" height="5.0"/><rect x="542.4" y="198.5" width="5.0" height="5.0"/><rect x="586.7" y="193.8" width="5.0" height="5.0"/><rect x="559.2" y="191.9" width="5.0" height="5.0"/><rect x="557.2" y="200.9" width="5.0" height="5.0"/><rect x="587.5" y="203.0" width="5.0" height="5.0"/><rect x="537.8" y="203.5" width="5.0" height="5.0"/><rect x="553.5" y="192.6" width="5.0" height="5.0"/><rect x="596.4" y="199.6" width="5.0" height="5.0"/><rect x="547.8" y="196.0" width="5.0" height="5.0"/><rect x="542.2" y="203.0" width="5.0" height="5.0"/><rect x="543.6" y="199.0" width="5.0" height="5.0"/><rect x="571.3" y="200.5" width="5.0" height="5.0"/><rect x="561.8" y="200.8" width="5.0" height="5.0"/><rect x="570.8" y="209.0" width="5.0" height="5.0"/><rect x="597.0" y="203.3" width="5.0" height="5.0"/><rect x="553.2" y="202.2" width="5.0" height="5.0"/><rect x="587.5" y="194.0" width="5.0" height="5.0"/><rect x="575.2" y="202.4" width="5.0" height="5.0"/><rect x="578.2" y="191.8" width="5.0" height="5.0"/><rect x="539.3" y="202.0" width="5.0" height="5.0"/><rect x="540.6" y="197.7" width="5.0" height="5.0"/><rect x="547.4" y="192.4" width="5.0" height="5.0"/><rect x="566.2" y="191.9" width="5.0" height="5.0"/><rect x="561.3" y="197.5" width="5.0" height="5.0"/><rect x="556.9" y="198.4" width="5.0" height="5.0"/><rect x="593.8" y="196.5" width="5.0" height="5.0"/><rect x="574.3" y="196.9" width="5.0" height="5.0"/><rect x="559.4" y="196.2" width="5.0" height="5.0"/><rect x="577.1" y="195.9" width="5.0" height="5.0"/><rect x="594.1" y="198.6" width="5.0" height="5.0"/><rect x="550.1" y="199.0" width="5.0" height="5.0"/><rect x="563.5" y="205.3" width="5.0" height="5.0"/><rect x="551.3" y="201.1" width="5.0" height="5.0"/><rect x="570.8" y="195.5" width="5.0" height="5.0"/><rect x="546.1" y="206.3" width="5.0" height="5.0"/><rect x="559.6" y="204.6" width="5.0" height="5.0"/><rect x="602.2" y="198.8" width="5.0" height="5.0"/><rect x="597.3" y="205.6" width="5.0" height="5.0"/><rect x="538.4" y="194.1" width="5.0" height="5.0"/><rect x="560.1" y="194.0" width="5.0" height="5.0"/><rect x="590.4" y="195.7" width="5.0" height="5.0"/><rect x="592.0" y="208.7" width="5.0" height="5.0"/><rect x="557.9" y="198.9" width="5.0" height="5.0"/><rect x="580.3" y="201.0" width="5.0" height="5.0"/><rect x="587.1" y="200.0" width="5.0" height="5.0"/><rect x="563.7" y="196.2" width="5.0" height="5.0"/><rect x="544.9" y="200.2" width="5.0" height="5.0"/><rect x="588.6" y="203.4" width="5.0" height="5.0"/><rect x="585.3" y="194.9" width="5.0" height="5.0"/><rect x="574.0" y="207.4" width="5.0" height="5.0"/><rect x="588.2" y="203.4" width="5.0" height="5.0"/><rect x="601.9" y="191.0" width="5.0" height="5.0"/><rect x="551.8" y="203.3" width="5.0" height="5.0"/><rect x="537.9" y="206.1" width="5.0" height="5.0"/><rect x="623.8" y="203.4" width="5.0" height="5.0"/><rect x="616.0" y="198.5" width="5.0" height="5.0"/><rect x="615.6" y="200.8" width="5.0" height="5.0"/><rect x="611.0" y="199.5" width="5.0" height="5.0"/><rect x="617.9" y="194.9" width="5.0" height="5.0"/><rect x="624.7" y="193.9" width="5.0" height="5.0"/><rect x="602.5" y="207.4" width="5.0" height="5.0"/><rect x="612.2" y="199.7" width="5.0" height="5.0"/><rect x="615.9" y="205.7" width="5.0" height="5.0"/><rect x="604.0" y="206.0" width="5.0" height="5.0"/><rect x="607.3" y="205.4" width="5.0" height="5.0"/><rect x="602.2" y="197.8" width="5.0" height="5.0"/><rect x="600.7" y="191.9" width="5.0" height="5.0"/><rect x="612.2" y="193.4" width="5.0" height="5.0"/><rect x="608.6" y="198.8" width="5.0" height="5.0"/><rect x="619.5" y="208.1" width="5.0" height="5.0"/><rect x="616.4" y="209.1" width="5.0" height="5.0"/><rect x="619.7" y="199.4" width="5.0" height="5.0"/><rect x="608.6" y="198.3" width="5.0" height="5.0"/><rect x="625.4" y="207.6" width="5.0" height="5.0"/><rect x="615.0" y="195.4" width="5.0" height="5.0"/><rect x="606.7" y="202.7" width="5.0" height="5.0"/><rect x="622.2" y="201.7" width="5.0" height="5.0"/><rect x="616.8" y="198.8" width="5.0" height="5.0"/><rect x="623.7" y="199.2" width="5.0" height="5.0"/><rect x="606.0" y="198.2" width="5.0" height="5.0"/><rect x="623.2" y="200.9" width="5.0" height="5.0"/><rect x="608.5" y="191.7" width="5.0" height="5.0"/><rect x="600.0" y="199.8" width="5.0" height="5.0"/><rect x="598.2" y="204.0" width="5.0" height="5.0"/><rect x="610.6" y="204.4" width="5.0" height="5.0"/><rect x="614.6" y="204.9" width="5.0" height="5.0"/><rect x="604.7" y="201.8" width="5.0" height="5.0"/><rect x="601.2" y="200.9" width="5.0" height="5.0"/><rect x="602.9" y="199.0" width="5.0" height="5.0"/><rect x="602.7" y="200.8" width="5.0" height="5.0"/><rect x="640.9" y="198.8" width="5.0" height="5.0"/><rect x="642.3" y="199.6" width="5.0" height="5.0"/><rect x="658.0" y="201.9" width="5.0" height="5.0"/><rect x="527.5" y="186.7" width="5.0" height="5.0"/><rect x="524.5" y="191.9" width="5.0" height="5.0"/><rect x="578.9" y="184.5" width="5.0" height="5.0"/><rect x="597.9" y="184.5" width="5.0" height="5.0"/><rect x="611.1" y="173.2" width="5.0" height="5.0"/><rect x="661.8" y="183.5" width="5.0" height="5.0"/><rect x="597.9" y="184.5" width="5.0" height="5.0"/><rect x="612.6" y="183.1" width="5.0" height="5.0"/><rect x="633.9" y="190.4" width="5.0" height="5.0"/><rect x="639.0" y="191.6" width="5.0" height="5.0"/><rect x="643.0" y="190.4" width="5.0" height="5.0"/><rect x="647.1" y="194.1" width="5.0" height="5.0"/><rect x="649.3" y="197.7" width="5.0" height="5.0"/><rect x="653.7" y="190.1" width="5.0" height="5.0"/><rect x="653.0" y="193.6" width="5.0" height="5.0"/><rect x="663.6" y="198.5" width="5.0" height="5.0"/><rect x="664.0" y="192.6" width="5.0" height="5.0"/><rect x="667.7" y="192.6" width="5.0" height="5.0"/><rect x="670.6" y="197.0" width="5.0" height="5.0"/><rect x="635.7" y="202.1" width="5.0" height="5.0"/><rect x="524.5" y="204.9" width="5.0" height="5.0"/><rect x="530.4" y="209.6" width="5.0" height="5.0"/><rect x="538.5" y="214.0" width="5.0" height="5.0"/><rect x="556.8" y="225.2" width="5.0" height="5.0"/><rect x="568.1" y="225.2" width="5.0" height="5.0"/><rect x="583.6" y="231.8" width="5.0" height="5.0"/><rect x="590.3" y="225.2" width="5.0" height="5.0"/><rect x="584.0" y="223.3" width="5.0" height="5.0"/><rect x="589.1" y="221.8" width="5.0" height="5.0"/><rect x="594.7" y="221.8" width="5.0" height="5.0"/><rect x="574.5" y="219.3" width="5.0" height="5.0"/><rect x="578.1" y="217.8" width="5.0" height="5.0"/><rect x="566.4" y="215.5" width="5.0" height="5.0"/><rect x="570.0" y="215.9" width="5.0" height="5.0"/><rect x="578.9" y="213.0" width="5.0" height="5.0"/><rect x="584.0" y="213.4" width="5.0" height="5.0"/><rect x="587.7" y="213.7" width="5.0" height="5.0"/><rect x="592.1" y="214.0" width="5.0" height="5.0"/><rect x="598.7" y="216.9" width="5.0" height="5.0"/><rect x="582.5" y="207.8" width="5.0" height="5.0"/><rect x="590.6" y="206.4" width="5.0" height="5.0"/><rect x="600.1" y="203.4" width="5.0" height="5.0"/><rect x="538.5" y="209.6" width="5.0" height="5.0"/><rect x="614.5" y="229.1" width="5.0" height="5.0"/><rect x="638.0" y="235.0" width="5.0" height="5.0"/><rect x="654.0" y="228.4" width="5.0" height="5.0"/><rect x="584.0" y="232.1" width="5.0" height="5.0"/><rect x="590.6" y="225.2" width="5.0" height="5.0"/><rect x="595.0" y="221.8" width="5.0" height="5.0"/><rect x="589.1" y="222.5" width="5.0" height="5.0"/><rect x="584.0" y="224.0" width="5.0" height="5.0"/><rect x="598.7" y="217.4" width="5.0" height="5.0"/><rect x="592.0" y="214.0" width="5.0" height="5.0"/><rect x="586.9" y="213.7" width="5.0" height="5.0"/><rect x="584.0" y="213.0" width="5.0" height="5.0"/><rect x="637.6" y="207.1" width="5.0" height="5.0"/><rect x="635.4" y="202.7" width="5.0" height="5.0"/><rect x="612.6" y="210.8" width="5.0" height="5.0"/><rect x="604.5" y="207.1" width="5.0" height="5.0"/><rect x="590.6" y="205.6" width="5.0" height="5.0"/><rect x="585.5" y="205.6" width="5.0" height="5.0"/><rect x="600.9" y="203.4" width="5.0" height="5.0"/><rect x="623.6" y="205.6" width="5.0" height="5.0"/></g><path d="M531.4 190.0V205.0M528.4 190.0h6M528.4 205.0h6" stroke="#000" stroke-width="1.35" fill="none"/><path d="M558.6 188.0V203.0M555.6 188.0h6M555.6 203.0h6" stroke="#000" stroke-width="1.35" fill="none"/><path d="M576.2 189.0V206.0M573.2 189.0h6M573.2 206.0h6" stroke="#000" stroke-width="1.35" fill="none"/><circle cx="531.4" cy="197.6" r="3.3" fill="#000"/><circle cx="558.6" cy="195.5" r="3.3" fill="#000"/><circle cx="576.2" cy="197.0" r="3.3" fill="#000"/><g clip-path="url(#ce)" fill="#F8148F" fill-opacity="0.92" stroke="#120008" stroke-width="0.8"><circle cx="537.6" cy="198.9" r="2.8"/><circle cx="540.4" cy="199.3" r="2.8"/><circle cx="534.2" cy="185.9" r="2.8"/><circle cx="545.4" cy="198.6" r="2.8"/><circle cx="545.5" cy="189.0" r="2.8"/><circle cx="537.8" cy="205.1" r="2.8"/><circle cx="537.8" cy="195.5" r="2.8"/><circle cx="538.3" cy="199.8" r="2.8"/><circle cx="539.4" cy="198.2" r="2.8"/><circle cx="544.4" cy="201.4" r="2.8"/><circle cx="542.2" cy="189.7" r="2.8"/><circle cx="546.1" cy="197.7" r="2.8"/><circle cx="541.0" cy="188.5" r="2.8"/><circle cx="544.6" cy="200.5" r="2.8"/><circle cx="544.4" cy="204.8" r="2.8"/><circle cx="536.1" cy="188.2" r="2.8"/><circle cx="535.0" cy="194.0" r="2.8"/><circle cx="536.7" cy="201.1" r="2.8"/><circle cx="539.5" cy="208.8" r="2.8"/><circle cx="533.4" cy="203.7" r="2.8"/><circle cx="535.1" cy="201.8" r="2.8"/><circle cx="542.4" cy="191.6" r="2.8"/><circle cx="538.9" cy="197.2" r="2.8"/><circle cx="540.7" cy="197.8" r="2.8"/><circle cx="541.3" cy="193.2" r="2.8"/><circle cx="540.3" cy="199.7" r="2.8"/><circle cx="534.9" cy="194.8" r="2.8"/><circle cx="547.0" cy="194.5" r="2.8"/><circle cx="546.9" cy="210.1" r="2.8"/><circle cx="536.5" cy="195.8" r="2.8"/><circle cx="539.6" cy="209.1" r="2.8"/><circle cx="541.4" cy="194.6" r="2.8"/><circle cx="543.6" cy="196.6" r="2.8"/><circle cx="541.7" cy="189.1" r="2.8"/><circle cx="544.8" cy="193.5" r="2.8"/><circle cx="543.6" cy="206.9" r="2.8"/><circle cx="549.7" cy="206.1" r="2.8"/><circle cx="553.5" cy="188.1" r="2.8"/><circle cx="575.2" cy="205.8" r="2.8"/><circle cx="553.1" cy="186.2" r="2.8"/><circle cx="550.7" cy="197.6" r="2.8"/><circle cx="545.1" cy="189.9" r="2.8"/><circle cx="562.3" cy="194.9" r="2.8"/><circle cx="573.6" cy="194.9" r="2.8"/><circle cx="552.5" cy="188.5" r="2.8"/><circle cx="545.7" cy="187.3" r="2.8"/><circle cx="555.3" cy="193.9" r="2.8"/><circle cx="551.9" cy="197.9" r="2.8"/><circle cx="546.3" cy="199.3" r="2.8"/><circle cx="546.0" cy="196.6" r="2.8"/><circle cx="561.7" cy="194.6" r="2.8"/><circle cx="558.8" cy="202.5" r="2.8"/><circle cx="552.1" cy="196.0" r="2.8"/><circle cx="569.6" cy="202.6" r="2.8"/><circle cx="574.1" cy="203.9" r="2.8"/><circle cx="565.4" cy="202.4" r="2.8"/><circle cx="547.6" cy="203.8" r="2.8"/><circle cx="576.3" cy="201.4" r="2.8"/><circle cx="571.1" cy="197.4" r="2.8"/><circle cx="557.8" cy="193.5" r="2.8"/><circle cx="569.7" cy="195.4" r="2.8"/><circle cx="553.9" cy="205.0" r="2.8"/><circle cx="550.7" cy="193.5" r="2.8"/><circle cx="576.7" cy="195.5" r="2.8"/><circle cx="575.6" cy="199.9" r="2.8"/><circle cx="556.4" cy="190.9" r="2.8"/><circle cx="571.5" cy="197.0" r="2.8"/><circle cx="548.1" cy="199.2" r="2.8"/><circle cx="556.4" cy="194.5" r="2.8"/><circle cx="571.5" cy="196.6" r="2.8"/><circle cx="552.2" cy="185.9" r="2.8"/><circle cx="546.3" cy="188.3" r="2.8"/><circle cx="567.5" cy="195.5" r="2.8"/><circle cx="575.5" cy="202.0" r="2.8"/><circle cx="567.9" cy="194.0" r="2.8"/><circle cx="579.9" cy="193.3" r="2.8"/><circle cx="550.5" cy="191.3" r="2.8"/><circle cx="554.9" cy="199.8" r="2.8"/><circle cx="568.8" cy="190.0" r="2.8"/><circle cx="557.4" cy="197.2" r="2.8"/><circle cx="572.9" cy="195.3" r="2.8"/><circle cx="555.0" cy="196.5" r="2.8"/><circle cx="574.9" cy="193.7" r="2.8"/><circle cx="554.2" cy="196.6" r="2.8"/><circle cx="562.0" cy="203.5" r="2.8"/><circle cx="560.1" cy="194.9" r="2.8"/><circle cx="574.5" cy="194.8" r="2.8"/><circle cx="568.9" cy="199.0" r="2.8"/><circle cx="557.1" cy="192.8" r="2.8"/><circle cx="570.0" cy="198.6" r="2.8"/><circle cx="546.7" cy="196.5" r="2.8"/><circle cx="568.2" cy="193.0" r="2.8"/><circle cx="576.7" cy="194.3" r="2.8"/><circle cx="571.0" cy="190.7" r="2.8"/><circle cx="570.3" cy="206.1" r="2.8"/><circle cx="548.9" cy="201.5" r="2.8"/><circle cx="554.3" cy="200.9" r="2.8"/><circle cx="578.7" cy="202.2" r="2.8"/><circle cx="549.0" cy="204.3" r="2.8"/><circle cx="554.0" cy="201.1" r="2.8"/><circle cx="570.2" cy="201.7" r="2.8"/><circle cx="559.8" cy="209.7" r="2.8"/><circle cx="578.4" cy="190.2" r="2.8"/><circle cx="571.0" cy="198.0" r="2.8"/><circle cx="573.0" cy="194.4" r="2.8"/><circle cx="558.5" cy="197.0" r="2.8"/><circle cx="577.4" cy="192.8" r="2.8"/><circle cx="574.1" cy="200.9" r="2.8"/><circle cx="572.8" cy="191.6" r="2.8"/><circle cx="578.4" cy="199.8" r="2.8"/><circle cx="575.8" cy="193.8" r="2.8"/><circle cx="558.5" cy="195.9" r="2.8"/><circle cx="574.3" cy="190.7" r="2.8"/><circle cx="564.4" cy="193.9" r="2.8"/><circle cx="547.6" cy="187.3" r="2.8"/><circle cx="551.2" cy="199.8" r="2.8"/><circle cx="571.7" cy="189.3" r="2.8"/><circle cx="568.2" cy="198.8" r="2.8"/><circle cx="545.2" cy="193.1" r="2.8"/><circle cx="558.8" cy="196.0" r="2.8"/><circle cx="576.4" cy="203.7" r="2.8"/><circle cx="570.3" cy="196.2" r="2.8"/><circle cx="557.5" cy="193.5" r="2.8"/><circle cx="576.7" cy="197.7" r="2.8"/><circle cx="562.6" cy="200.8" r="2.8"/><circle cx="576.8" cy="195.3" r="2.8"/><circle cx="563.2" cy="205.9" r="2.8"/><circle cx="547.1" cy="197.8" r="2.8"/><circle cx="599.0" cy="198.3" r="2.8"/><circle cx="600.8" cy="203.3" r="2.8"/><circle cx="595.3" cy="201.9" r="2.8"/><circle cx="595.7" cy="197.7" r="2.8"/><circle cx="600.5" cy="201.6" r="2.8"/><circle cx="601.4" cy="194.6" r="2.8"/><circle cx="588.4" cy="205.9" r="2.8"/><circle cx="556.4" cy="170.6" r="2.8"/><circle cx="540.2" cy="174.1" r="2.8"/><circle cx="546.6" cy="178.2" r="2.8"/><circle cx="536.6" cy="183.4" r="2.8"/><circle cx="541.7" cy="184.1" r="2.8"/><circle cx="565.9" cy="185.6" r="2.8"/><circle cx="591.6" cy="185.6" r="2.8"/><circle cx="602.6" cy="191.1" r="2.8"/><circle cx="591.6" cy="185.6" r="2.8"/><circle cx="591.6" cy="191.4" r="2.8"/><circle cx="591.6" cy="199.1" r="2.8"/><circle cx="602.3" cy="191.1" r="2.8"/><circle cx="597.5" cy="194.4" r="2.8"/><circle cx="600.9" cy="199.9" r="2.8"/><circle cx="610.3" cy="193.6" r="2.8"/><circle cx="613.6" cy="187.8" r="2.8"/><circle cx="629.1" cy="185.6" r="2.8"/><circle cx="629.8" cy="189.2" r="2.8"/><circle cx="638.2" cy="188.5" r="2.8"/><circle cx="642.0" cy="187.8" r="2.8"/><circle cx="629.8" cy="196.6" r="2.8"/><circle cx="631.3" cy="201.0" r="2.8"/><circle cx="630.2" cy="205.4" r="2.8"/><circle cx="619.5" cy="195.8" r="2.8"/><circle cx="547.3" cy="229.4" r="2.8"/><circle cx="594.1" cy="234.3" r="2.8"/><circle cx="601.5" cy="217.0" r="2.8"/><circle cx="555.7" cy="213.3" r="2.8"/><circle cx="538.0" cy="210.3" r="2.8"/><circle cx="536.6" cy="206.7" r="2.8"/><circle cx="546.1" cy="206.7" r="2.8"/><circle cx="554.9" cy="208.9" r="2.8"/><circle cx="569.6" cy="210.3" r="2.8"/><circle cx="577.0" cy="209.6" r="2.8"/><circle cx="582.8" cy="205.2" r="2.8"/><circle cx="560.0" cy="206.7" r="2.8"/><circle cx="594.1" cy="234.6" r="2.8"/><circle cx="630.1" cy="220.6" r="2.8"/><circle cx="630.1" cy="212.5" r="2.8"/><circle cx="629.8" cy="206.2" r="2.8"/><circle cx="601.9" cy="217.2" r="2.8"/></g><path d="M523.4 192.2V208.0M520.9 192.2h5M520.9 208.0h5" stroke="#000" stroke-width="1.35" fill="none"/><path d="M551.3 191.0V208.0M548.3 191.0h6M548.3 208.0h6" stroke="#000" stroke-width="1.35" fill="none"/><path d="M569.6 190.0V210.0M566.6 190.0h6M566.6 210.0h6" stroke="#000" stroke-width="1.35" fill="none"/><path d="M615.1 189.2V211.1M612.1 189.2h6M612.1 211.1h6" stroke="#000" stroke-width="1.35" fill="none"/><path d="M621.7 182.6V206.1M618.7 182.6h6M618.7 206.1h6" stroke="#000" stroke-width="1.35" fill="none"/><rect x="520.2" y="196.8" width="6.4" height="6.4" fill="#000"/><rect x="548.1" y="196.3" width="6.4" height="6.4" fill="#000"/><rect x="566.4" y="195.6" width="6.4" height="6.4" fill="#000"/><rect x="611.9" y="197.0" width="6.4" height="6.4" fill="#000"/><circle cx="621.7" cy="194.4" r="3.3" fill="#1a0a14"/>
<rect x="509.0" y="158.0" width="165.0" height="91.5" fill="none" stroke="#000" stroke-width="1"/>
<line x1="509.00" y1="158.00" x2="503.50" y2="158.00" stroke="#000" stroke-width="1" />
<line x1="674.00" y1="158.00" x2="679.50" y2="158.00" stroke="#000" stroke-width="1" />
<line x1="509.00" y1="169.44" x2="506.20" y2="169.44" stroke="#000" stroke-width="1" />
<line x1="674.00" y1="169.44" x2="676.80" y2="169.44" stroke="#000" stroke-width="1" />
<line x1="509.00" y1="180.88" x2="503.50" y2="180.88" stroke="#000" stroke-width="1" />
<line x1="674.00" y1="180.88" x2="679.50" y2="180.88" stroke="#000" stroke-width="1" />
<line x1="509.00" y1="192.31" x2="506.20" y2="192.31" stroke="#000" stroke-width="1" />
<line x1="674.00" y1="192.31" x2="676.80" y2="192.31" stroke="#000" stroke-width="1" />
<line x1="509.00" y1="203.75" x2="503.50" y2="203.75" stroke="#000" stroke-width="1" />
<line x1="674.00" y1="203.75" x2="679.50" y2="203.75" stroke="#000" stroke-width="1" />
<line x1="509.00" y1="215.19" x2="506.20" y2="215.19" stroke="#000" stroke-width="1" />
<line x1="674.00" y1="215.19" x2="676.80" y2="215.19" stroke="#000" stroke-width="1" />
<line x1="509.00" y1="226.62" x2="503.50" y2="226.62" stroke="#000" stroke-width="1" />
<line x1="674.00" y1="226.62" x2="679.50" y2="226.62" stroke="#000" stroke-width="1" />
<line x1="509.00" y1="238.06" x2="506.20" y2="238.06" stroke="#000" stroke-width="1" />
<line x1="674.00" y1="238.06" x2="676.80" y2="238.06" stroke="#000" stroke-width="1" />
<line x1="509.00" y1="249.50" x2="503.50" y2="249.50" stroke="#000" stroke-width="1" />
<line x1="674.00" y1="249.50" x2="679.50" y2="249.50" stroke="#000" stroke-width="1" />
<line x1="509.00" y1="158.00" x2="509.00" y2="155.20" stroke="#000" stroke-width="1" />
<line x1="509.00" y1="249.50" x2="509.00" y2="252.30" stroke="#000" stroke-width="1" />
<line x1="527.33" y1="158.00" x2="527.33" y2="152.50" stroke="#000" stroke-width="1" />
<line x1="527.33" y1="249.50" x2="527.33" y2="255.00" stroke="#000" stroke-width="1" />
<line x1="545.67" y1="158.00" x2="545.67" y2="155.20" stroke="#000" stroke-width="1" />
<line x1="545.67" y1="249.50" x2="545.67" y2="252.30" stroke="#000" stroke-width="1" />
<line x1="564.00" y1="158.00" x2="564.00" y2="152.50" stroke="#000" stroke-width="1" />
<line x1="564.00" y1="249.50" x2="564.00" y2="255.00" stroke="#000" stroke-width="1" />
<line x1="582.33" y1="158.00" x2="582.33" y2="155.20" stroke="#000" stroke-width="1" />
<line x1="582.33" y1="249.50" x2="582.33" y2="252.30" stroke="#000" stroke-width="1" />
<line x1="600.67" y1="158.00" x2="600.67" y2="152.50" stroke="#000" stroke-width="1" />
<line x1="600.67" y1="249.50" x2="600.67" y2="255.00" stroke="#000" stroke-width="1" />
<line x1="619.00" y1="158.00" x2="619.00" y2="155.20" stroke="#000" stroke-width="1" />
<line x1="619.00" y1="249.50" x2="619.00" y2="252.30" stroke="#000" stroke-width="1" />
<line x1="637.33" y1="158.00" x2="637.33" y2="152.50" stroke="#000" stroke-width="1" />
<line x1="637.33" y1="249.50" x2="637.33" y2="255.00" stroke="#000" stroke-width="1" />
<line x1="655.67" y1="158.00" x2="655.67" y2="155.20" stroke="#000" stroke-width="1" />
<line x1="655.67" y1="249.50" x2="655.67" y2="252.30" stroke="#000" stroke-width="1" />
<line x1="674.00" y1="158.00" x2="674.00" y2="152.50" stroke="#000" stroke-width="1" />
<line x1="674.00" y1="249.50" x2="674.00" y2="255.00" stroke="#000" stroke-width="1" />
<text x="513.4" y="245.6" font-size="11.0" text-anchor="start" style="font-family:'Liberation Sans',sans-serif;" letter-spacing="0.14">Liu2016</text>
<text x="481.8" y="165.7" font-size="12.6" text-anchor="end" style="font-family:'Liberation Serif',serif;" >(e)</text>
<text x="499.6" y="161.3" font-size="11.6" text-anchor="end" style="font-family:'Liberation Serif',serif;" >1.0</text>
<text x="499.6" y="184.2" font-size="11.6" text-anchor="end" style="font-family:'Liberation Serif',serif;" >0.5</text>
<text x="499.6" y="207.1" font-size="11.6" text-anchor="end" style="font-family:'Liberation Serif',serif;" >0.0</text>
<text x="499.6" y="229.9" font-size="11.6" text-anchor="end" style="font-family:'Liberation Serif',serif;" >-0.5</text>
<text x="499.6" y="252.8" font-size="11.6" text-anchor="end" style="font-family:'Liberation Serif',serif;" >-1.0</text>
<text transform="translate(256.6,93.4) rotate(-90)" font-size="13.1" text-anchor="middle" style="font-family:'Liberation Serif',serif;">Total residuals</text>
<text transform="translate(256.6,202.2) rotate(-90)" font-size="13.1" text-anchor="middle" style="font-family:'Liberation Serif',serif;">Total residuals</text>
<text x="289.1" y="268.7" font-size="11.6" text-anchor="middle" style="font-family:'Liberation Serif',serif;">10<tspan dy="-4.4" font-size="7.0">-3</tspan></text>
<text x="339.0" y="268.7" font-size="11.6" text-anchor="middle" style="font-family:'Liberation Serif',serif;">10<tspan dy="-4.4" font-size="7.0">-2</tspan></text>
<text x="388.9" y="268.7" font-size="11.6" text-anchor="middle" style="font-family:'Liberation Serif',serif;">10<tspan dy="-4.4" font-size="7.0">-1</tspan></text>
<text x="438.8" y="268.7" font-size="11.6" text-anchor="middle" style="font-family:'Liberation Serif',serif;">10<tspan dy="-4.4" font-size="7.0">0</tspan></text>
<text x="372.3" y="289.8" font-size="13.1" text-anchor="middle" style="font-family:'Liberation Serif',serif;" >PGA[g]</text>
<text x="527.3" y="266.9" font-size="11.6" text-anchor="middle" style="font-family:'Liberation Serif',serif;" >200</text>
<text x="564.0" y="266.9" font-size="11.6" text-anchor="middle" style="font-family:'Liberation Serif',serif;" >400</text>
<text x="600.7" y="266.9" font-size="11.6" text-anchor="middle" style="font-family:'Liberation Serif',serif;" >600</text>
<text x="637.3" y="266.9" font-size="11.6" text-anchor="middle" style="font-family:'Liberation Serif',serif;" >800</text>
<text x="674.0" y="266.9" font-size="11.6" text-anchor="middle" style="font-family:'Liberation Serif',serif;" >1000</text>
<text x="591.9" y="288.1" font-size="13.2" text-anchor="middle" style="font-family:'Liberation Serif',serif;"><tspan font-style="italic">V</tspan><tspan dy="3.6" font-size="8.8" font-style="normal">S30</tspan><tspan dy="-3.6">[m/s]</tspan></text>
</svg></body></html>
